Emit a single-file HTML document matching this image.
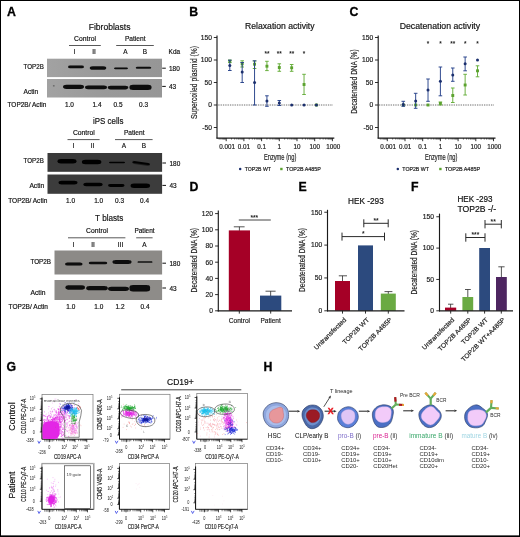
<!DOCTYPE html>
<html><head><meta charset="utf-8"><title>Figure</title>
<style>
html,body{margin:0;padding:0;background:#fff;}
body{width:520px;height:537px;overflow:hidden;position:relative;}
svg{will-change:transform;display:block;position:absolute;left:0;top:0;font-family:'Liberation Sans', sans-serif;}
</style></head><body>
<svg width="520" height="537" viewBox="0 0 520 537">
<defs>
<filter id="bl" x="-20%" y="-50%" width="140%" height="200%"><feGaussianBlur stdDeviation="0.75"/></filter>
<linearGradient id="gA1" x1="0" x2="1" y1="0" y2="0"><stop offset="0" stop-color="#a2a2a2"/><stop offset="0.5" stop-color="#999"/><stop offset="1" stop-color="#969696"/></linearGradient>
<filter id="bl2" x="-20%" y="-20%" width="140%" height="140%"><feGaussianBlur stdDeviation="1.2"/></filter>
</defs>
<rect x="0" y="0" width="520" height="537" fill="#fff"/>
<text x="7" y="16.2" font-size="12.3" text-anchor="start" font-weight="bold" fill="#000" stroke="#000" stroke-width="0.3">A</text>
<text x="0" y="0" font-size="9.2" text-anchor="middle" font-weight="normal" fill="#111" stroke="#111" stroke-width="0.18" transform="translate(109.6,30.4) scale(0.929,1)">Fibroblasts</text>
<text x="0" y="0" font-size="6.9" text-anchor="middle" font-weight="normal" fill="#111" stroke="#111" stroke-width="0.18" transform="translate(85,41.2) scale(0.98,1)">Control</text>
<line x1="69" y1="45.5" x2="100.8" y2="45.5" stroke="#111" stroke-width="0.7"/>
<text x="0" y="0" font-size="6.9" text-anchor="middle" font-weight="normal" fill="#111" stroke="#111" stroke-width="0.18" transform="translate(135.2,41.2) scale(0.959,1)">Patient</text>
<line x1="116.2" y1="45.5" x2="153.8" y2="45.5" stroke="#111" stroke-width="0.7"/>
<text x="0" y="0" font-size="6.8" text-anchor="middle" font-weight="normal" fill="#111" stroke="#111" stroke-width="0.18" transform="translate(74.5,53.9) scale(0.95,1)">I</text>
<text x="0" y="0" font-size="6.8" text-anchor="middle" font-weight="normal" fill="#111" stroke="#111" stroke-width="0.18" transform="translate(94,53.9) scale(0.95,1)">II</text>
<text x="0" y="0" font-size="6.8" text-anchor="middle" font-weight="normal" fill="#111" stroke="#111" stroke-width="0.18" transform="translate(125.5,53.9) scale(0.95,1)">A</text>
<text x="0" y="0" font-size="6.8" text-anchor="middle" font-weight="normal" fill="#111" stroke="#111" stroke-width="0.18" transform="translate(145,53.9) scale(0.95,1)">B</text>
<text x="0" y="0" font-size="6.8" text-anchor="start" font-weight="normal" fill="#111" stroke="#111" stroke-width="0.18" transform="translate(168.6,53.9) scale(0.95,1)">Kda</text>
<rect x="47" y="58.7" width="115" height="18.4" fill="url(#gA1)"/>
<rect x="47" y="79" width="115" height="18.5" fill="url(#gA1)"/>
<rect x="68.00" y="65.62" width="16" height="2.75" rx="2.20" ry="1.38" fill="#0a0a0a" opacity="1" filter="url(#bl)"/>
<rect x="89.75" y="66.19" width="16.5" height="3.61" rx="2.89" ry="1.80" fill="#0a0a0a" opacity="1" filter="url(#bl)"/>
<rect x="114.00" y="67.44" width="14" height="1.72" rx="1.38" ry="0.86" fill="#0a0a0a" opacity="1" filter="url(#bl)"/>
<rect x="135.75" y="66.77" width="15.5" height="2.06" rx="1.65" ry="1.03" fill="#0a0a0a" opacity="1" filter="url(#bl)"/>
<rect x="63.00" y="84.65" width="21" height="4.3" rx="3.44" ry="2.15" fill="#0a0a0a" opacity="1" filter="url(#bl)"/>
<rect x="85.00" y="85.41" width="22" height="3.78" rx="3.02" ry="1.89" fill="#0a0a0a" opacity="1" filter="url(#bl)"/>
<rect x="107.75" y="85.79" width="20.5" height="3.61" rx="2.89" ry="1.80" fill="#0a0a0a" opacity="1" filter="url(#bl)"/>
<rect x="129.50" y="84.82" width="22" height="5.16" rx="3.52" ry="2.20" fill="#0a0a0a" opacity="1" filter="url(#bl)"/>
<rect x="52.80" y="85.20" width="2" height="1.2" rx="0.96" ry="0.60" fill="#555" opacity="1" filter="url(#bl)"/>
<line x1="162.2" y1="68.2" x2="165.8" y2="68.2" stroke="#111" stroke-width="1.0"/>
<text x="0" y="0" font-size="6.8" text-anchor="start" font-weight="normal" fill="#111" stroke="#111" stroke-width="0.18" transform="translate(169,70.6) scale(0.95,1)">180</text>
<line x1="162.2" y1="86.4" x2="165.8" y2="86.4" stroke="#111" stroke-width="1.0"/>
<text x="0" y="0" font-size="6.8" text-anchor="start" font-weight="normal" fill="#111" stroke="#111" stroke-width="0.18" transform="translate(169,88.7) scale(0.95,1)">43</text>
<text x="0" y="0" font-size="6.8" text-anchor="start" font-weight="normal" fill="#111" stroke="#111" stroke-width="0.18" transform="translate(23.6,68.8) scale(0.911,1)">TOP2B</text>
<text x="0" y="0" font-size="6.8" text-anchor="start" font-weight="normal" fill="#111" stroke="#111" stroke-width="0.18" transform="translate(23.6,94.2) scale(0.972,1)">Actin</text>
<text x="0" y="0" font-size="6.8" text-anchor="start" font-weight="normal" fill="#111" stroke="#111" stroke-width="0.18" transform="translate(7.5,106.6) scale(0.958,1)">TOP2B/ Actin</text>
<text x="0" y="0" font-size="6.8" text-anchor="middle" font-weight="normal" fill="#111" stroke="#111" stroke-width="0.18" transform="translate(69.4,106.89999999999999) scale(0.95,1)">1.0</text>
<text x="0" y="0" font-size="6.8" text-anchor="middle" font-weight="normal" fill="#111" stroke="#111" stroke-width="0.18" transform="translate(97,106.89999999999999) scale(0.95,1)">1.4</text>
<text x="0" y="0" font-size="6.8" text-anchor="middle" font-weight="normal" fill="#111" stroke="#111" stroke-width="0.18" transform="translate(118,106.89999999999999) scale(0.95,1)">0.5</text>
<text x="0" y="0" font-size="6.8" text-anchor="middle" font-weight="normal" fill="#111" stroke="#111" stroke-width="0.18" transform="translate(143.6,106.89999999999999) scale(0.95,1)">0.3</text>
<text x="0" y="0" font-size="9.2" text-anchor="middle" font-weight="normal" fill="#111" stroke="#111" stroke-width="0.18" transform="translate(108.2,124.3) scale(0.862,1)">iPS cells</text>
<text x="0" y="0" font-size="6.9" text-anchor="middle" font-weight="normal" fill="#111" stroke="#111" stroke-width="0.18" transform="translate(83.8,135.4) scale(0.98,1)">Control</text>
<line x1="67.5" y1="139.6" x2="99.6" y2="139.6" stroke="#111" stroke-width="0.7"/>
<text x="0" y="0" font-size="6.9" text-anchor="middle" font-weight="normal" fill="#111" stroke="#111" stroke-width="0.18" transform="translate(134.2,135.4) scale(0.959,1)">Patient</text>
<line x1="115" y1="139.6" x2="152.6" y2="139.6" stroke="#111" stroke-width="0.7"/>
<text x="0" y="0" font-size="6.8" text-anchor="middle" font-weight="normal" fill="#111" stroke="#111" stroke-width="0.18" transform="translate(73.3,148.3) scale(0.95,1)">I</text>
<text x="0" y="0" font-size="6.8" text-anchor="middle" font-weight="normal" fill="#111" stroke="#111" stroke-width="0.18" transform="translate(92.6,148.3) scale(0.95,1)">II</text>
<text x="0" y="0" font-size="6.8" text-anchor="middle" font-weight="normal" fill="#111" stroke="#111" stroke-width="0.18" transform="translate(123.8,148.3) scale(0.95,1)">A</text>
<text x="0" y="0" font-size="6.8" text-anchor="middle" font-weight="normal" fill="#111" stroke="#111" stroke-width="0.18" transform="translate(143.8,148.3) scale(0.95,1)">B</text>
<rect x="47.5" y="153" width="114.6" height="18.8" fill="#3a3a3a"/>
<rect x="47.5" y="174.5" width="114.6" height="19.3" fill="#3c3c3c"/>
<rect x="57.50" y="159.10" width="19" height="4.4" rx="3.52" ry="2.20" fill="#000" opacity="1" filter="url(#bl)"/>
<rect x="81.85" y="159.80" width="19.5" height="4.4" rx="3.52" ry="2.20" fill="#000" opacity="1" filter="url(#bl)"/>
<rect x="109.00" y="161.84" width="16" height="1.32" rx="1.06" ry="0.66" fill="#000" opacity="1" filter="url(#bl)"/>
<rect x="132.45" y="162.00" width="17.5" height="2.4" rx="1.92" ry="1.20" fill="#000" opacity="1" filter="url(#bl)" transform="rotate(8 141.2 163.2)"/>
<rect x="58.50" y="180.66" width="19" height="3.87" rx="3.10" ry="1.94" fill="#000" opacity="1" filter="url(#bl)"/>
<rect x="83.25" y="182.64" width="19.5" height="3.52" rx="2.82" ry="1.76" fill="#000" opacity="1" filter="url(#bl)"/>
<rect x="108.05" y="184.00" width="16.5" height="2.99" rx="2.39" ry="1.50" fill="#000" opacity="1" filter="url(#bl)"/>
<rect x="130.55" y="183.50" width="19.5" height="4.4" rx="3.52" ry="2.20" fill="#000" opacity="1" filter="url(#bl)"/>
<line x1="162.4" y1="163" x2="166" y2="163" stroke="#111" stroke-width="1.0"/>
<text x="0" y="0" font-size="6.8" text-anchor="start" font-weight="normal" fill="#111" stroke="#111" stroke-width="0.18" transform="translate(169.5,165.5) scale(0.95,1)">180</text>
<line x1="162.4" y1="185.4" x2="166" y2="185.4" stroke="#111" stroke-width="1.0"/>
<text x="0" y="0" font-size="6.8" text-anchor="start" font-weight="normal" fill="#111" stroke="#111" stroke-width="0.18" transform="translate(169.5,187.9) scale(0.95,1)">43</text>
<text x="0" y="0" font-size="6.8" text-anchor="start" font-weight="normal" fill="#111" stroke="#111" stroke-width="0.18" transform="translate(23.6,163) scale(0.911,1)">TOP2B</text>
<text x="0" y="0" font-size="6.8" text-anchor="start" font-weight="normal" fill="#111" stroke="#111" stroke-width="0.18" transform="translate(29.4,188.2) scale(0.986,1)">Actin</text>
<text x="0" y="0" font-size="6.8" text-anchor="start" font-weight="normal" fill="#111" stroke="#111" stroke-width="0.18" transform="translate(8.2,203) scale(0.963,1)">TOP2B/ Actin</text>
<text x="0" y="0" font-size="6.8" text-anchor="middle" font-weight="normal" fill="#111" stroke="#111" stroke-width="0.18" transform="translate(70.5,203.3) scale(0.95,1)">1.0</text>
<text x="0" y="0" font-size="6.8" text-anchor="middle" font-weight="normal" fill="#111" stroke="#111" stroke-width="0.18" transform="translate(98.7,203.3) scale(0.95,1)">1.0</text>
<text x="0" y="0" font-size="6.8" text-anchor="middle" font-weight="normal" fill="#111" stroke="#111" stroke-width="0.18" transform="translate(119.5,203.3) scale(0.95,1)">0.3</text>
<text x="0" y="0" font-size="6.8" text-anchor="middle" font-weight="normal" fill="#111" stroke="#111" stroke-width="0.18" transform="translate(144.5,203.3) scale(0.95,1)">0.4</text>
<text x="0" y="0" font-size="9.2" text-anchor="middle" font-weight="normal" fill="#111" stroke="#111" stroke-width="0.18" transform="translate(109.2,221.3) scale(0.883,1)">T blasts</text>
<text x="0" y="0" font-size="6.9" text-anchor="middle" font-weight="normal" fill="#111" stroke="#111" stroke-width="0.18" transform="translate(97,233) scale(0.98,1)">Control</text>
<line x1="68" y1="237.8" x2="125.4" y2="237.8" stroke="#111" stroke-width="0.7"/>
<text x="0" y="0" font-size="6.9" text-anchor="middle" font-weight="normal" fill="#111" stroke="#111" stroke-width="0.18" transform="translate(144.5,233) scale(0.94,1)">Patient</text>
<line x1="136.2" y1="237.8" x2="152.6" y2="237.8" stroke="#111" stroke-width="0.7"/>
<text x="0" y="0" font-size="6.8" text-anchor="middle" font-weight="normal" fill="#111" stroke="#111" stroke-width="0.18" transform="translate(73.3,246.60000000000002) scale(0.95,1)">I</text>
<text x="0" y="0" font-size="6.8" text-anchor="middle" font-weight="normal" fill="#111" stroke="#111" stroke-width="0.18" transform="translate(93,246.60000000000002) scale(0.95,1)">II</text>
<text x="0" y="0" font-size="6.8" text-anchor="middle" font-weight="normal" fill="#111" stroke="#111" stroke-width="0.18" transform="translate(120.5,246.60000000000002) scale(0.95,1)">III</text>
<text x="0" y="0" font-size="6.8" text-anchor="middle" font-weight="normal" fill="#111" stroke="#111" stroke-width="0.18" transform="translate(144.3,246.60000000000002) scale(0.95,1)">A</text>
<rect x="54.5" y="250.5" width="107.6" height="24" fill="#8c8a87"/>
<rect x="54.5" y="280" width="107.6" height="20" fill="#8e8c89"/>
<rect x="65.05" y="262.45" width="17.5" height="3.1" rx="2.48" ry="1.55" fill="#0a0a0a" opacity="1" filter="url(#bl)"/>
<rect x="88.75" y="261.71" width="18.5" height="2.58" rx="2.06" ry="1.29" fill="#0a0a0a" opacity="1" filter="url(#bl)"/>
<rect x="112.50" y="260.02" width="19" height="3.96" rx="3.17" ry="1.98" fill="#0a0a0a" opacity="1" filter="url(#bl)"/>
<rect x="137.50" y="261.14" width="15" height="1.72" rx="1.38" ry="0.86" fill="#0a0a0a" opacity="1" filter="url(#bl)"/>
<rect x="65.45" y="285.35" width="19.5" height="4.3" rx="3.44" ry="2.15" fill="#0a0a0a" opacity="1" filter="url(#bl)"/>
<rect x="86.25" y="286.05" width="21.5" height="4.3" rx="3.44" ry="2.15" fill="#0a0a0a" opacity="1" filter="url(#bl)"/>
<rect x="108.00" y="286.65" width="21" height="4.3" rx="3.44" ry="2.15" fill="#0a0a0a" opacity="1" filter="url(#bl)"/>
<rect x="129.55" y="284.93" width="20.5" height="6.54" rx="3.52" ry="2.20" fill="#0a0a0a" opacity="1" filter="url(#bl)"/>
<line x1="162.4" y1="263.2" x2="166" y2="263.2" stroke="#111" stroke-width="1.0"/>
<text x="0" y="0" font-size="6.8" text-anchor="start" font-weight="normal" fill="#111" stroke="#111" stroke-width="0.18" transform="translate(169.5,265.7) scale(0.95,1)">180</text>
<line x1="162.4" y1="288" x2="166" y2="288" stroke="#111" stroke-width="1.0"/>
<text x="0" y="0" font-size="6.8" text-anchor="start" font-weight="normal" fill="#111" stroke="#111" stroke-width="0.18" transform="translate(169.5,290.5) scale(0.95,1)">43</text>
<text x="0" y="0" font-size="6.8" text-anchor="start" font-weight="normal" fill="#111" stroke="#111" stroke-width="0.18" transform="translate(30.4,264) scale(0.929,1)">TOP2B</text>
<text x="0" y="0" font-size="6.8" text-anchor="start" font-weight="normal" fill="#111" stroke="#111" stroke-width="0.18" transform="translate(30.4,294.5) scale(0.992,1)">Actin</text>
<text x="0" y="0" font-size="6.8" text-anchor="start" font-weight="normal" fill="#111" stroke="#111" stroke-width="0.18" transform="translate(8.6,308.8) scale(0.966,1)">TOP2B/ Actin</text>
<text x="0" y="0" font-size="6.8" text-anchor="middle" font-weight="normal" fill="#111" stroke="#111" stroke-width="0.18" transform="translate(70.8,309.1) scale(0.95,1)">1.0</text>
<text x="0" y="0" font-size="6.8" text-anchor="middle" font-weight="normal" fill="#111" stroke="#111" stroke-width="0.18" transform="translate(98.8,309.1) scale(0.95,1)">1.0</text>
<text x="0" y="0" font-size="6.8" text-anchor="middle" font-weight="normal" fill="#111" stroke="#111" stroke-width="0.18" transform="translate(120,309.1) scale(0.95,1)">1.2</text>
<text x="0" y="0" font-size="6.8" text-anchor="middle" font-weight="normal" fill="#111" stroke="#111" stroke-width="0.18" transform="translate(145,309.1) scale(0.95,1)">0.4</text>
<text x="189.3" y="16.2" font-size="12.3" text-anchor="start" font-weight="bold" fill="#000" stroke="#000" stroke-width="0.3">B</text>
<text x="0" y="0" font-size="8.6" text-anchor="middle" font-weight="normal" fill="#111" stroke="#111" stroke-width="0.18" transform="translate(279.8,29) scale(1.004,1)">Relaxation activity</text>
<line x1="217" y1="35.6" x2="217" y2="138.6" stroke="#1a1a1a" stroke-width="1.15"/>
<line x1="216.5" y1="138.0" x2="334.3" y2="138.0" stroke="#1a1a1a" stroke-width="1.25"/>
<line x1="213.8" y1="37.5" x2="217" y2="37.5" stroke="#1a1a1a" stroke-width="0.9"/>
<text x="0" y="0" font-size="6.5" text-anchor="end" font-weight="normal" fill="#222" stroke="#222" stroke-width="0.18" transform="translate(212,39.8) scale(1.03,1)">150</text>
<line x1="213.8" y1="60.0" x2="217" y2="60.0" stroke="#1a1a1a" stroke-width="0.9"/>
<text x="0" y="0" font-size="6.5" text-anchor="end" font-weight="normal" fill="#222" stroke="#222" stroke-width="0.18" transform="translate(212,62.3) scale(1.03,1)">100</text>
<line x1="213.8" y1="82.5" x2="217" y2="82.5" stroke="#1a1a1a" stroke-width="0.9"/>
<text x="0" y="0" font-size="6.5" text-anchor="end" font-weight="normal" fill="#222" stroke="#222" stroke-width="0.18" transform="translate(212,84.8) scale(1.03,1)">50</text>
<line x1="213.8" y1="105.0" x2="217" y2="105.0" stroke="#1a1a1a" stroke-width="0.9"/>
<text x="0" y="0" font-size="6.5" text-anchor="end" font-weight="normal" fill="#222" stroke="#222" stroke-width="0.18" transform="translate(212,107.3) scale(1.03,1)">0</text>
<line x1="213.8" y1="127.5" x2="217" y2="127.5" stroke="#1a1a1a" stroke-width="0.9"/>
<text x="0" y="0" font-size="6.5" text-anchor="end" font-weight="normal" fill="#222" stroke="#222" stroke-width="0.18" transform="translate(212,129.8) scale(1.03,1)">-50</text>
<text x="0" y="0" font-size="8.8" text-anchor="middle" font-weight="normal" fill="#222" stroke="#222" stroke-width="0.18" transform="translate(196.6,82.5) rotate(-90) scale(0.765,1)">Supercoiled plasmid (%)</text>
<line x1="217.8" y1="105.0" x2="333" y2="105.0" stroke="#333" stroke-width="0.9" stroke-dasharray="0.8 0.95"/>
<path d="M226.20 138.0v3.2M243.90 138.0v3.2M261.60 138.0v3.2M279.30 138.0v3.2M297.00 138.0v3.2M314.70 138.0v3.2M332.40 138.0v3.2" stroke="#1a1a1a" stroke-width="0.9" fill="none"/>
<path d="M219.16 138.0v1.7M220.87 138.0v1.7M222.27 138.0v1.7M223.46 138.0v1.7M224.48 138.0v1.7M225.39 138.0v1.7M231.53 138.0v1.7M234.65 138.0v1.7M236.86 138.0v1.7M238.57 138.0v1.7M239.97 138.0v1.7M241.16 138.0v1.7M242.18 138.0v1.7M243.09 138.0v1.7M249.23 138.0v1.7M252.35 138.0v1.7M254.56 138.0v1.7M256.27 138.0v1.7M257.67 138.0v1.7M258.86 138.0v1.7M259.88 138.0v1.7M260.79 138.0v1.7M266.93 138.0v1.7M270.05 138.0v1.7M272.26 138.0v1.7M273.97 138.0v1.7M275.37 138.0v1.7M276.56 138.0v1.7M277.58 138.0v1.7M278.49 138.0v1.7M284.63 138.0v1.7M287.75 138.0v1.7M289.96 138.0v1.7M291.67 138.0v1.7M293.07 138.0v1.7M294.26 138.0v1.7M295.28 138.0v1.7M296.19 138.0v1.7M302.33 138.0v1.7M305.45 138.0v1.7M307.66 138.0v1.7M309.37 138.0v1.7M310.77 138.0v1.7M311.96 138.0v1.7M312.98 138.0v1.7M313.89 138.0v1.7M320.03 138.0v1.7M323.15 138.0v1.7M325.36 138.0v1.7M327.07 138.0v1.7M328.47 138.0v1.7M329.66 138.0v1.7M330.68 138.0v1.7M331.59 138.0v1.7" stroke="#1a1a1a" stroke-width="0.55" fill="none"/>
<text x="0" y="0" font-size="6.3" text-anchor="middle" font-weight="normal" fill="#222" stroke="#222" stroke-width="0.18" transform="translate(227.00000000000003,149) scale(1.0,1)">0.001</text>
<text x="0" y="0" font-size="6.3" text-anchor="middle" font-weight="normal" fill="#222" stroke="#222" stroke-width="0.18" transform="translate(243.9,149) scale(1.0,1)">0.01</text>
<text x="0" y="0" font-size="6.3" text-anchor="middle" font-weight="normal" fill="#222" stroke="#222" stroke-width="0.18" transform="translate(261.6,149) scale(1.0,1)">0.1</text>
<text x="0" y="0" font-size="6.3" text-anchor="middle" font-weight="normal" fill="#222" stroke="#222" stroke-width="0.18" transform="translate(279.3,149) scale(1.0,1)">1</text>
<text x="0" y="0" font-size="6.3" text-anchor="middle" font-weight="normal" fill="#222" stroke="#222" stroke-width="0.18" transform="translate(297.0,149) scale(1.0,1)">10</text>
<text x="0" y="0" font-size="6.3" text-anchor="middle" font-weight="normal" fill="#222" stroke="#222" stroke-width="0.18" transform="translate(314.7,149) scale(1.0,1)">100</text>
<text x="0" y="0" font-size="6.3" text-anchor="middle" font-weight="normal" fill="#222" stroke="#222" stroke-width="0.18" transform="translate(333.2,149) scale(1.0,1)">1000</text>
<text x="0" y="0" font-size="8.8" text-anchor="middle" font-weight="normal" fill="#222" stroke="#222" stroke-width="0.18" transform="translate(280.1,160.4) scale(0.652,1)">Enzyme (ng)</text>
<line x1="229.81" y1="60.2" x2="229.81" y2="62.6" stroke="#64ad38" stroke-width="0.95"/>
<line x1="228.01" y1="60.2" x2="231.61" y2="60.2" stroke="#64ad38" stroke-width="0.95"/>
<line x1="228.01" y1="62.6" x2="231.61" y2="62.6" stroke="#64ad38" stroke-width="0.95"/>
<rect x="228.36" y="59.75" width="2.9" height="2.9" fill="#5ba22e"/>
<line x1="242.18" y1="60.8" x2="242.18" y2="67" stroke="#64ad38" stroke-width="0.95"/>
<line x1="240.38" y1="60.8" x2="243.98000000000002" y2="60.8" stroke="#64ad38" stroke-width="0.95"/>
<line x1="240.38" y1="67" x2="243.98000000000002" y2="67" stroke="#64ad38" stroke-width="0.95"/>
<rect x="240.73" y="62.35" width="2.9" height="2.9" fill="#5ba22e"/>
<line x1="254.56" y1="61" x2="254.56" y2="68.5" stroke="#64ad38" stroke-width="0.95"/>
<line x1="252.76" y1="61" x2="256.36" y2="61" stroke="#64ad38" stroke-width="0.95"/>
<line x1="252.76" y1="68.5" x2="256.36" y2="68.5" stroke="#64ad38" stroke-width="0.95"/>
<rect x="253.11" y="62.75" width="2.9" height="2.9" fill="#5ba22e"/>
<line x1="266.93" y1="61.3" x2="266.93" y2="70.6" stroke="#64ad38" stroke-width="0.95"/>
<line x1="265.13" y1="61.3" x2="268.73" y2="61.3" stroke="#64ad38" stroke-width="0.95"/>
<line x1="265.13" y1="70.6" x2="268.73" y2="70.6" stroke="#64ad38" stroke-width="0.95"/>
<rect x="265.48" y="64.75" width="2.9" height="2.9" fill="#5ba22e"/>
<line x1="279.3" y1="63.8" x2="279.3" y2="71.3" stroke="#64ad38" stroke-width="0.95"/>
<line x1="277.5" y1="63.8" x2="281.1" y2="63.8" stroke="#64ad38" stroke-width="0.95"/>
<line x1="277.5" y1="71.3" x2="281.1" y2="71.3" stroke="#64ad38" stroke-width="0.95"/>
<rect x="277.85" y="66.05" width="2.9" height="2.9" fill="#5ba22e"/>
<line x1="291.67" y1="64.5" x2="291.67" y2="71.3" stroke="#64ad38" stroke-width="0.95"/>
<line x1="289.87" y1="64.5" x2="293.47" y2="64.5" stroke="#64ad38" stroke-width="0.95"/>
<line x1="289.87" y1="71.3" x2="293.47" y2="71.3" stroke="#64ad38" stroke-width="0.95"/>
<rect x="290.22" y="66.35" width="2.9" height="2.9" fill="#5ba22e"/>
<line x1="304.04" y1="74.3" x2="304.04" y2="94.5" stroke="#64ad38" stroke-width="0.95"/>
<line x1="302.24" y1="74.3" x2="305.84000000000003" y2="74.3" stroke="#64ad38" stroke-width="0.95"/>
<line x1="302.24" y1="94.5" x2="305.84000000000003" y2="94.5" stroke="#64ad38" stroke-width="0.95"/>
<rect x="302.59" y="83.05" width="2.9" height="2.9" fill="#5ba22e"/>
<rect x="314.97" y="103.55" width="2.9" height="2.9" fill="#5ba22e"/>
<line x1="229.81" y1="60.2" x2="229.81" y2="70.5" stroke="#26418a" stroke-width="0.95"/>
<line x1="228.01" y1="60.2" x2="231.61" y2="60.2" stroke="#26418a" stroke-width="0.95"/>
<line x1="228.01" y1="70.5" x2="231.61" y2="70.5" stroke="#26418a" stroke-width="0.95"/>
<circle cx="229.81" cy="65.5" r="1.5" fill="#1b2f6d"/>
<line x1="242.18" y1="62.5" x2="242.18" y2="82.5" stroke="#26418a" stroke-width="0.95"/>
<line x1="240.38" y1="62.5" x2="243.98000000000002" y2="62.5" stroke="#26418a" stroke-width="0.95"/>
<line x1="240.38" y1="82.5" x2="243.98000000000002" y2="82.5" stroke="#26418a" stroke-width="0.95"/>
<circle cx="242.18" cy="72" r="1.5" fill="#1b2f6d"/>
<line x1="254.56" y1="60.8" x2="254.56" y2="105" stroke="#26418a" stroke-width="0.95"/>
<line x1="252.76" y1="60.8" x2="256.36" y2="60.8" stroke="#26418a" stroke-width="0.95"/>
<line x1="252.76" y1="105" x2="256.36" y2="105" stroke="#26418a" stroke-width="0.95"/>
<circle cx="254.56" cy="82.5" r="1.5" fill="#1b2f6d"/>
<line x1="266.93" y1="95.8" x2="266.93" y2="106.3" stroke="#26418a" stroke-width="0.95"/>
<line x1="265.13" y1="95.8" x2="268.73" y2="95.8" stroke="#26418a" stroke-width="0.95"/>
<line x1="265.13" y1="106.3" x2="268.73" y2="106.3" stroke="#26418a" stroke-width="0.95"/>
<circle cx="266.93" cy="101" r="1.5" fill="#1b2f6d"/>
<line x1="279.3" y1="100.5" x2="279.3" y2="105.5" stroke="#26418a" stroke-width="0.95"/>
<line x1="277.5" y1="100.5" x2="281.1" y2="100.5" stroke="#26418a" stroke-width="0.95"/>
<line x1="277.5" y1="105.5" x2="281.1" y2="105.5" stroke="#26418a" stroke-width="0.95"/>
<circle cx="279.3" cy="103" r="1.5" fill="#1b2f6d"/>
<circle cx="291.67" cy="105" r="1.5" fill="#1b2f6d"/>
<circle cx="304.04" cy="105" r="1.5" fill="#1b2f6d"/>
<circle cx="316.42" cy="105" r="1.5" fill="#1b2f6d"/>
<text x="266.93" y="56.2" font-size="6.4" text-anchor="middle" font-weight="bold" fill="#222" stroke="none">**</text>
<text x="279.3" y="56.2" font-size="6.4" text-anchor="middle" font-weight="bold" fill="#222" stroke="none">**</text>
<text x="291.67" y="56.2" font-size="6.4" text-anchor="middle" font-weight="bold" fill="#222" stroke="none">**</text>
<text x="304.04" y="56.2" font-size="6.4" text-anchor="middle" font-weight="bold" fill="#222" stroke="none">*</text>
<circle cx="240.2" cy="169" r="1.25" fill="#1b2f6d"/>
<text x="0" y="0" font-size="4.9" text-anchor="start" font-weight="normal" fill="#222" stroke="#222" stroke-width="0.18" transform="translate(244.8,170.7) scale(1.05,1)">TOP2B WT</text>
<rect x="280.20" y="167.80" width="2.4" height="2.4" fill="#5ba22e"/>
<text x="0" y="0" font-size="4.9" text-anchor="start" font-weight="normal" fill="#222" stroke="#222" stroke-width="0.18" transform="translate(286,170.7) scale(1.095,1)">TOP2B A485P</text>
<text x="349.6" y="16.2" font-size="12.3" text-anchor="start" font-weight="bold" fill="#000" stroke="#000" stroke-width="0.3">C</text>
<text x="0" y="0" font-size="8.6" text-anchor="middle" font-weight="normal" fill="#111" stroke="#111" stroke-width="0.18" transform="translate(439.9,29) scale(1.016,1)">Decatenation activity</text>
<line x1="378.2" y1="35.6" x2="378.2" y2="138.6" stroke="#1a1a1a" stroke-width="1.15"/>
<line x1="377.7" y1="138.0" x2="495.5" y2="138.0" stroke="#1a1a1a" stroke-width="1.25"/>
<line x1="375.0" y1="37.5" x2="378.2" y2="37.5" stroke="#1a1a1a" stroke-width="0.9"/>
<text x="0" y="0" font-size="6.5" text-anchor="end" font-weight="normal" fill="#222" stroke="#222" stroke-width="0.18" transform="translate(373.2,39.8) scale(1.03,1)">150</text>
<line x1="375.0" y1="60.0" x2="378.2" y2="60.0" stroke="#1a1a1a" stroke-width="0.9"/>
<text x="0" y="0" font-size="6.5" text-anchor="end" font-weight="normal" fill="#222" stroke="#222" stroke-width="0.18" transform="translate(373.2,62.3) scale(1.03,1)">100</text>
<line x1="375.0" y1="82.5" x2="378.2" y2="82.5" stroke="#1a1a1a" stroke-width="0.9"/>
<text x="0" y="0" font-size="6.5" text-anchor="end" font-weight="normal" fill="#222" stroke="#222" stroke-width="0.18" transform="translate(373.2,84.8) scale(1.03,1)">50</text>
<line x1="375.0" y1="105.0" x2="378.2" y2="105.0" stroke="#1a1a1a" stroke-width="0.9"/>
<text x="0" y="0" font-size="6.5" text-anchor="end" font-weight="normal" fill="#222" stroke="#222" stroke-width="0.18" transform="translate(373.2,107.3) scale(1.03,1)">0</text>
<line x1="375.0" y1="127.5" x2="378.2" y2="127.5" stroke="#1a1a1a" stroke-width="0.9"/>
<text x="0" y="0" font-size="6.5" text-anchor="end" font-weight="normal" fill="#222" stroke="#222" stroke-width="0.18" transform="translate(373.2,129.8) scale(1.03,1)">-50</text>
<text x="0" y="0" font-size="8.8" text-anchor="middle" font-weight="normal" fill="#222" stroke="#222" stroke-width="0.18" transform="translate(357.2,81.6) rotate(-90) scale(0.745,1)">Decatenated DNA (%)</text>
<line x1="379.0" y1="105.0" x2="494.2" y2="105.0" stroke="#333" stroke-width="0.9" stroke-dasharray="0.8 0.95"/>
<path d="M387.30 138.0v3.2M405.00 138.0v3.2M422.70 138.0v3.2M440.40 138.0v3.2M458.10 138.0v3.2M475.80 138.0v3.2M493.50 138.0v3.2" stroke="#1a1a1a" stroke-width="0.9" fill="none"/>
<path d="M380.26 138.0v1.7M381.97 138.0v1.7M383.37 138.0v1.7M384.56 138.0v1.7M385.58 138.0v1.7M386.49 138.0v1.7M392.63 138.0v1.7M395.75 138.0v1.7M397.96 138.0v1.7M399.67 138.0v1.7M401.07 138.0v1.7M402.26 138.0v1.7M403.28 138.0v1.7M404.19 138.0v1.7M410.33 138.0v1.7M413.45 138.0v1.7M415.66 138.0v1.7M417.37 138.0v1.7M418.77 138.0v1.7M419.96 138.0v1.7M420.98 138.0v1.7M421.89 138.0v1.7M428.03 138.0v1.7M431.15 138.0v1.7M433.36 138.0v1.7M435.07 138.0v1.7M436.47 138.0v1.7M437.66 138.0v1.7M438.68 138.0v1.7M439.59 138.0v1.7M445.73 138.0v1.7M448.85 138.0v1.7M451.06 138.0v1.7M452.77 138.0v1.7M454.17 138.0v1.7M455.36 138.0v1.7M456.38 138.0v1.7M457.29 138.0v1.7M463.43 138.0v1.7M466.55 138.0v1.7M468.76 138.0v1.7M470.47 138.0v1.7M471.87 138.0v1.7M473.06 138.0v1.7M474.08 138.0v1.7M474.99 138.0v1.7M481.13 138.0v1.7M484.25 138.0v1.7M486.46 138.0v1.7M488.17 138.0v1.7M489.57 138.0v1.7M490.76 138.0v1.7M491.78 138.0v1.7M492.69 138.0v1.7" stroke="#1a1a1a" stroke-width="0.55" fill="none"/>
<text x="0" y="0" font-size="6.3" text-anchor="middle" font-weight="normal" fill="#222" stroke="#222" stroke-width="0.18" transform="translate(388.09999999999997,149) scale(1.0,1)">0.001</text>
<text x="0" y="0" font-size="6.3" text-anchor="middle" font-weight="normal" fill="#222" stroke="#222" stroke-width="0.18" transform="translate(405.0,149) scale(1.0,1)">0.01</text>
<text x="0" y="0" font-size="6.3" text-anchor="middle" font-weight="normal" fill="#222" stroke="#222" stroke-width="0.18" transform="translate(422.7,149) scale(1.0,1)">0.1</text>
<text x="0" y="0" font-size="6.3" text-anchor="middle" font-weight="normal" fill="#222" stroke="#222" stroke-width="0.18" transform="translate(440.4,149) scale(1.0,1)">1</text>
<text x="0" y="0" font-size="6.3" text-anchor="middle" font-weight="normal" fill="#222" stroke="#222" stroke-width="0.18" transform="translate(458.09999999999997,149) scale(1.0,1)">10</text>
<text x="0" y="0" font-size="6.3" text-anchor="middle" font-weight="normal" fill="#222" stroke="#222" stroke-width="0.18" transform="translate(475.79999999999995,149) scale(1.0,1)">100</text>
<text x="0" y="0" font-size="6.3" text-anchor="middle" font-weight="normal" fill="#222" stroke="#222" stroke-width="0.18" transform="translate(494.3,149) scale(1.0,1)">1000</text>
<text x="0" y="0" font-size="8.8" text-anchor="middle" font-weight="normal" fill="#222" stroke="#222" stroke-width="0.18" transform="translate(441.2,160.4) scale(0.652,1)">Enzyme (ng)</text>
<rect x="401.83" y="103.55" width="2.9" height="2.9" fill="#5ba22e"/>
<rect x="414.21" y="103.55" width="2.9" height="2.9" fill="#5ba22e"/>
<rect x="426.58" y="103.55" width="2.9" height="2.9" fill="#5ba22e"/>
<line x1="440.4" y1="102" x2="440.4" y2="105" stroke="#64ad38" stroke-width="0.95"/>
<line x1="438.59999999999997" y1="102" x2="442.2" y2="102" stroke="#64ad38" stroke-width="0.95"/>
<line x1="438.59999999999997" y1="105" x2="442.2" y2="105" stroke="#64ad38" stroke-width="0.95"/>
<rect x="438.95" y="101.95" width="2.9" height="2.9" fill="#5ba22e"/>
<line x1="452.77" y1="88" x2="452.77" y2="102.5" stroke="#64ad38" stroke-width="0.95"/>
<line x1="450.96999999999997" y1="88" x2="454.57" y2="88" stroke="#64ad38" stroke-width="0.95"/>
<line x1="450.96999999999997" y1="102.5" x2="454.57" y2="102.5" stroke="#64ad38" stroke-width="0.95"/>
<rect x="451.32" y="94.05" width="2.9" height="2.9" fill="#5ba22e"/>
<line x1="465.14" y1="74.3" x2="465.14" y2="95" stroke="#64ad38" stroke-width="0.95"/>
<line x1="463.34" y1="74.3" x2="466.94" y2="74.3" stroke="#64ad38" stroke-width="0.95"/>
<line x1="463.34" y1="95" x2="466.94" y2="95" stroke="#64ad38" stroke-width="0.95"/>
<rect x="463.69" y="83.55" width="2.9" height="2.9" fill="#5ba22e"/>
<line x1="477.52" y1="65.8" x2="477.52" y2="76.8" stroke="#64ad38" stroke-width="0.95"/>
<line x1="475.71999999999997" y1="65.8" x2="479.32" y2="65.8" stroke="#64ad38" stroke-width="0.95"/>
<line x1="475.71999999999997" y1="76.8" x2="479.32" y2="76.8" stroke="#64ad38" stroke-width="0.95"/>
<rect x="476.07" y="69.35" width="2.9" height="2.9" fill="#5ba22e"/>
<line x1="403.28" y1="101.3" x2="403.28" y2="106.3" stroke="#26418a" stroke-width="0.95"/>
<line x1="401.47999999999996" y1="101.3" x2="405.08" y2="101.3" stroke="#26418a" stroke-width="0.95"/>
<line x1="401.47999999999996" y1="106.3" x2="405.08" y2="106.3" stroke="#26418a" stroke-width="0.95"/>
<circle cx="403.28" cy="104.5" r="1.5" fill="#1b2f6d"/>
<line x1="415.66" y1="93.3" x2="415.66" y2="108.3" stroke="#26418a" stroke-width="0.95"/>
<line x1="413.86" y1="93.3" x2="417.46000000000004" y2="93.3" stroke="#26418a" stroke-width="0.95"/>
<line x1="413.86" y1="108.3" x2="417.46000000000004" y2="108.3" stroke="#26418a" stroke-width="0.95"/>
<circle cx="415.66" cy="101" r="1.5" fill="#1b2f6d"/>
<line x1="428.03" y1="79" x2="428.03" y2="101.3" stroke="#26418a" stroke-width="0.95"/>
<line x1="426.22999999999996" y1="79" x2="429.83" y2="79" stroke="#26418a" stroke-width="0.95"/>
<line x1="426.22999999999996" y1="101.3" x2="429.83" y2="101.3" stroke="#26418a" stroke-width="0.95"/>
<circle cx="428.03" cy="90" r="1.5" fill="#1b2f6d"/>
<line x1="440.4" y1="67" x2="440.4" y2="95.8" stroke="#26418a" stroke-width="0.95"/>
<line x1="438.59999999999997" y1="67" x2="442.2" y2="67" stroke="#26418a" stroke-width="0.95"/>
<line x1="438.59999999999997" y1="95.8" x2="442.2" y2="95.8" stroke="#26418a" stroke-width="0.95"/>
<circle cx="440.4" cy="81.3" r="1.5" fill="#1b2f6d"/>
<line x1="452.77" y1="68" x2="452.77" y2="81.3" stroke="#26418a" stroke-width="0.95"/>
<line x1="450.96999999999997" y1="68" x2="454.57" y2="68" stroke="#26418a" stroke-width="0.95"/>
<line x1="450.96999999999997" y1="81.3" x2="454.57" y2="81.3" stroke="#26418a" stroke-width="0.95"/>
<circle cx="452.77" cy="75" r="1.5" fill="#1b2f6d"/>
<line x1="465.14" y1="57" x2="465.14" y2="70.8" stroke="#26418a" stroke-width="0.95"/>
<line x1="463.34" y1="57" x2="466.94" y2="57" stroke="#26418a" stroke-width="0.95"/>
<line x1="463.34" y1="70.8" x2="466.94" y2="70.8" stroke="#26418a" stroke-width="0.95"/>
<circle cx="465.14" cy="63.8" r="1.5" fill="#1b2f6d"/>
<circle cx="477.52" cy="60" r="1.5" fill="#1b2f6d"/>
<text x="428.03" y="46.2" font-size="6.4" text-anchor="middle" font-weight="bold" fill="#222" stroke="none">*</text>
<text x="440.4" y="46.2" font-size="6.4" text-anchor="middle" font-weight="bold" fill="#222" stroke="none">*</text>
<text x="452.77" y="46.2" font-size="6.4" text-anchor="middle" font-weight="bold" fill="#222" stroke="none">**</text>
<text x="465.14" y="46.2" font-size="6.4" text-anchor="middle" font-weight="bold" fill="#222" stroke="none">*</text>
<text x="477.52" y="46.2" font-size="6.4" text-anchor="middle" font-weight="bold" fill="#222" stroke="none">*</text>
<circle cx="397.8" cy="169" r="1.25" fill="#1b2f6d"/>
<text x="0" y="0" font-size="4.9" text-anchor="start" font-weight="normal" fill="#222" stroke="#222" stroke-width="0.18" transform="translate(402.3,170.7) scale(1.066,1)">TOP2B WT</text>
<rect x="439.20" y="167.80" width="2.4" height="2.4" fill="#5ba22e"/>
<text x="0" y="0" font-size="4.9" text-anchor="start" font-weight="normal" fill="#222" stroke="#222" stroke-width="0.18" transform="translate(444.9,170.7) scale(1.108,1)">TOP2B A485P</text>
<text x="189.6" y="190.8" font-size="12.3" text-anchor="start" font-weight="bold" fill="#000" stroke="#000" stroke-width="0.3">D</text>
<line x1="218.3" y1="210.6" x2="218.3" y2="311.40000000000003" stroke="#1a1a1a" stroke-width="1.15"/>
<line x1="215.10000000000002" y1="310.8" x2="218.3" y2="310.8" stroke="#1a1a1a" stroke-width="0.9"/>
<text x="0" y="0" font-size="6.5" text-anchor="end" font-weight="normal" fill="#222" stroke="#222" stroke-width="0.18" transform="translate(213,313.1) scale(1.03,1)">0</text>
<line x1="215.10000000000002" y1="294.6" x2="218.3" y2="294.6" stroke="#1a1a1a" stroke-width="0.9"/>
<text x="0" y="0" font-size="6.5" text-anchor="end" font-weight="normal" fill="#222" stroke="#222" stroke-width="0.18" transform="translate(213,296.90000000000003) scale(1.03,1)">20</text>
<line x1="215.10000000000002" y1="278.4" x2="218.3" y2="278.4" stroke="#1a1a1a" stroke-width="0.9"/>
<text x="0" y="0" font-size="6.5" text-anchor="end" font-weight="normal" fill="#222" stroke="#222" stroke-width="0.18" transform="translate(213,280.7) scale(1.03,1)">40</text>
<line x1="215.10000000000002" y1="262.2" x2="218.3" y2="262.2" stroke="#1a1a1a" stroke-width="0.9"/>
<text x="0" y="0" font-size="6.5" text-anchor="end" font-weight="normal" fill="#222" stroke="#222" stroke-width="0.18" transform="translate(213,264.5) scale(1.03,1)">60</text>
<line x1="215.10000000000002" y1="246.0" x2="218.3" y2="246.0" stroke="#1a1a1a" stroke-width="0.9"/>
<text x="0" y="0" font-size="6.5" text-anchor="end" font-weight="normal" fill="#222" stroke="#222" stroke-width="0.18" transform="translate(213,248.3) scale(1.03,1)">80</text>
<line x1="215.10000000000002" y1="229.8" x2="218.3" y2="229.8" stroke="#1a1a1a" stroke-width="0.9"/>
<text x="0" y="0" font-size="6.5" text-anchor="end" font-weight="normal" fill="#222" stroke="#222" stroke-width="0.18" transform="translate(213,232.10000000000002) scale(1.03,1)">100</text>
<line x1="215.10000000000002" y1="213.60000000000002" x2="218.3" y2="213.60000000000002" stroke="#1a1a1a" stroke-width="0.9"/>
<text x="0" y="0" font-size="6.5" text-anchor="end" font-weight="normal" fill="#222" stroke="#222" stroke-width="0.18" transform="translate(213,215.90000000000003) scale(1.03,1)">120</text>
<text x="0" y="0" font-size="8.8" text-anchor="middle" font-weight="normal" fill="#222" stroke="#222" stroke-width="0.18" transform="translate(196.6,260.2) rotate(-90) scale(0.745,1)">Decatenated DNA (%)</text>
<line x1="239.4" y1="226.8" x2="239.4" y2="230.9" stroke="#2a2a2a" stroke-width="0.8"/>
<line x1="233.8" y1="226.8" x2="244.6" y2="226.8" stroke="#2a2a2a" stroke-width="0.8"/>
<rect x="228.8" y="230.4" width="21.2" height="80.4" fill="#a50026"/>
<line x1="270.65" y1="291.2" x2="270.65" y2="296.1" stroke="#2a2a2a" stroke-width="0.8"/>
<line x1="265.5" y1="291.2" x2="275.6" y2="291.2" stroke="#2a2a2a" stroke-width="0.8"/>
<rect x="260" y="295.6" width="21.3" height="15.2" fill="#2c4a7e"/>
<line x1="217.8" y1="310.8" x2="292" y2="310.8" stroke="#1a1a1a" stroke-width="1.25"/>
<line x1="239.3" y1="310.8" x2="239.3" y2="313.6" stroke="#1a1a1a" stroke-width="0.9"/>
<line x1="270.7" y1="310.8" x2="270.7" y2="313.6" stroke="#1a1a1a" stroke-width="0.9"/>
<line x1="238.8" y1="220" x2="270.8" y2="220" stroke="#444" stroke-width="1.0"/>
<text x="254.3" y="219.6" font-size="6.6" text-anchor="middle" font-weight="bold" fill="#222" stroke="none">***</text>
<text x="0" y="0" font-size="7.1" text-anchor="middle" font-weight="normal" fill="#222" stroke="#222" stroke-width="0.18" transform="translate(239.4,322.7) scale(0.935,1)">Control</text>
<text x="0" y="0" font-size="7.1" text-anchor="middle" font-weight="normal" fill="#222" stroke="#222" stroke-width="0.18" transform="translate(270.6,322.7) scale(0.923,1)">Patient</text>
<text x="298.4" y="190.8" font-size="12.3" text-anchor="start" font-weight="bold" fill="#000" stroke="#000" stroke-width="0.3">E</text>
<text x="0" y="0" font-size="8.3" text-anchor="middle" font-weight="normal" fill="#111" stroke="#111" stroke-width="0.18" transform="translate(365.9,203.8) scale(0.995,1)">HEK -293</text>
<line x1="327.5" y1="209.8" x2="327.5" y2="311.40000000000003" stroke="#1a1a1a" stroke-width="1.15"/>
<line x1="324.3" y1="310.8" x2="327.5" y2="310.8" stroke="#1a1a1a" stroke-width="0.9"/>
<text x="0" y="0" font-size="6.5" text-anchor="end" font-weight="normal" fill="#222" stroke="#222" stroke-width="0.18" transform="translate(322.2,313.1) scale(1.03,1)">0</text>
<line x1="324.3" y1="277.95" x2="327.5" y2="277.95" stroke="#1a1a1a" stroke-width="0.9"/>
<text x="0" y="0" font-size="6.5" text-anchor="end" font-weight="normal" fill="#222" stroke="#222" stroke-width="0.18" transform="translate(322.2,280.25) scale(1.03,1)">50</text>
<line x1="324.3" y1="245.10000000000002" x2="327.5" y2="245.10000000000002" stroke="#1a1a1a" stroke-width="0.9"/>
<text x="0" y="0" font-size="6.5" text-anchor="end" font-weight="normal" fill="#222" stroke="#222" stroke-width="0.18" transform="translate(322.2,247.40000000000003) scale(1.03,1)">100</text>
<line x1="324.3" y1="212.25" x2="327.5" y2="212.25" stroke="#1a1a1a" stroke-width="0.9"/>
<text x="0" y="0" font-size="6.5" text-anchor="end" font-weight="normal" fill="#222" stroke="#222" stroke-width="0.18" transform="translate(322.2,214.55) scale(1.03,1)">150</text>
<text x="0" y="0" font-size="8.8" text-anchor="middle" font-weight="normal" fill="#222" stroke="#222" stroke-width="0.18" transform="translate(305.2,260) rotate(-90) scale(0.739,1)">Decatenated DNA (%)</text>
<line x1="342.5" y1="275.8" x2="342.5" y2="281.5" stroke="#2a2a2a" stroke-width="0.8"/>
<line x1="338.8" y1="275.8" x2="347" y2="275.8" stroke="#2a2a2a" stroke-width="0.8"/>
<rect x="335" y="281" width="15" height="29.8" fill="#a50026"/>
<rect x="358" y="245.4" width="15" height="65.4" fill="#2c4a7e"/>
<line x1="388.3" y1="291.6" x2="388.3" y2="294.1" stroke="#2a2a2a" stroke-width="0.8"/>
<line x1="384.5" y1="291.6" x2="392.4" y2="291.6" stroke="#2a2a2a" stroke-width="0.8"/>
<rect x="380.8" y="293.6" width="15.0" height="17.2" fill="#6aaa43"/>
<line x1="327" y1="310.8" x2="404.5" y2="310.8" stroke="#1a1a1a" stroke-width="1.25"/>
<line x1="342.5" y1="310.8" x2="342.5" y2="313.6" stroke="#1a1a1a" stroke-width="0.9"/>
<line x1="365.5" y1="310.8" x2="365.5" y2="313.6" stroke="#1a1a1a" stroke-width="0.9"/>
<line x1="388.3" y1="310.8" x2="388.3" y2="313.6" stroke="#1a1a1a" stroke-width="0.9"/>
<line x1="363.8" y1="223.3" x2="388.2" y2="223.3" stroke="#2a2a2a" stroke-width="1.0"/>
<line x1="363.8" y1="219.3" x2="363.8" y2="227.3" stroke="#2a2a2a" stroke-width="1.0"/>
<line x1="388.2" y1="219.3" x2="388.2" y2="227.3" stroke="#2a2a2a" stroke-width="1.0"/>
<text x="376.0" y="223.10000000000002" font-size="6.6" text-anchor="middle" font-weight="bold" fill="#222" stroke="none">**</text>
<line x1="342" y1="236.6" x2="384.5" y2="236.6" stroke="#2a2a2a" stroke-width="1.0"/>
<line x1="342" y1="232.6" x2="342" y2="240.6" stroke="#2a2a2a" stroke-width="1.0"/>
<line x1="384.5" y1="232.6" x2="384.5" y2="240.6" stroke="#2a2a2a" stroke-width="1.0"/>
<text x="363.25" y="236.4" font-size="6.6" text-anchor="middle" font-weight="bold" fill="#222" stroke="none">*</text>
<text x="0" y="0" font-size="6.4" text-anchor="end" font-weight="normal" fill="#222" stroke="#222" stroke-width="0.18" transform="translate(346.6,320.2) rotate(-45) scale(1.07,1)">Untransfected</text>
<text x="0" y="0" font-size="6.4" text-anchor="end" font-weight="normal" fill="#222" stroke="#222" stroke-width="0.18" transform="translate(369.6,320.2) rotate(-45) scale(1.07,1)">TOP2B WT</text>
<text x="0" y="0" font-size="6.4" text-anchor="end" font-weight="normal" fill="#222" stroke="#222" stroke-width="0.18" transform="translate(392.4,320.2) rotate(-45) scale(1.07,1)">TOP2B A485P</text>
<text x="411" y="190.6" font-size="12.3" text-anchor="start" font-weight="bold" fill="#000" stroke="#000" stroke-width="0.3">F</text>
<text x="0" y="0" font-size="8.3" text-anchor="start" font-weight="normal" fill="#111" stroke="#111" stroke-width="0.18" transform="translate(457.4,201.5) scale(0.978,1)">HEK -293</text>
<text x="0" y="0" font-size="8.3" text-anchor="start" font-weight="normal" fill="#111" stroke="#111" stroke-width="0.18" transform="translate(457.4,211.5) scale(1.043,1)">TOP2B -/-</text>
<line x1="439.5" y1="213.6" x2="439.5" y2="311.40000000000003" stroke="#1a1a1a" stroke-width="1.15"/>
<line x1="436.3" y1="310.8" x2="439.5" y2="310.8" stroke="#1a1a1a" stroke-width="0.9"/>
<text x="0" y="0" font-size="6.5" text-anchor="end" font-weight="normal" fill="#222" stroke="#222" stroke-width="0.18" transform="translate(434,313.1) scale(1.03,1)">0</text>
<line x1="436.3" y1="279.45" x2="439.5" y2="279.45" stroke="#1a1a1a" stroke-width="0.9"/>
<text x="0" y="0" font-size="6.5" text-anchor="end" font-weight="normal" fill="#222" stroke="#222" stroke-width="0.18" transform="translate(434,281.75) scale(1.03,1)">50</text>
<line x1="436.3" y1="248.10000000000002" x2="439.5" y2="248.10000000000002" stroke="#1a1a1a" stroke-width="0.9"/>
<text x="0" y="0" font-size="6.5" text-anchor="end" font-weight="normal" fill="#222" stroke="#222" stroke-width="0.18" transform="translate(434,250.40000000000003) scale(1.03,1)">100</text>
<line x1="436.3" y1="216.75" x2="439.5" y2="216.75" stroke="#1a1a1a" stroke-width="0.9"/>
<text x="0" y="0" font-size="6.5" text-anchor="end" font-weight="normal" fill="#222" stroke="#222" stroke-width="0.18" transform="translate(434,219.05) scale(1.03,1)">150</text>
<text x="0" y="0" font-size="8.8" text-anchor="middle" font-weight="normal" fill="#222" stroke="#222" stroke-width="0.18" transform="translate(416.7,262.2) rotate(-90) scale(0.745,1)">Decatenated DNA (%)</text>
<line x1="450.6" y1="304.2" x2="450.6" y2="308.1" stroke="#2a2a2a" stroke-width="0.8"/>
<line x1="448" y1="304.2" x2="453.4" y2="304.2" stroke="#2a2a2a" stroke-width="0.8"/>
<rect x="445" y="307.6" width="11.2" height="3.2" fill="#a50026"/>
<line x1="467.79999999999995" y1="289.5" x2="467.79999999999995" y2="297.5" stroke="#2a2a2a" stroke-width="0.8"/>
<line x1="465" y1="289.5" x2="470.8" y2="289.5" stroke="#2a2a2a" stroke-width="0.8"/>
<rect x="462.4" y="297" width="10.8" height="13.8" fill="#6aaa43"/>
<rect x="479.2" y="248" width="10.8" height="62.8" fill="#2c4a7e"/>
<line x1="501.4" y1="266.8" x2="501.4" y2="277.5" stroke="#2a2a2a" stroke-width="0.8"/>
<line x1="498.3" y1="266.8" x2="504.6" y2="266.8" stroke="#2a2a2a" stroke-width="0.8"/>
<rect x="496" y="277" width="10.8" height="33.8" fill="#4d2560"/>
<line x1="439" y1="310.8" x2="513" y2="310.8" stroke="#1a1a1a" stroke-width="1.25"/>
<line x1="450.7" y1="310.8" x2="450.7" y2="313.6" stroke="#1a1a1a" stroke-width="0.9"/>
<line x1="467.8" y1="310.8" x2="467.8" y2="313.6" stroke="#1a1a1a" stroke-width="0.9"/>
<line x1="484.6" y1="310.8" x2="484.6" y2="313.6" stroke="#1a1a1a" stroke-width="0.9"/>
<line x1="501.3" y1="310.8" x2="501.3" y2="313.6" stroke="#1a1a1a" stroke-width="0.9"/>
<line x1="465.8" y1="237.5" x2="485" y2="237.5" stroke="#2a2a2a" stroke-width="1.0"/>
<line x1="465.8" y1="233.3" x2="465.8" y2="241.7" stroke="#2a2a2a" stroke-width="1.0"/>
<line x1="485" y1="233.3" x2="485" y2="241.7" stroke="#2a2a2a" stroke-width="1.0"/>
<text x="475.4" y="237.4" font-size="6.6" text-anchor="middle" font-weight="bold" fill="#222" stroke="none">***</text>
<line x1="485" y1="224.2" x2="501.3" y2="224.2" stroke="#2a2a2a" stroke-width="1.0"/>
<line x1="485" y1="220.0" x2="485" y2="228.39999999999998" stroke="#2a2a2a" stroke-width="1.0"/>
<line x1="501.3" y1="220.0" x2="501.3" y2="228.39999999999998" stroke="#2a2a2a" stroke-width="1.0"/>
<text x="493.15" y="224.10000000000002" font-size="6.6" text-anchor="middle" font-weight="bold" fill="#222" stroke="none">**</text>
<text x="0" y="0" font-size="6.4" text-anchor="end" font-weight="normal" fill="#222" stroke="#222" stroke-width="0.18" transform="translate(454.6,320.2) rotate(-45) scale(1.07,1)">Untransfected</text>
<text x="0" y="0" font-size="6.4" text-anchor="end" font-weight="normal" fill="#222" stroke="#222" stroke-width="0.18" transform="translate(471.8,320.2) rotate(-45) scale(1.07,1)">TOP2B A485P</text>
<text x="0" y="0" font-size="6.4" text-anchor="end" font-weight="normal" fill="#222" stroke="#222" stroke-width="0.18" transform="translate(488.4,320.2) rotate(-45) scale(1.07,1)">TOP2B WT</text>
<text x="0" y="0" font-size="6.4" text-anchor="end" font-weight="normal" fill="#222" stroke="#222" stroke-width="0.18" transform="translate(505.6,320.2) rotate(-45) scale(1.07,1)">TOP2B WT+A485P</text>
<text x="6.4" y="371.4" font-size="12.3" text-anchor="start" font-weight="bold" fill="#000" stroke="#000" stroke-width="0.3">G</text>
<text x="0" y="0" font-size="9.6" text-anchor="middle" font-weight="normal" fill="#111" stroke="#111" stroke-width="0.18" transform="translate(15.1,416.5) rotate(-90) scale(0.918,1)">Control</text>
<text x="0" y="0" font-size="9.6" text-anchor="middle" font-weight="normal" fill="#111" stroke="#111" stroke-width="0.18" transform="translate(15.1,485) rotate(-90) scale(0.897,1)">Patient</text>
<text x="0" y="0" font-size="8.6" text-anchor="middle" font-weight="normal" fill="#111" stroke="#111" stroke-width="0.18" transform="translate(180.4,384.6) scale(0.992,1)">CD19+</text>
<line x1="121.2" y1="389.8" x2="241.3" y2="389.8" stroke="#111" stroke-width="0.8"/>
<rect x="42" y="394.5" width="51" height="44.69999999999999" fill="#fff" stroke="#777" stroke-width="0.7"/>
<line x1="42" y1="397.5" x2="42" y2="439.2" stroke="#111" stroke-width="1.0"/>
<line x1="42" y1="439.2" x2="93" y2="439.2" stroke="#111" stroke-width="0.8"/>
<path d="M39.8 398.8H42.0M39.8 409.5H42.0M39.8 420.5H42.0M39.8 432.0H42.0M49.3 439.2V442.2M64.3 439.2V442.2M75.0 439.2V442.2M86.8 439.2V442.2" stroke="#111" stroke-width="0.7" fill="none"/>
<path d="M40.7 402.0H42.0M40.7 403.9H42.0M40.7 405.2H42.0M40.7 406.3H42.0M40.7 407.1H42.0M40.7 407.8H42.0M40.7 408.5H42.0M40.7 409.0H42.0M40.7 412.8H42.0M40.7 414.7H42.0M40.7 416.1H42.0M40.7 417.2H42.0M40.7 418.1H42.0M40.7 418.8H42.0M40.7 419.4H42.0M40.7 420.0H42.0M40.7 424.0H42.0M40.7 426.0H42.0M40.7 427.4H42.0M40.7 428.5H42.0M40.7 429.4H42.0M40.7 430.2H42.0M40.7 430.9H42.0M40.7 431.5H42.0M53.8 439.2V441.2M56.5 439.2V441.2M58.3 439.2V441.2M59.8 439.2V441.2M61.0 439.2V441.2M62.0 439.2V441.2M62.8 439.2V441.2M63.6 439.2V441.2M67.5 439.2V441.2M69.4 439.2V441.2M70.7 439.2V441.2M71.8 439.2V441.2M72.6 439.2V441.2M73.3 439.2V441.2M74.0 439.2V441.2M74.5 439.2V441.2M78.6 439.2V441.2M80.6 439.2V441.2M82.1 439.2V441.2M83.2 439.2V441.2M84.2 439.2V441.2M85.0 439.2V441.2M85.7 439.2V441.2M86.3 439.2V441.2M44.8 439.2V441.6M46.3 439.2V441.6M47.8 439.2V441.6M49.3 439.2V441.6M50.8 439.2V441.6M52.3 439.2V441.6" stroke="#111" stroke-width="0.55" fill="none"/>
<text transform="translate(32.5,400.40000000000003) scale(0.82,1)" font-size="4.7" text-anchor="middle" fill="#222">10<tspan font-size="3" dy="-2">5</tspan></text>
<text transform="translate(32.5,411.1) scale(0.82,1)" font-size="4.7" text-anchor="middle" fill="#222">10<tspan font-size="3" dy="-2">4</tspan></text>
<text transform="translate(32.5,422.1) scale(0.82,1)" font-size="4.7" text-anchor="middle" fill="#222">10<tspan font-size="3" dy="-2">3</tspan></text>
<text x="0" y="0" font-size="4.5" text-anchor="middle" font-weight="normal" fill="#222" transform="translate(33.7,433.6) scale(0.85,1)" stroke="none">0</text>
<text x="0" y="0" font-size="4.5" text-anchor="middle" font-weight="normal" fill="#222" transform="translate(49.3,449.4) scale(0.85,1)" stroke="none">0</text>
<text transform="translate(64.3,449.4) scale(0.82,1)" font-size="4.7" text-anchor="middle" fill="#222">10<tspan font-size="3" dy="-2">3</tspan></text>
<text transform="translate(75,449.4) scale(0.82,1)" font-size="4.7" text-anchor="middle" fill="#222">10<tspan font-size="3" dy="-2">4</tspan></text>
<text transform="translate(86.8,449.4) scale(0.82,1)" font-size="4.7" text-anchor="middle" fill="#222">10<tspan font-size="3" dy="-2">5</tspan></text>
<text x="0" y="0" font-size="4.5" text-anchor="middle" font-weight="normal" fill="#222" transform="translate(29.7,442.2) scale(0.85,1)" stroke="none">-338</text>
<text x="0" y="0" font-size="4.5" text-anchor="middle" font-weight="normal" fill="#222" transform="translate(42,454.0) scale(0.85,1)" stroke="none">-236</text>
<path d="M37.8 440.8l1.2 2.6l1.5 -2.6" fill="none" stroke="#4a55e8" stroke-width="0.9"/>
<text x="0" y="0" font-size="7" text-anchor="middle" font-weight="normal" fill="#222" stroke="#222" stroke-width="0.18" transform="translate(25.6,416.2) rotate(-90) scale(0.687,1)">CD10 PE-Cy7-A</text>
<text x="0" y="0" font-size="7" text-anchor="middle" font-weight="normal" fill="#222" stroke="#222" stroke-width="0.18" transform="translate(67.5,458.8) scale(0.661,1)">CD19 APC-A</text>
<path d="M49.3 432.3h0.7M49.5 427.0h0.7M45.0 427.6h0.7M58.2 431.8h0.7M57.7 430.6h0.7M53.6 430.2h0.7M54.3 432.2h0.7M45.2 426.0h0.7M53.0 428.7h0.7M54.4 424.8h0.7M53.0 431.6h0.7M54.6 436.8h0.7M47.0 424.2h0.7M48.8 428.3h0.7M55.1 430.6h0.7M48.1 422.8h0.7M47.6 436.9h0.7M45.7 430.6h0.7M53.8 419.3h0.7M51.3 437.5h0.7M50.3 423.7h0.7M54.2 428.6h0.7M55.4 435.1h0.7M60.4 431.4h0.7M51.8 420.6h0.7M55.0 425.0h0.7M48.1 420.8h0.7M44.7 425.5h0.7M59.4 415.8h0.7M60.4 432.8h0.7M53.3 424.2h0.7M43.7 435.4h0.7M58.2 430.0h0.7M52.6 431.8h0.7M61.4 433.0h0.7M54.4 432.6h0.7M57.2 432.4h0.7M56.5 417.2h0.7M49.8 435.6h0.7M54.6 428.0h0.7M53.1 433.2h0.7M51.8 436.4h0.7M46.7 426.3h0.7M57.8 429.2h0.7M45.3 435.2h0.7M60.5 426.1h0.7M50.0 427.1h0.7M60.1 422.3h0.7M59.2 420.8h0.7M45.9 433.1h0.7M58.3 434.6h0.7M53.2 429.9h0.7M52.0 432.7h0.7M49.9 430.8h0.7M54.7 429.0h0.7M56.0 432.7h0.7M64.1 431.1h0.7M48.2 426.6h0.7M50.9 435.0h0.7M48.8 431.5h0.7M62.9 412.3h0.7M43.7 430.6h0.7M53.6 430.6h0.7M48.2 433.3h0.7M52.8 425.6h0.7M66.8 431.3h0.7M47.4 428.4h0.7M49.5 428.6h0.7M57.6 421.4h0.7M50.6 435.2h0.7M56.6 438.7h0.7M48.8 433.1h0.7M58.1 411.6h0.7M58.1 419.6h0.7M55.4 419.3h0.7M52.1 436.8h0.7M50.0 430.2h0.7M56.2 429.9h0.7M57.8 427.1h0.7M68.8 421.5h0.7M56.9 427.3h0.7M51.9 433.6h0.7M52.4 433.2h0.7M55.0 422.7h0.7M44.3 419.4h0.7M59.2 433.9h0.7M60.6 422.9h0.7M51.0 421.6h0.7M57.4 427.8h0.7M50.4 425.1h0.7M53.6 431.7h0.7M60.7 422.4h0.7M58.4 438.7h0.7M60.4 427.8h0.7M46.2 435.6h0.7M51.7 429.8h0.7M60.3 427.3h0.7M53.1 425.0h0.7M50.9 434.4h0.7M51.5 437.6h0.7M50.6 435.8h0.7M46.6 434.7h0.7M43.0 428.9h0.7M49.8 428.8h0.7M47.2 430.5h0.7M62.6 429.3h0.7M54.5 435.5h0.7M49.7 420.8h0.7M47.4 436.0h0.7M57.5 434.2h0.7M51.0 434.2h0.7M52.1 421.3h0.7M57.0 425.3h0.7M45.1 424.0h0.7M43.3 431.4h0.7M46.8 416.4h0.7M55.7 427.2h0.7M52.9 426.0h0.7M56.1 433.9h0.7M55.3 431.1h0.7M59.7 433.3h0.7M53.9 415.5h0.7M56.8 437.5h0.7M49.1 425.9h0.7M63.6 417.6h0.7M45.0 433.5h0.7M63.3 428.2h0.7M54.6 434.9h0.7M45.1 428.4h0.7M52.9 434.4h0.7M50.8 427.7h0.7M44.4 426.7h0.7M56.8 429.7h0.7M45.5 423.5h0.7M68.3 436.4h0.7M55.1 412.1h0.7M55.0 432.1h0.7M61.9 431.8h0.7M50.6 432.4h0.7M53.1 424.4h0.7M52.9 430.2h0.7M48.4 422.7h0.7M64.8 435.7h0.7M43.2 420.3h0.7M62.1 435.4h0.7M62.8 434.3h0.7M45.3 430.7h0.7M50.6 432.4h0.7M46.3 428.2h0.7M54.0 431.4h0.7M55.1 430.4h0.7M48.9 434.1h0.7M51.3 423.6h0.7M46.9 429.0h0.7M50.3 430.0h0.7M51.0 430.1h0.7M50.1 420.8h0.7M53.7 435.8h0.7M53.8 427.8h0.7M53.9 422.7h0.7M45.0 433.8h0.7M44.0 411.9h0.7M48.5 420.1h0.7M46.0 432.4h0.7M54.2 430.1h0.7M60.6 433.6h0.7M50.9 432.9h0.7M61.8 435.3h0.7M57.7 422.0h0.7M50.0 433.7h0.7M49.1 435.9h0.7M54.9 434.9h0.7M59.1 427.6h0.7M48.8 434.7h0.7M57.4 429.0h0.7M43.4 430.2h0.7M53.3 436.3h0.7M56.1 429.2h0.7M56.5 432.5h0.7M52.3 429.4h0.7M49.4 433.5h0.7M44.1 424.9h0.7M51.0 419.5h0.7M48.2 415.9h0.7M46.6 432.7h0.7M54.7 428.6h0.7M49.5 419.8h0.7M62.9 432.4h0.7M58.1 423.3h0.7M49.8 417.2h0.7M56.1 435.1h0.7M55.1 417.5h0.7M46.9 419.9h0.7M51.2 430.6h0.7M55.1 433.6h0.7M60.8 436.6h0.7M44.1 422.0h0.7M50.5 429.0h0.7M54.2 418.7h0.7M43.0 428.8h0.7M49.7 427.0h0.7M50.6 424.1h0.7M55.6 431.3h0.7M50.4 424.6h0.7M49.9 411.3h0.7M44.6 429.2h0.7M52.0 420.0h0.7M49.4 427.0h0.7M54.0 433.0h0.7M50.8 423.5h0.7M50.1 428.6h0.7M55.8 430.9h0.7M46.3 420.2h0.7M48.6 424.2h0.7M43.8 428.2h0.7M47.8 429.7h0.7M54.4 426.3h0.7M66.1 426.9h0.7M58.2 429.8h0.7M58.3 413.6h0.7M46.1 430.6h0.7M53.1 437.3h0.7M56.0 435.2h0.7M54.3 428.0h0.7M54.3 422.0h0.7M58.7 422.4h0.7M49.5 429.1h0.7M58.6 429.2h0.7M45.8 430.7h0.7M54.8 433.6h0.7M61.8 429.1h0.7M52.7 426.2h0.7M60.2 424.4h0.7M55.4 425.9h0.7M46.5 433.7h0.7M59.7 428.9h0.7M46.6 434.3h0.7M50.7 431.0h0.7M60.9 436.4h0.7M51.0 434.1h0.7M46.8 428.7h0.7M59.9 421.1h0.7M58.6 426.0h0.7M50.6 427.0h0.7M50.2 421.9h0.7M51.2 419.7h0.7M50.5 431.0h0.7M54.0 427.5h0.7M45.1 430.0h0.7M56.0 428.3h0.7M47.9 424.4h0.7M44.9 426.7h0.7M52.9 432.4h0.7M46.4 429.1h0.7M69.2 416.9h0.7M47.6 430.1h0.7M52.0 431.7h0.7M49.4 431.4h0.7M51.3 434.0h0.7M51.0 422.3h0.7M44.2 433.1h0.7M46.8 433.1h0.7M55.8 431.0h0.7M54.3 428.3h0.7M54.0 425.6h0.7M50.4 433.9h0.7M45.3 433.2h0.7M63.1 425.4h0.7M52.0 428.0h0.7M61.0 431.1h0.7M56.8 424.5h0.7M50.9 428.9h0.7M56.8 417.6h0.7M55.8 428.1h0.7M53.9 431.4h0.7M60.7 425.3h0.7M44.4 420.2h0.7M43.1 431.2h0.7M62.0 431.8h0.7M47.6 424.6h0.7M54.4 432.6h0.7M44.4 421.4h0.7M52.9 430.6h0.7M42.5 427.7h0.7M47.5 432.0h0.7M50.2 428.4h0.7M48.7 435.8h0.7M60.0 426.6h0.7M56.5 424.1h0.7M51.5 433.9h0.7M60.8 426.5h0.7M50.5 430.3h0.7M46.6 431.4h0.7M43.7 416.2h0.7M51.2 430.7h0.7M47.4 434.8h0.7M49.2 425.1h0.7M54.1 418.8h0.7M46.6 428.9h0.7M56.5 427.9h0.7M53.0 424.7h0.7M46.8 429.1h0.7M52.1 435.7h0.7M43.0 415.3h0.7M54.9 434.2h0.7M52.3 430.7h0.7M57.0 431.4h0.7M61.8 421.0h0.7M48.6 406.6h0.7M56.3 426.6h0.7M51.0 427.3h0.7M47.8 423.6h0.7M46.9 433.2h0.7M51.2 429.4h0.7M49.9 434.9h0.7M54.2 428.1h0.7M55.3 428.0h0.7M43.5 438.5h0.7M54.0 422.8h0.7M58.0 431.2h0.7M53.2 434.8h0.7M52.3 428.0h0.7M51.2 427.1h0.7M53.3 429.5h0.7M55.4 426.6h0.7M50.8 415.1h0.7M48.2 433.4h0.7M59.7 426.6h0.7M48.9 433.8h0.7M61.9 429.3h0.7M59.0 424.4h0.7M52.3 428.5h0.7M51.7 436.3h0.7M66.5 424.7h0.7M47.3 432.2h0.7M44.1 432.2h0.7M54.7 427.2h0.7M54.5 418.9h0.7M55.9 419.0h0.7M46.5 425.4h0.7M48.4 434.6h0.7M51.5 426.4h0.7M51.0 431.4h0.7M59.1 430.7h0.7M65.4 416.1h0.7M50.7 431.7h0.7M57.3 433.3h0.7M49.2 422.2h0.7M51.7 435.7h0.7M43.9 422.3h0.7M50.8 416.4h0.7M49.3 426.2h0.7M53.9 424.4h0.7M45.3 426.4h0.7M50.7 424.7h0.7M51.1 433.9h0.7M45.9 426.3h0.7M46.3 428.8h0.7M54.4 420.2h0.7M54.0 428.8h0.7M58.8 416.9h0.7M56.2 430.4h0.7M54.1 431.9h0.7M59.5 427.5h0.7M56.7 426.3h0.7M55.7 423.7h0.7M53.9 428.0h0.7M43.6 423.9h0.7M52.3 435.1h0.7M53.8 432.4h0.7M50.7 437.8h0.7M48.5 425.4h0.7M56.8 429.4h0.7M49.2 425.3h0.7M49.3 433.1h0.7M53.3 421.1h0.7M53.8 430.2h0.7M44.5 434.0h0.7M49.2 426.8h0.7M56.2 437.6h0.7M46.5 431.8h0.7M47.8 436.8h0.7M46.8 434.3h0.7M65.4 412.5h0.7M48.2 432.3h0.7M50.4 424.7h0.7M65.0 429.5h0.7M47.2 429.9h0.7M59.2 429.8h0.7M58.7 433.8h0.7M45.7 434.6h0.7M54.2 433.2h0.7M56.9 433.8h0.7M56.7 413.0h0.7M52.1 432.2h0.7M67.6 422.8h0.7M48.9 429.2h0.7M56.8 426.1h0.7M58.5 423.9h0.7M52.7 425.6h0.7M52.0 424.5h0.7M53.0 425.4h0.7M52.3 435.4h0.7M44.6 428.3h0.7M54.5 432.4h0.7M48.8 415.3h0.7M59.1 431.1h0.7M51.1 427.2h0.7M52.7 426.2h0.7M44.3 424.2h0.7M47.1 425.0h0.7M43.5 433.1h0.7M44.4 431.3h0.7M59.9 430.3h0.7M46.2 429.3h0.7M52.0 417.7h0.7M47.1 430.1h0.7M48.0 429.5h0.7M55.8 434.0h0.7M56.9 432.8h0.7M49.1 428.9h0.7M49.2 427.0h0.7M49.8 417.8h0.7M48.8 428.8h0.7M44.7 428.8h0.7M54.4 427.9h0.7M64.5 412.1h0.7M49.7 417.1h0.7M54.4 427.0h0.7M54.6 414.4h0.7M56.5 431.4h0.7M51.1 425.2h0.7M55.1 425.8h0.7M52.5 425.7h0.7M52.3 433.9h0.7M45.3 428.8h0.7M55.0 429.9h0.7M45.1 416.5h0.7M57.0 434.3h0.7M47.0 424.4h0.7M56.8 423.1h0.7M46.5 424.3h0.7M52.5 424.1h0.7M59.5 428.5h0.7M43.9 437.5h0.7M47.2 430.4h0.7M50.9 427.0h0.7M53.1 424.5h0.7M42.8 424.1h0.7M50.9 429.4h0.7M54.6 429.8h0.7M45.8 424.4h0.7M54.2 432.4h0.7M50.2 427.9h0.7M57.1 429.1h0.7M55.8 432.8h0.7M52.4 437.5h0.7M47.3 426.7h0.7M45.7 423.8h0.7M51.1 432.7h0.7M58.6 434.2h0.7M58.8 420.8h0.7M46.8 431.9h0.7M60.3 429.7h0.7M45.4 426.7h0.7M46.7 423.4h0.7M60.8 424.9h0.7M58.7 431.2h0.7M47.0 431.7h0.7M61.5 433.0h0.7M59.2 429.6h0.7M54.4 427.7h0.7M53.8 437.5h0.7M52.6 425.3h0.7M49.0 434.1h0.7M64.0 433.1h0.7M53.1 418.9h0.7M63.5 429.5h0.7M50.8 421.7h0.7M50.6 421.9h0.7M51.5 432.0h0.7M51.2 430.8h0.7M45.5 438.3h0.7M46.8 417.2h0.7M49.8 424.0h0.7M44.4 426.7h0.7M52.9 421.3h0.7M50.1 438.3h0.7M55.4 428.0h0.7M51.8 428.2h0.7M50.7 433.8h0.7M50.4 413.4h0.7M50.9 423.2h0.7M55.2 425.0h0.7M44.2 421.7h0.7M46.9 416.9h0.7M46.0 426.6h0.7M53.1 437.8h0.7M63.6 435.7h0.7M51.9 430.2h0.7M62.7 438.3h0.7M49.0 432.0h0.7M52.9 429.3h0.7M47.7 420.4h0.7M47.5 419.0h0.7M59.0 432.5h0.7M43.2 438.1h0.7M56.8 416.6h0.7M63.0 434.3h0.7M64.4 421.0h0.7M54.4 431.8h0.7M52.3 430.1h0.7M57.8 419.3h0.7M42.9 419.9h0.7M47.4 425.1h0.7M53.4 430.7h0.7M51.2 424.6h0.7M48.1 435.2h0.7M56.0 429.7h0.7M47.1 433.2h0.7M58.5 427.3h0.7M56.4 421.7h0.7M57.6 430.3h0.7M45.2 437.3h0.7M46.6 427.9h0.7M52.8 426.8h0.7M52.7 425.4h0.7M55.4 429.0h0.7M52.4 411.1h0.7M58.5 429.2h0.7M54.0 436.0h0.7M50.0 433.4h0.7M48.6 421.7h0.7M58.1 434.9h0.7M61.0 434.6h0.7M47.3 418.2h0.7M46.8 424.6h0.7M45.7 432.8h0.7M53.1 427.2h0.7M52.1 428.1h0.7M52.4 433.9h0.7M57.2 424.5h0.7M51.7 436.2h0.7M51.2 419.6h0.7M47.6 433.7h0.7M45.4 419.9h0.7M54.4 435.1h0.7M52.3 420.5h0.7M56.1 434.2h0.7M54.6 425.8h0.7M53.0 434.1h0.7M47.4 417.0h0.7M53.1 432.1h0.7M51.1 434.8h0.7M47.2 428.5h0.7M49.0 432.7h0.7M61.4 427.4h0.7M56.1 432.8h0.7M62.5 427.8h0.7M50.3 422.1h0.7M54.1 437.7h0.7M54.5 431.8h0.7M49.7 430.1h0.7M48.3 421.8h0.7M46.1 423.6h0.7M56.6 435.9h0.7M56.8 425.2h0.7M46.9 431.2h0.7M48.7 415.8h0.7M52.5 419.0h0.7M56.9 421.2h0.7M46.5 423.4h0.7M47.5 437.4h0.7M56.5 432.9h0.7M53.1 418.9h0.7M47.6 425.4h0.7M44.6 432.3h0.7M46.2 424.4h0.7M44.2 415.6h0.7M54.9 437.7h0.7M52.1 422.7h0.7M58.9 430.9h0.7M57.0 438.6h0.7M58.3 426.1h0.7M57.8 434.0h0.7M54.8 422.1h0.7M53.4 438.6h0.7M49.6 430.7h0.7M50.0 435.5h0.7M57.7 429.6h0.7" stroke="#e326e6" stroke-width="0.7" fill="none"/>
<path d="M56.6 423.4h0.65M63.8 422.1h0.65M64.0 411.3h0.65M64.7 422.0h0.65M55.7 423.3h0.65M68.7 415.8h0.65M57.9 412.3h0.65M50.7 426.9h0.65M66.9 424.0h0.65M55.5 427.1h0.65M58.6 409.9h0.65M53.3 424.1h0.65M54.5 421.4h0.65M58.9 414.0h0.65M59.3 414.6h0.65M55.9 423.6h0.65M55.1 423.1h0.65M68.2 410.0h0.65M58.9 421.9h0.65M58.4 424.1h0.65M51.5 428.0h0.65M52.7 419.7h0.65M67.0 406.5h0.65M70.8 410.9h0.65M64.7 408.0h0.65M69.3 416.3h0.65M56.9 419.3h0.65M74.0 405.5h0.65M53.7 419.6h0.65M61.7 417.4h0.65M63.5 422.9h0.65M57.1 422.2h0.65M64.7 407.9h0.65M69.2 418.3h0.65M46.7 423.6h0.65M46.7 419.7h0.65M56.1 411.2h0.65M64.8 420.3h0.65M47.0 427.3h0.65M47.9 432.1h0.65M52.7 422.4h0.65M59.7 420.2h0.65M55.8 421.0h0.65M54.8 422.4h0.65M50.8 425.8h0.65M44.5 428.6h0.65M70.3 408.3h0.65M50.7 426.9h0.65M47.7 419.9h0.65M55.2 425.3h0.65M60.2 416.5h0.65M49.4 421.2h0.65M67.1 412.0h0.65M46.6 418.5h0.65M55.6 433.8h0.65M50.5 425.3h0.65M58.9 417.4h0.65M52.8 416.7h0.65M55.7 429.7h0.65M55.4 425.7h0.65M46.6 427.9h0.65M62.3 420.4h0.65M52.4 427.1h0.65M58.6 414.7h0.65M58.7 413.8h0.65M52.9 423.5h0.65M48.0 420.6h0.65M57.3 423.6h0.65M58.7 424.9h0.65M47.3 421.9h0.65M68.8 411.3h0.65M61.9 411.3h0.65M63.7 415.2h0.65M62.2 415.4h0.65M64.0 410.3h0.65M48.2 420.3h0.65M63.5 410.3h0.65M49.0 422.3h0.65M52.0 417.9h0.65M54.6 418.9h0.65M52.1 419.4h0.65M57.1 417.5h0.65M59.4 419.1h0.65M54.6 410.9h0.65M52.6 419.8h0.65M58.9 410.1h0.65M52.7 422.2h0.65M58.4 423.7h0.65M57.7 424.2h0.65M44.1 422.2h0.65M66.8 413.3h0.65M61.4 416.6h0.65M58.0 412.8h0.65M62.6 412.1h0.65M64.4 413.6h0.65M64.8 412.2h0.65M56.1 421.9h0.65M53.9 419.9h0.65M59.0 418.8h0.65M67.7 410.5h0.65M74.5 413.4h0.65M71.5 412.2h0.65M59.2 418.6h0.65M55.2 417.7h0.65M56.0 417.6h0.65M69.7 411.2h0.65M50.3 416.1h0.65M56.6 418.1h0.65M48.3 422.0h0.65M45.2 433.4h0.65M64.1 426.7h0.65M57.4 418.8h0.65M67.5 411.2h0.65M58.1 417.0h0.65M58.0 426.7h0.65M68.7 418.2h0.65M55.9 421.1h0.65M54.9 426.7h0.65M50.6 428.5h0.65M68.5 416.8h0.65M54.8 427.4h0.65M51.6 420.9h0.65M52.6 429.8h0.65M66.9 407.9h0.65M52.3 422.4h0.65M76.4 407.6h0.65M50.0 417.0h0.65M56.8 426.2h0.65M69.1 407.6h0.65M52.3 421.5h0.65M48.4 432.3h0.65M53.8 428.2h0.65M44.0 425.1h0.65M57.9 415.2h0.65M63.0 414.6h0.65M52.2 427.4h0.65M58.5 408.8h0.65M70.8 410.0h0.65M58.1 409.4h0.65M52.6 422.1h0.65M61.1 408.8h0.65M47.3 418.3h0.65M57.4 421.3h0.65M45.8 426.9h0.65M65.3 420.6h0.65M61.4 414.4h0.65M48.2 423.1h0.65M54.2 423.2h0.65M61.9 424.0h0.65M57.1 414.3h0.65M70.2 412.9h0.65M56.8 416.4h0.65M43.6 426.8h0.65M61.7 411.5h0.65M50.2 427.1h0.65M61.1 419.3h0.65M65.7 419.3h0.65M55.2 426.5h0.65M53.5 426.6h0.65M59.7 418.7h0.65M64.1 413.4h0.65M67.3 415.1h0.65M57.4 416.6h0.65M51.9 421.8h0.65M56.7 420.1h0.65M78.5 403.8h0.65M60.7 412.2h0.65M52.7 422.1h0.65M56.6 415.0h0.65M66.8 408.2h0.65M58.9 406.3h0.65M58.7 419.8h0.65M60.7 419.6h0.65M60.2 417.9h0.65M44.2 427.7h0.65M44.8 434.1h0.65M59.4 416.7h0.65M51.3 422.0h0.65M74.1 413.4h0.65M60.9 423.0h0.65M43.0 422.6h0.65M52.7 419.3h0.65M54.9 422.7h0.65M75.4 399.9h0.65M59.0 419.5h0.65M60.2 421.8h0.65M66.1 405.4h0.65M58.3 417.3h0.65M56.4 412.6h0.65M61.8 416.6h0.65M52.4 411.9h0.65M53.7 419.0h0.65M46.7 424.5h0.65M63.8 416.6h0.65M59.2 420.6h0.65M54.4 422.6h0.65M59.7 420.3h0.65M57.2 419.0h0.65M55.5 417.9h0.65M73.4 407.7h0.65M66.5 423.0h0.65M62.9 406.6h0.65M64.5 417.4h0.65M73.3 412.0h0.65M59.9 411.3h0.65M53.2 424.7h0.65M58.6 413.2h0.65M54.6 420.1h0.65M59.2 419.6h0.65M53.0 417.1h0.65M69.9 416.4h0.65M59.9 422.5h0.65M62.5 418.3h0.65M59.1 414.1h0.65M64.2 418.6h0.65M57.3 429.7h0.65M75.8 412.3h0.65M72.5 409.8h0.65M54.3 419.2h0.65M53.2 424.0h0.65M59.5 421.1h0.65M51.1 437.0h0.65M72.3 406.0h0.65M63.5 416.5h0.65M59.2 416.9h0.65M55.1 417.4h0.65M59.1 417.9h0.65M57.8 414.8h0.65M58.4 418.9h0.65M59.1 412.6h0.65M63.1 419.4h0.65M60.8 414.6h0.65M54.3 421.1h0.65M66.6 419.2h0.65M55.4 418.1h0.65M60.9 417.4h0.65M50.4 422.1h0.65M59.1 421.5h0.65M47.9 422.9h0.65M58.0 412.7h0.65M59.6 419.4h0.65M54.7 416.8h0.65M56.8 418.4h0.65M58.0 414.7h0.65M60.6 408.1h0.65M56.9 420.0h0.65M62.5 411.8h0.65M60.0 414.3h0.65M67.1 419.7h0.65M56.6 422.5h0.65M54.6 427.0h0.65M65.7 412.2h0.65M51.9 426.6h0.65M68.0 415.5h0.65M58.5 409.2h0.65M57.3 426.9h0.65M53.1 429.2h0.65M71.8 410.4h0.65M64.2 411.7h0.65M50.0 425.7h0.65M56.6 420.0h0.65M62.0 414.6h0.65M60.3 419.1h0.65M62.7 424.2h0.65M61.0 416.7h0.65M55.1 418.4h0.65M66.9 411.8h0.65M49.8 423.5h0.65M56.0 418.5h0.65M61.9 409.6h0.65M61.5 416.6h0.65M50.7 425.8h0.65M58.7 421.0h0.65M55.9 422.4h0.65M44.7 425.4h0.65M65.6 417.5h0.65M56.4 417.4h0.65M59.5 406.9h0.65M54.7 425.4h0.65M59.5 412.4h0.65M49.8 433.8h0.65M56.7 415.6h0.65M60.6 421.2h0.65M44.5 436.9h0.65M57.4 408.9h0.65M58.3 409.6h0.65M66.2 413.6h0.65M70.7 404.5h0.65M60.7 421.9h0.65M52.2 420.6h0.65M55.5 420.9h0.65M52.4 426.5h0.65M61.6 416.1h0.65M67.9 408.4h0.65M64.9 410.0h0.65M57.9 409.2h0.65M58.8 417.4h0.65M53.3 420.1h0.65M54.0 418.9h0.65M42.6 429.8h0.65M53.2 420.6h0.65M51.0 424.6h0.65M62.3 413.8h0.65M58.3 425.6h0.65M66.5 416.0h0.65M64.5 411.5h0.65M60.0 422.9h0.65M54.2 421.8h0.65M61.3 417.9h0.65M58.8 423.3h0.65M58.7 422.1h0.65M66.4 414.8h0.65M59.7 411.6h0.65M48.1 424.7h0.65M64.8 420.5h0.65M51.1 426.8h0.65M50.7 421.8h0.65M58.0 422.5h0.65M62.3 421.1h0.65M54.0 427.1h0.65M64.1 413.9h0.65M59.6 414.7h0.65M50.1 424.1h0.65M61.3 430.8h0.65M59.1 426.4h0.65M60.1 418.7h0.65M60.7 412.6h0.65M64.7 414.9h0.65M50.0 429.3h0.65M62.6 417.1h0.65M67.0 408.8h0.65M63.1 418.2h0.65M55.4 427.5h0.65M45.5 423.6h0.65M58.5 413.0h0.65M53.1 415.0h0.65M55.6 415.4h0.65M56.3 412.7h0.65M60.2 415.7h0.65M58.2 418.4h0.65M55.5 414.5h0.65M50.9 423.0h0.65M55.6 411.0h0.65M51.6 421.6h0.65M52.2 425.9h0.65M55.0 417.5h0.65M53.8 426.9h0.65M55.3 424.4h0.65M56.0 411.1h0.65M51.2 425.2h0.65M62.1 419.3h0.65M65.7 417.4h0.65M55.1 420.5h0.65M61.8 413.4h0.65M60.6 408.5h0.65M61.7 414.8h0.65M48.1 433.0h0.65M60.0 417.3h0.65M50.0 423.8h0.65M65.4 408.1h0.65M50.1 425.5h0.65M53.2 418.7h0.65M55.3 426.7h0.65M53.9 432.7h0.65M51.8 419.0h0.65M64.4 416.1h0.65M53.3 427.0h0.65M44.0 426.9h0.65M64.5 411.9h0.65M51.1 427.9h0.65M63.7 413.7h0.65M45.7 428.3h0.65M62.6 418.8h0.65M69.1 407.7h0.65M54.9 421.6h0.65M63.2 409.5h0.65M59.3 403.8h0.65M61.3 412.6h0.65M62.7 418.3h0.65M50.3 425.5h0.65M61.0 419.3h0.65M49.6 421.5h0.65M52.3 437.1h0.65M56.2 419.5h0.65M50.9 430.1h0.65M58.3 426.1h0.65M63.4 414.2h0.65M59.8 411.7h0.65M54.5 419.2h0.65M50.0 426.3h0.65M60.7 423.9h0.65M51.0 422.9h0.65M61.7 417.7h0.65M57.0 417.5h0.65M62.0 417.2h0.65M45.7 428.7h0.65M46.3 423.5h0.65M59.1 418.3h0.65M56.5 415.9h0.65M54.4 417.6h0.65M62.2 418.8h0.65M72.3 412.6h0.65M51.7 422.3h0.65M52.8 425.2h0.65M72.3 409.7h0.65M51.1 427.8h0.65M58.8 419.8h0.65M67.2 406.5h0.65M57.6 429.4h0.65M58.2 414.9h0.65M42.7 433.1h0.65M60.8 421.6h0.65" stroke="#e326e6" stroke-width="0.65" fill="none" opacity="0.9"/>
<path d="M54.6 409.8h0.55M48.6 433.1h0.55M56.3 421.6h0.55M52.0 420.5h0.55M64.2 414.7h0.55M51.4 414.3h0.55M46.4 414.1h0.55M53.0 417.9h0.55M69.4 427.8h0.55M51.5 421.4h0.55M58.9 422.9h0.55M56.2 418.4h0.55M51.3 408.9h0.55M64.7 427.7h0.55M62.6 419.9h0.55M58.7 411.9h0.55M58.0 411.0h0.55M46.4 427.5h0.55M62.4 437.3h0.55M48.8 415.8h0.55M50.9 417.4h0.55M53.9 409.3h0.55M66.7 408.9h0.55M50.9 421.0h0.55M50.6 412.1h0.55M59.6 412.7h0.55M43.5 415.1h0.55M53.8 431.3h0.55M45.0 424.7h0.55M48.1 412.8h0.55M52.7 418.4h0.55M64.6 431.7h0.55M49.6 428.0h0.55M66.0 423.3h0.55M48.4 424.1h0.55M54.9 419.2h0.55M53.3 422.0h0.55M67.2 426.2h0.55M53.9 425.0h0.55M70.5 407.6h0.55M70.7 404.0h0.55M61.4 421.3h0.55M70.8 418.5h0.55M51.2 408.8h0.55M43.5 422.9h0.55M53.6 409.5h0.55M61.3 409.1h0.55M51.6 411.9h0.55M72.5 429.2h0.55M54.4 401.9h0.55M58.8 416.6h0.55M59.5 421.1h0.55M52.8 424.3h0.55M64.4 417.9h0.55M51.9 411.7h0.55M62.9 406.1h0.55M54.4 409.3h0.55M55.7 416.3h0.55M64.7 402.6h0.55M55.3 418.6h0.55M64.3 406.2h0.55M63.2 418.0h0.55M69.6 426.2h0.55M61.5 435.3h0.55M56.0 412.2h0.55M52.6 407.5h0.55M55.7 399.1h0.55M55.2 419.8h0.55M65.9 412.9h0.55M69.9 410.1h0.55M54.7 399.1h0.55M48.4 408.9h0.55M70.6 420.7h0.55M45.2 420.7h0.55M60.7 413.9h0.55M56.2 413.3h0.55M50.7 400.4h0.55M55.1 427.3h0.55M70.0 413.6h0.55M48.7 414.1h0.55M64.8 419.1h0.55M50.3 419.2h0.55M54.0 420.5h0.55M52.0 403.1h0.55M56.6 422.7h0.55M45.2 415.1h0.55" stroke="#e326e6" stroke-width="0.55" fill="none" opacity="0.7"/>
<rect x="42.8" y="421.5" width="16.6" height="17.2" rx="5" fill="#e326e6" filter="url(#bl)"/>
<rect x="42.6" y="428" width="14" height="10.8" fill="#e326e6"/>
<path d="M75.1 426.1h0.7M71.5 435.0h0.7M74.9 431.3h0.7M70.8 433.5h0.7M69.1 425.6h0.7M74.7 432.4h0.7M70.8 425.0h0.7M73.5 420.4h0.7M74.5 429.6h0.7M72.0 429.5h0.7M74.8 428.6h0.7M74.2 433.1h0.7M71.9 428.1h0.7M71.8 431.3h0.7M72.1 429.2h0.7M73.3 427.7h0.7M77.0 427.2h0.7M76.3 430.5h0.7M76.1 426.9h0.7M75.2 430.3h0.7M71.6 428.5h0.7M72.7 427.4h0.7M76.0 424.9h0.7M69.1 421.1h0.7M72.0 425.1h0.7M73.0 429.6h0.7M77.1 428.6h0.7M74.1 424.8h0.7M74.3 432.5h0.7M76.1 420.3h0.7M75.1 433.3h0.7M74.9 422.0h0.7M72.3 429.7h0.7M74.0 424.5h0.7M70.9 431.0h0.7M69.9 432.7h0.7M73.0 428.6h0.7M69.9 425.3h0.7M74.6 422.1h0.7M77.8 422.4h0.7M70.2 427.7h0.7M74.1 430.2h0.7M72.1 426.7h0.7M72.5 425.4h0.7M67.1 431.0h0.7M73.6 428.1h0.7M71.5 428.4h0.7M73.0 427.2h0.7M75.5 421.2h0.7M73.6 423.6h0.7M72.3 433.0h0.7M70.5 427.1h0.7M71.6 431.0h0.7M70.7 421.4h0.7M74.2 426.2h0.7M72.3 431.4h0.7M71.0 426.1h0.7M73.3 429.0h0.7M71.8 431.3h0.7M78.2 426.0h0.7M77.3 419.8h0.7M76.2 426.2h0.7M73.3 426.3h0.7M71.5 422.8h0.7M72.1 432.2h0.7M75.6 426.2h0.7M71.8 424.9h0.7M70.2 434.1h0.7M74.5 427.9h0.7M71.9 423.8h0.7M76.0 430.3h0.7M70.8 431.1h0.7M70.4 429.8h0.7M70.8 426.0h0.7M74.1 429.1h0.7M75.3 424.4h0.7M76.6 432.4h0.7M73.0 429.2h0.7M71.2 426.9h0.7M70.0 427.8h0.7M73.5 432.4h0.7M75.2 430.5h0.7M72.2 426.7h0.7M72.2 428.3h0.7M68.6 430.3h0.7M69.4 425.6h0.7M73.1 425.6h0.7M76.8 427.1h0.7M76.6 431.8h0.7M71.9 429.0h0.7M76.0 426.3h0.7M73.2 425.5h0.7M73.1 426.2h0.7M73.2 431.2h0.7M76.2 428.0h0.7M73.5 430.6h0.7M72.3 423.6h0.7M75.6 424.1h0.7M75.1 424.0h0.7M77.2 423.7h0.7M75.0 433.0h0.7M70.8 432.9h0.7M71.1 421.1h0.7M74.7 430.1h0.7M72.5 418.3h0.7M72.9 426.4h0.7M72.1 426.4h0.7M68.9 425.4h0.7M77.1 433.1h0.7M72.2 424.9h0.7M73.9 431.4h0.7M74.7 423.2h0.7M73.4 428.0h0.7M76.3 431.9h0.7M74.2 431.9h0.7M72.1 433.1h0.7M72.0 428.9h0.7M75.1 424.2h0.7M71.4 421.1h0.7M73.4 427.3h0.7M72.2 429.3h0.7M68.1 427.4h0.7M73.2 426.5h0.7M74.8 433.9h0.7M72.0 424.1h0.7M71.6 427.8h0.7M74.4 424.4h0.7M75.3 423.8h0.7M74.9 429.1h0.7M74.1 435.4h0.7M72.4 426.9h0.7M74.1 430.6h0.7M69.9 428.5h0.7M71.3 429.8h0.7M76.2 427.7h0.7M72.8 428.2h0.7M66.2 430.3h0.7M74.3 428.1h0.7M72.1 424.8h0.7M72.6 431.9h0.7M72.8 432.4h0.7M67.1 425.8h0.7M73.6 427.5h0.7M69.2 425.1h0.7M75.9 422.8h0.7M70.7 423.5h0.7M71.7 429.8h0.7M74.4 420.1h0.7M76.4 425.3h0.7M71.6 433.6h0.7" stroke="#f07cf0" stroke-width="0.7" fill="none"/>
<path d="M71.7 427.8h0.6M69.9 429.6h0.6M68.6 430.9h0.6M74.9 433.2h0.6M68.7 432.4h0.6M72.1 434.6h0.6M70.9 433.5h0.6M79.1 432.3h0.6M68.4 433.1h0.6M69.3 430.8h0.6M72.6 433.1h0.6M71.0 434.9h0.6M71.4 427.6h0.6M74.9 430.8h0.6M76.1 429.8h0.6M73.9 433.1h0.6M62.9 427.0h0.6M68.2 436.7h0.6M65.7 435.1h0.6M75.7 433.7h0.6M74.3 430.3h0.6M72.0 432.8h0.6M73.4 434.4h0.6M71.3 429.6h0.6M70.1 433.4h0.6M66.4 427.8h0.6M70.6 430.1h0.6M71.1 423.1h0.6M70.9 431.2h0.6M74.6 425.3h0.6M71.0 433.6h0.6M73.6 436.0h0.6M75.5 428.5h0.6M74.1 430.9h0.6M69.3 437.2h0.6M69.9 429.1h0.6M70.6 429.1h0.6M75.4 433.3h0.6M76.7 433.4h0.6M69.9 435.5h0.6M69.8 430.4h0.6M71.4 432.1h0.6M76.0 430.0h0.6M73.2 431.9h0.6M67.8 428.3h0.6M71.3 433.4h0.6M73.1 433.6h0.6M72.2 430.5h0.6M73.4 428.6h0.6" stroke="#f5a0c8" stroke-width="0.6" fill="none"/>
<path d="M64.1 407.2h0.7M63.8 406.8h0.7M65.7 406.7h0.7M67.6 406.3h0.7M66.6 404.5h0.7M68.1 406.1h0.7M68.8 402.3h0.7M65.5 408.3h0.7M61.1 407.1h0.7M68.0 408.0h0.7M63.7 408.2h0.7M68.1 405.9h0.7M69.7 407.7h0.7M67.8 406.9h0.7M69.2 408.0h0.7M70.8 408.7h0.7M66.0 407.4h0.7M70.2 407.1h0.7M68.7 408.8h0.7M67.2 403.3h0.7M68.1 408.2h0.7M68.1 406.3h0.7M71.0 407.5h0.7M66.0 406.4h0.7M68.7 405.7h0.7M65.0 411.7h0.7M71.2 409.8h0.7M71.4 409.0h0.7M63.1 410.1h0.7M71.1 408.7h0.7M62.4 410.2h0.7M71.4 406.8h0.7M68.0 409.3h0.7M67.5 409.9h0.7M67.9 409.1h0.7M67.9 404.9h0.7M65.0 413.9h0.7M68.5 410.3h0.7M70.8 411.1h0.7M69.2 406.6h0.7M67.8 404.1h0.7M67.2 409.6h0.7M61.8 408.2h0.7M69.9 410.4h0.7M65.2 406.5h0.7M62.6 405.8h0.7M69.2 411.8h0.7M64.6 410.5h0.7M68.9 406.8h0.7M73.7 402.9h0.7M67.5 408.2h0.7M73.5 411.3h0.7M73.9 408.1h0.7M70.4 410.5h0.7M69.1 408.5h0.7M67.2 407.0h0.7M64.4 411.6h0.7M66.5 403.8h0.7M68.4 407.7h0.7M68.2 411.3h0.7M67.4 407.3h0.7M65.7 407.8h0.7M66.5 408.2h0.7M76.2 408.6h0.7M65.4 411.6h0.7M70.1 409.4h0.7M69.6 409.4h0.7M69.5 410.5h0.7M70.4 410.4h0.7M66.3 407.8h0.7M65.7 409.7h0.7M70.0 406.9h0.7M69.3 412.9h0.7M71.1 405.6h0.7M67.4 409.0h0.7M67.6 408.6h0.7M70.9 408.4h0.7M64.7 409.2h0.7M67.4 408.0h0.7M66.2 405.1h0.7M64.3 407.1h0.7M64.8 402.5h0.7M70.8 405.5h0.7M65.7 408.8h0.7M61.1 410.4h0.7M65.6 409.1h0.7M66.4 408.4h0.7M68.0 407.8h0.7M62.7 404.9h0.7M67.6 410.5h0.7M66.2 408.8h0.7M68.1 408.7h0.7M70.4 404.9h0.7M68.4 407.5h0.7M66.8 406.1h0.7M65.6 405.8h0.7M64.7 412.7h0.7M72.3 407.8h0.7M69.7 405.9h0.7M60.1 404.2h0.7M68.1 410.6h0.7M67.6 405.8h0.7M67.0 405.9h0.7M63.9 407.3h0.7M66.6 406.2h0.7M65.3 406.0h0.7M68.3 410.5h0.7M67.1 412.2h0.7M63.3 408.3h0.7M64.5 407.5h0.7M68.0 408.9h0.7M70.8 406.7h0.7M64.3 407.4h0.7M68.5 406.4h0.7M70.1 411.1h0.7M63.8 408.5h0.7M70.5 404.1h0.7M68.3 407.4h0.7M63.8 410.4h0.7M68.3 406.9h0.7M68.9 409.1h0.7M69.8 408.9h0.7M68.8 405.5h0.7M66.6 408.1h0.7M60.1 412.0h0.7M66.7 405.7h0.7M62.7 408.3h0.7M67.8 406.7h0.7M66.6 406.1h0.7M65.7 407.6h0.7M65.9 409.1h0.7M67.3 408.1h0.7M68.8 410.3h0.7M69.3 408.2h0.7M67.3 406.2h0.7M66.8 409.1h0.7M68.3 407.0h0.7M64.1 404.8h0.7M68.6 409.8h0.7M68.7 405.1h0.7M67.1 408.2h0.7M65.2 408.5h0.7M67.2 406.2h0.7M64.3 409.4h0.7M68.7 406.1h0.7M64.9 409.5h0.7M69.3 407.2h0.7M72.0 407.2h0.7M64.8 409.9h0.7M67.2 408.5h0.7M67.8 405.8h0.7M64.5 407.4h0.7M71.5 405.8h0.7M71.4 408.2h0.7M64.7 408.3h0.7M69.2 406.0h0.7M61.9 408.5h0.7M64.7 408.7h0.7M62.5 407.5h0.7M65.5 404.9h0.7M67.0 408.1h0.7M66.2 405.5h0.7M68.3 404.4h0.7M69.2 408.8h0.7M72.3 409.5h0.7M68.7 408.3h0.7M67.8 405.2h0.7M71.7 408.8h0.7M66.9 405.6h0.7M71.7 408.8h0.7" stroke="#2030d8" stroke-width="0.7" fill="none"/>
<path d="M65.4 408.4h0.7M70.1 407.6h0.7M67.8 407.1h0.7M66.2 408.9h0.7M72.0 407.7h0.7M67.0 408.5h0.7M66.7 408.4h0.7M68.5 406.4h0.7M65.5 407.5h0.7M68.5 407.9h0.7M69.1 406.0h0.7M68.0 406.9h0.7M67.4 408.0h0.7M65.7 407.3h0.7M65.4 407.9h0.7M65.9 407.0h0.7M67.5 406.8h0.7M69.0 406.9h0.7M68.5 407.9h0.7M65.6 407.3h0.7M65.9 407.2h0.7M66.8 409.7h0.7M66.5 409.4h0.7M67.9 406.1h0.7M63.6 408.4h0.7M64.1 408.4h0.7M68.8 408.1h0.7M66.9 407.3h0.7M67.6 407.2h0.7M66.4 407.2h0.7M69.0 406.9h0.7M67.8 406.3h0.7M66.1 406.0h0.7M66.9 408.4h0.7M67.7 407.0h0.7M68.1 407.2h0.7M67.8 407.9h0.7M68.0 404.7h0.7M65.2 408.5h0.7M67.0 410.2h0.7M66.8 407.0h0.7M69.5 408.2h0.7M70.1 408.2h0.7M66.9 408.4h0.7M66.0 407.1h0.7M66.3 407.3h0.7M68.4 407.0h0.7M67.7 407.0h0.7M68.6 404.4h0.7M66.9 407.8h0.7M65.5 408.8h0.7M67.5 409.1h0.7M68.7 408.3h0.7M67.0 406.3h0.7M66.9 407.1h0.7M67.6 407.1h0.7M71.9 405.7h0.7M69.0 407.1h0.7M66.8 408.7h0.7M67.2 406.2h0.7M67.8 407.4h0.7M64.0 407.8h0.7M65.6 406.7h0.7M67.9 407.9h0.7M66.8 410.1h0.7M67.8 406.9h0.7M67.6 407.5h0.7M63.8 405.8h0.7M65.1 410.0h0.7M66.9 407.3h0.7" stroke="#101a9a" stroke-width="0.7" fill="none"/>
<path d="M72.6 413.7h0.7M73.9 415.1h0.7M75.5 415.0h0.7M73.6 412.5h0.7M72.9 411.5h0.7M70.1 410.7h0.7M71.8 410.5h0.7M76.4 412.3h0.7M76.4 413.5h0.7M75.8 413.7h0.7M72.5 413.3h0.7M73.1 410.8h0.7M76.3 416.0h0.7M71.7 415.1h0.7M75.6 410.2h0.7M74.4 412.5h0.7M74.6 411.1h0.7M71.1 411.9h0.7M75.6 413.3h0.7M75.2 413.9h0.7M71.7 411.7h0.7M74.5 413.7h0.7M74.1 412.8h0.7M74.1 415.8h0.7M69.2 411.8h0.7M79.0 412.3h0.7M69.9 412.1h0.7M70.8 410.5h0.7M74.3 415.1h0.7M74.8 413.1h0.7M76.0 412.2h0.7M72.0 411.6h0.7M74.5 411.3h0.7M72.4 411.1h0.7M70.6 409.8h0.7M73.6 411.1h0.7M73.9 414.5h0.7M74.4 411.7h0.7M71.3 409.7h0.7M74.6 410.1h0.7M74.7 409.7h0.7M74.1 411.7h0.7M75.9 411.0h0.7M73.0 412.3h0.7M73.9 415.1h0.7M73.3 410.8h0.7M73.1 412.7h0.7M74.3 413.1h0.7M70.9 416.6h0.7M77.7 411.7h0.7M71.2 412.1h0.7M74.7 407.5h0.7M73.8 409.0h0.7M74.8 414.5h0.7M76.0 408.9h0.7M76.7 413.5h0.7M73.0 412.8h0.7M77.0 411.2h0.7M73.8 410.7h0.7M76.2 407.7h0.7M76.8 409.9h0.7M75.8 408.7h0.7M71.8 410.6h0.7M75.6 408.7h0.7M75.1 410.6h0.7M76.4 411.2h0.7M74.8 411.5h0.7M77.6 411.1h0.7M73.7 415.6h0.7M74.0 413.1h0.7M72.2 412.2h0.7M69.0 412.0h0.7M72.4 408.9h0.7M70.8 414.0h0.7M74.7 408.9h0.7M77.6 410.5h0.7M73.0 412.3h0.7M71.4 408.7h0.7M72.2 414.1h0.7M75.8 408.8h0.7M76.3 411.9h0.7M74.9 411.9h0.7M74.7 409.9h0.7M71.9 410.4h0.7M73.0 413.0h0.7M71.2 414.9h0.7M72.5 410.7h0.7M75.3 412.6h0.7M73.1 409.7h0.7M71.7 408.7h0.7M76.2 413.9h0.7M77.8 412.8h0.7M74.5 413.3h0.7M75.8 411.3h0.7M74.5 415.9h0.7M70.2 409.1h0.7M71.8 413.3h0.7M76.3 411.1h0.7M75.2 411.7h0.7M74.4 410.8h0.7M73.7 411.8h0.7M76.2 416.1h0.7M70.0 412.8h0.7M73.8 413.7h0.7M76.0 413.3h0.7M75.5 410.0h0.7M70.2 415.0h0.7M76.4 410.0h0.7M76.5 413.1h0.7M68.6 413.5h0.7M71.7 414.0h0.7M72.4 410.4h0.7M70.5 411.4h0.7M76.0 410.5h0.7M69.9 415.9h0.7M77.7 413.1h0.7M72.7 409.5h0.7M70.3 412.9h0.7M76.6 409.8h0.7M73.8 411.3h0.7M73.3 412.8h0.7M78.2 410.6h0.7M75.6 413.9h0.7M73.2 411.5h0.7M71.0 413.9h0.7M72.7 410.5h0.7M73.9 410.1h0.7M71.6 411.2h0.7M77.0 411.4h0.7M74.9 409.0h0.7M69.7 415.3h0.7M73.0 408.8h0.7M73.6 413.0h0.7M70.1 410.1h0.7M74.4 410.0h0.7M75.5 413.7h0.7M74.7 411.0h0.7M73.7 410.6h0.7M73.5 412.4h0.7M73.2 413.7h0.7M79.3 410.7h0.7M74.5 413.4h0.7M75.2 411.3h0.7M72.8 413.7h0.7M75.1 412.8h0.7M72.1 413.0h0.7M75.5 411.4h0.7M75.2 416.0h0.7M69.8 413.0h0.7M71.3 409.2h0.7" stroke="#19c0ee" stroke-width="0.7" fill="none"/>
<path d="M73.3 420.6h0.7M73.7 416.9h0.7M71.7 418.2h0.7M73.6 417.6h0.7M71.6 423.1h0.7M72.5 419.1h0.7M72.9 418.2h0.7M73.7 418.8h0.7M74.4 416.9h0.7M71.6 423.5h0.7M73.5 421.0h0.7M75.2 420.6h0.7M73.6 416.1h0.7M71.4 421.5h0.7M74.5 420.6h0.7M71.4 414.9h0.7M72.2 416.9h0.7M73.8 417.2h0.7M75.7 418.1h0.7M72.8 421.2h0.7M74.0 417.5h0.7M74.7 423.5h0.7M71.9 418.9h0.7M72.1 415.3h0.7M74.5 420.9h0.7M74.9 420.3h0.7M70.9 419.3h0.7M72.7 416.9h0.7M72.1 421.0h0.7M73.2 423.6h0.7M74.2 415.3h0.7M74.8 422.1h0.7M73.6 416.8h0.7M76.0 416.6h0.7M73.5 415.3h0.7M71.9 415.8h0.7M75.1 421.9h0.7M73.0 416.5h0.7M73.5 420.2h0.7M71.5 416.9h0.7M73.5 420.9h0.7M73.7 420.4h0.7M71.9 414.1h0.7M74.0 417.4h0.7M73.4 418.6h0.7M74.3 417.7h0.7M75.6 419.5h0.7M74.3 420.8h0.7M75.0 420.3h0.7M71.2 418.0h0.7M76.1 420.4h0.7M74.4 420.4h0.7M72.7 417.9h0.7M72.7 421.9h0.7M74.1 423.2h0.7M74.3 423.5h0.7M74.2 416.9h0.7M76.0 420.1h0.7M75.2 419.9h0.7M73.2 419.8h0.7M72.1 416.8h0.7M72.4 418.3h0.7M71.7 419.2h0.7M74.0 423.8h0.7M76.1 419.3h0.7M74.8 418.9h0.7M74.1 419.3h0.7M72.9 419.6h0.7M71.6 420.4h0.7M73.2 417.1h0.7" stroke="#22aa33" stroke-width="0.7" fill="none"/>
<path d="M77.9 408.7h0.7M77.7 408.6h0.7M78.6 409.8h0.7M77.3 407.9h0.7M78.6 409.8h0.7M78.4 408.9h0.7M77.0 407.3h0.7M79.5 407.7h0.7M79.9 407.1h0.7M78.0 406.1h0.7" stroke="#ee3333" stroke-width="0.7" fill="none"/>
<path d="M73.1 425.6h0.5M79.9 425.0h0.5M68.8 415.7h0.5M69.6 429.6h0.5M73.7 431.3h0.5M74.3 423.7h0.5M73.0 425.0h0.5M63.4 434.1h0.5M71.8 417.8h0.5M71.9 425.7h0.5M74.9 432.6h0.5M55.0 427.3h0.5M77.6 418.4h0.5M60.8 425.7h0.5M71.7 426.1h0.5M64.5 421.2h0.5M71.0 428.4h0.5M80.8 425.7h0.5M67.0 410.0h0.5M75.3 423.2h0.5M69.5 418.1h0.5M73.6 413.3h0.5M70.5 424.7h0.5M71.5 431.8h0.5M69.5 424.6h0.5" stroke="#ee3333" stroke-width="0.5" fill="none" opacity="0.7"/>
<path d="M60.3 408.1L64.6 404.2L72.3 403.2L79.2 405.8L81.5 410.4L80.8 415.8L79.2 421.9L79.2 437.3L64.6 437.3L64.9 423.5L63.8 416.5L60.8 412.7Z" fill="none" stroke="#222" stroke-width="0.55" stroke-linejoin="round"/>
<text x="0" y="0" font-size="3.9" text-anchor="start" font-weight="normal" fill="#444" transform="translate(43.8,401.8) scale(1.17,1)" stroke="none">monuclear events</text>
<rect x="119.5" y="394.3" width="50.5" height="44.89999999999998" fill="#fff" stroke="#777" stroke-width="0.7"/>
<line x1="119.5" y1="397.3" x2="119.5" y2="439.2" stroke="#111" stroke-width="1.0"/>
<line x1="119.5" y1="439.2" x2="170" y2="439.2" stroke="#111" stroke-width="0.8"/>
<path d="M117.3 398.3H119.5M117.3 408.8H119.5M117.3 418.8H119.5M117.3 428.8H119.5M117.3 435.0H119.5M126.3 439.2V442.2M141.3 439.2V442.2M152.5 439.2V442.2M164.5 439.2V442.2" stroke="#111" stroke-width="0.7" fill="none"/>
<path d="M118.2 401.5H119.5M118.2 403.3H119.5M118.2 404.6H119.5M118.2 405.6H119.5M118.2 406.5H119.5M118.2 407.2H119.5M118.2 407.8H119.5M118.2 408.3H119.5M118.2 411.8H119.5M118.2 413.6H119.5M118.2 414.8H119.5M118.2 415.8H119.5M118.2 416.6H119.5M118.2 417.3H119.5M118.2 417.8H119.5M118.2 418.3H119.5M118.2 421.8H119.5M118.2 423.6H119.5M118.2 424.8H119.5M118.2 425.8H119.5M118.2 426.6H119.5M118.2 427.3H119.5M118.2 427.8H119.5M118.2 428.3H119.5M118.2 430.7H119.5M118.2 431.8H119.5M118.2 432.5H119.5M118.2 433.1H119.5M118.2 433.6H119.5M118.2 434.0H119.5M118.2 434.4H119.5M118.2 434.7H119.5M130.8 439.2V441.2M133.5 439.2V441.2M135.3 439.2V441.2M136.8 439.2V441.2M138.0 439.2V441.2M139.0 439.2V441.2M139.8 439.2V441.2M140.6 439.2V441.2M144.7 439.2V441.2M146.6 439.2V441.2M148.0 439.2V441.2M149.1 439.2V441.2M150.0 439.2V441.2M150.8 439.2V441.2M151.4 439.2V441.2M152.0 439.2V441.2M156.1 439.2V441.2M158.2 439.2V441.2M159.7 439.2V441.2M160.9 439.2V441.2M161.8 439.2V441.2M162.6 439.2V441.2M163.3 439.2V441.2M164.0 439.2V441.2M121.8 439.2V441.6M123.3 439.2V441.6M124.8 439.2V441.6M126.3 439.2V441.6M127.8 439.2V441.6M129.3 439.2V441.6" stroke="#111" stroke-width="0.55" fill="none"/>
<text transform="translate(109.5,399.90000000000003) scale(0.82,1)" font-size="4.7" text-anchor="middle" fill="#222">10<tspan font-size="3" dy="-2">5</tspan></text>
<text transform="translate(109.5,410.40000000000003) scale(0.82,1)" font-size="4.7" text-anchor="middle" fill="#222">10<tspan font-size="3" dy="-2">4</tspan></text>
<text transform="translate(109.5,420.40000000000003) scale(0.82,1)" font-size="4.7" text-anchor="middle" fill="#222">10<tspan font-size="3" dy="-2">3</tspan></text>
<text transform="translate(109.5,430.40000000000003) scale(0.82,1)" font-size="4.7" text-anchor="middle" fill="#222">10<tspan font-size="3" dy="-2">2</tspan></text>
<text x="0" y="0" font-size="4.5" text-anchor="middle" font-weight="normal" fill="#222" transform="translate(110.7,436.6) scale(0.85,1)" stroke="none">0</text>
<text x="0" y="0" font-size="4.5" text-anchor="middle" font-weight="normal" fill="#222" transform="translate(126.3,449.4) scale(0.85,1)" stroke="none">0</text>
<text transform="translate(141.3,449.4) scale(0.82,1)" font-size="4.7" text-anchor="middle" fill="#222">10<tspan font-size="3" dy="-2">3</tspan></text>
<text transform="translate(152.5,449.4) scale(0.82,1)" font-size="4.7" text-anchor="middle" fill="#222">10<tspan font-size="3" dy="-2">4</tspan></text>
<text transform="translate(164.5,449.4) scale(0.82,1)" font-size="4.7" text-anchor="middle" fill="#222">10<tspan font-size="3" dy="-2">5</tspan></text>
<text x="0" y="0" font-size="4.5" text-anchor="middle" font-weight="normal" fill="#222" transform="translate(105.8,442.0) scale(0.85,1)" stroke="none">-79</text>
<text x="0" y="0" font-size="4.5" text-anchor="middle" font-weight="normal" fill="#222" transform="translate(118.8,453.0) scale(0.85,1)" stroke="none">-268</text>
<path d="M115.3 440.8l1.2 2.6l1.5 -2.6" fill="none" stroke="#4a55e8" stroke-width="0.9"/>
<text x="0" y="0" font-size="7" text-anchor="middle" font-weight="normal" fill="#222" stroke="#222" stroke-width="0.18" transform="translate(101.8,414.8) rotate(-90) scale(0.718,1)">CD45 V450-A</text>
<text x="0" y="0" font-size="7" text-anchor="middle" font-weight="normal" fill="#222" stroke="#222" stroke-width="0.18" transform="translate(143.3,458.8) scale(0.653,1)">CD34 PerCP-A</text>
<path d="M131.5 406.4h0.7M127.6 408.3h0.7M131.8 407.2h0.7M131.3 408.7h0.7M123.6 406.4h0.7M123.8 408.4h0.7M129.3 409.1h0.7M131.4 407.5h0.7M132.2 409.2h0.7M130.2 408.8h0.7M124.3 408.6h0.7M125.1 406.8h0.7M127.4 408.4h0.7M128.4 407.8h0.7M125.2 408.4h0.7M126.1 406.5h0.7M128.9 409.9h0.7M127.2 406.9h0.7M133.3 410.2h0.7M127.6 407.9h0.7M129.3 411.7h0.7M129.1 409.4h0.7M130.1 406.0h0.7M124.9 406.7h0.7M130.1 408.3h0.7M134.7 407.9h0.7M129.6 408.3h0.7M129.1 411.0h0.7M129.6 410.0h0.7M133.0 407.5h0.7M130.9 407.7h0.7M129.0 408.4h0.7M128.7 407.6h0.7M133.9 407.9h0.7M131.0 410.2h0.7M130.7 409.4h0.7M133.3 409.5h0.7M134.4 406.5h0.7M135.2 408.2h0.7M122.7 407.4h0.7M123.9 408.2h0.7M123.5 407.0h0.7M129.6 408.4h0.7M125.9 407.9h0.7M128.3 408.3h0.7M128.6 407.9h0.7M131.6 406.3h0.7M126.9 408.4h0.7M127.2 407.5h0.7M127.1 408.5h0.7M132.8 408.0h0.7M127.7 408.6h0.7M127.8 405.9h0.7M129.5 407.7h0.7M126.7 409.0h0.7M128.7 407.5h0.7M121.2 406.1h0.7M128.6 408.1h0.7M130.1 408.5h0.7M127.0 406.7h0.7M124.9 408.0h0.7M124.7 409.1h0.7M124.1 406.1h0.7M127.9 406.1h0.7M134.1 407.0h0.7M128.4 407.9h0.7M125.8 406.1h0.7M122.3 409.2h0.7M132.1 410.8h0.7M123.6 408.9h0.7M128.6 409.2h0.7M126.9 409.1h0.7M131.6 408.9h0.7M133.5 408.0h0.7M133.8 407.4h0.7M134.3 404.9h0.7M128.6 407.2h0.7M128.6 409.4h0.7M131.0 408.3h0.7M134.4 406.4h0.7M125.8 410.0h0.7M129.7 405.7h0.7M129.8 406.8h0.7M133.6 409.6h0.7M126.7 409.8h0.7M125.8 409.3h0.7M130.6 408.0h0.7M123.8 407.9h0.7M120.8 407.5h0.7M122.3 409.7h0.7M125.3 405.3h0.7M130.6 408.6h0.7M126.9 410.7h0.7M131.2 408.3h0.7M126.4 404.7h0.7M130.2 409.4h0.7M126.6 406.5h0.7M128.5 406.2h0.7M128.6 409.1h0.7M133.7 408.5h0.7M129.3 409.1h0.7M133.4 407.8h0.7M124.4 407.3h0.7M124.3 407.1h0.7M128.2 408.6h0.7M129.1 408.3h0.7M127.4 408.7h0.7M131.6 409.1h0.7M133.7 407.9h0.7M127.7 410.2h0.7M129.3 408.7h0.7M127.5 409.4h0.7M127.2 407.0h0.7M128.4 407.7h0.7M131.4 407.7h0.7M129.0 407.9h0.7M129.8 407.4h0.7M132.4 406.5h0.7M127.3 407.3h0.7M130.8 408.2h0.7M130.2 407.8h0.7M126.2 406.9h0.7M127.5 407.6h0.7M129.6 408.6h0.7M131.9 408.1h0.7M126.1 406.9h0.7M128.8 408.6h0.7M135.2 408.4h0.7M134.6 410.4h0.7M125.0 409.7h0.7M132.5 409.8h0.7M128.6 409.3h0.7M127.0 408.1h0.7M128.7 410.3h0.7M127.9 409.3h0.7M128.8 407.3h0.7M129.4 409.0h0.7M126.2 409.0h0.7M126.2 407.1h0.7M129.3 407.9h0.7M125.3 406.2h0.7M128.7 408.5h0.7M127.0 408.4h0.7M123.4 408.7h0.7M130.0 408.5h0.7M126.5 408.3h0.7M129.0 409.5h0.7M129.5 408.5h0.7M126.1 409.2h0.7M132.6 407.6h0.7M130.8 408.6h0.7M128.4 406.7h0.7M134.6 406.0h0.7M129.6 407.7h0.7M132.5 407.7h0.7M128.7 408.9h0.7M130.1 407.6h0.7M130.9 408.7h0.7M132.0 407.6h0.7M128.4 407.7h0.7M125.8 408.5h0.7M130.0 409.9h0.7M127.5 408.7h0.7M132.5 408.1h0.7M128.8 408.4h0.7M126.3 407.0h0.7M132.4 408.4h0.7M128.3 406.7h0.7M129.0 409.6h0.7M124.7 407.1h0.7" stroke="#22aa33" stroke-width="0.7" fill="none"/>
<path d="M132.8 415.7h0.7M134.4 412.8h0.7M131.0 412.5h0.7M130.7 413.1h0.7M129.5 415.6h0.7M130.0 413.2h0.7M129.0 414.0h0.7M127.0 413.9h0.7M130.9 415.9h0.7M121.4 411.8h0.7M124.4 414.9h0.7M137.5 413.9h0.7M129.2 415.3h0.7M120.1 413.3h0.7M127.0 412.9h0.7M130.0 412.7h0.7M132.8 413.6h0.7M130.2 417.4h0.7M127.2 415.0h0.7M125.8 415.5h0.7M132.2 413.8h0.7M132.3 416.0h0.7M133.7 413.6h0.7M128.6 415.2h0.7M123.5 412.7h0.7M130.5 414.4h0.7M135.4 416.2h0.7M130.0 414.3h0.7M124.1 413.3h0.7M129.7 413.3h0.7M129.0 414.5h0.7M125.4 412.8h0.7M122.5 415.3h0.7M125.0 411.1h0.7M131.5 413.3h0.7M132.2 413.1h0.7M136.4 414.7h0.7M129.3 413.8h0.7M128.1 414.8h0.7M135.9 413.0h0.7M124.9 414.5h0.7M132.6 411.4h0.7M126.3 412.1h0.7M130.8 414.3h0.7M126.2 411.9h0.7M131.2 410.6h0.7M131.1 413.4h0.7M135.6 415.1h0.7M126.7 413.2h0.7M127.8 412.5h0.7M129.1 415.0h0.7M123.4 413.3h0.7M134.1 414.7h0.7M125.9 412.4h0.7M125.8 411.2h0.7M132.9 413.7h0.7M126.3 411.5h0.7M127.4 412.8h0.7M134.9 412.9h0.7M129.2 415.2h0.7M131.2 413.3h0.7M121.1 415.7h0.7M130.9 413.0h0.7M128.5 412.2h0.7M125.6 411.4h0.7M130.6 414.4h0.7M129.4 414.8h0.7M130.7 413.8h0.7M125.7 414.5h0.7M133.0 414.5h0.7M133.2 412.9h0.7M125.3 415.4h0.7M126.7 414.0h0.7M128.1 413.6h0.7M127.8 412.8h0.7M122.5 416.4h0.7M129.5 410.8h0.7M125.6 411.9h0.7M126.2 409.8h0.7M130.8 416.0h0.7M127.9 414.7h0.7M130.9 411.8h0.7M133.1 411.1h0.7M126.8 413.1h0.7M133.2 413.8h0.7M128.4 412.4h0.7M129.1 413.7h0.7M131.4 415.7h0.7M131.4 413.6h0.7M128.3 416.0h0.7M129.5 413.6h0.7M135.1 415.9h0.7M130.8 413.4h0.7M126.6 415.2h0.7M127.2 415.0h0.7M126.0 413.8h0.7M130.2 413.8h0.7M129.6 414.2h0.7M124.8 412.0h0.7M128.3 416.2h0.7M128.4 412.2h0.7M126.5 413.6h0.7M133.0 412.8h0.7M130.8 413.9h0.7M127.5 412.2h0.7M128.3 412.5h0.7M130.7 411.0h0.7M132.8 414.7h0.7M130.8 415.8h0.7M130.9 411.1h0.7M129.0 414.3h0.7M126.4 411.9h0.7M130.3 414.3h0.7M127.3 413.2h0.7M127.0 412.8h0.7M128.6 415.2h0.7M123.1 413.1h0.7M134.5 414.1h0.7M129.3 414.8h0.7M125.3 411.8h0.7M123.0 411.5h0.7M129.7 414.8h0.7M127.3 412.6h0.7M130.2 414.5h0.7M129.7 410.8h0.7M126.9 409.9h0.7M129.7 412.4h0.7M126.5 415.8h0.7M133.4 414.3h0.7M129.8 413.9h0.7M126.7 413.5h0.7M135.5 412.3h0.7M126.5 413.8h0.7M131.9 414.8h0.7M125.4 413.4h0.7M127.9 411.8h0.7M129.1 412.9h0.7M132.0 414.2h0.7M126.1 413.7h0.7M127.6 412.7h0.7M127.1 415.2h0.7M127.4 411.1h0.7M126.1 414.8h0.7M136.3 412.1h0.7M127.6 413.1h0.7M123.9 414.2h0.7M128.6 414.0h0.7M136.6 413.2h0.7M131.6 414.8h0.7M126.6 412.7h0.7M134.3 414.6h0.7M129.3 412.0h0.7M131.9 414.4h0.7M136.5 415.8h0.7M131.6 414.0h0.7M129.0 412.8h0.7M129.9 414.0h0.7M131.1 415.2h0.7M129.9 412.8h0.7M131.6 415.9h0.7M125.9 414.2h0.7M130.7 414.4h0.7M130.6 413.5h0.7M128.4 416.1h0.7M134.9 411.6h0.7M126.4 412.8h0.7M123.2 414.1h0.7M128.6 412.8h0.7M131.9 417.1h0.7M134.0 415.3h0.7M127.4 414.6h0.7M128.7 415.3h0.7M130.8 413.5h0.7M130.7 412.6h0.7M131.6 415.8h0.7M127.5 414.4h0.7M123.0 415.0h0.7M131.9 412.1h0.7M134.9 413.8h0.7M122.7 411.6h0.7M131.9 413.2h0.7M132.7 411.3h0.7M128.5 415.0h0.7M126.4 414.6h0.7M127.5 414.1h0.7M129.9 416.9h0.7M124.5 414.7h0.7M133.4 412.0h0.7M129.1 417.0h0.7M132.5 409.3h0.7M128.0 411.1h0.7M129.9 412.5h0.7M126.8 412.4h0.7M129.8 412.9h0.7M125.6 413.3h0.7M130.2 412.4h0.7M132.7 411.2h0.7M130.2 413.0h0.7M134.3 412.7h0.7M126.5 411.6h0.7M135.7 414.5h0.7M125.0 413.1h0.7M125.5 415.8h0.7M130.3 410.6h0.7M129.5 414.9h0.7M128.8 414.3h0.7M128.4 413.9h0.7M129.5 412.6h0.7M130.0 413.8h0.7M128.7 412.6h0.7M125.3 414.0h0.7M131.7 410.1h0.7M126.9 415.6h0.7M132.0 412.6h0.7M133.5 412.2h0.7M126.0 416.4h0.7M127.3 413.3h0.7M123.0 412.1h0.7" stroke="#e326e6" stroke-width="0.7" fill="none"/>
<path d="M141.8 419.4h0.7M139.8 421.5h0.7M144.4 418.5h0.7M143.5 420.9h0.7M150.3 418.9h0.7M150.5 422.4h0.7M149.7 420.1h0.7M140.9 420.8h0.7M144.2 419.9h0.7M139.6 419.1h0.7M146.2 418.0h0.7M146.4 422.5h0.7M146.2 418.4h0.7M152.9 415.8h0.7M142.6 420.3h0.7M143.7 415.6h0.7M146.3 421.1h0.7M143.0 422.2h0.7M147.1 421.7h0.7M140.7 419.6h0.7M150.5 423.1h0.7M149.6 419.6h0.7M146.1 418.5h0.7M148.9 418.4h0.7M145.9 416.0h0.7M140.8 422.7h0.7M145.7 420.0h0.7M138.7 419.5h0.7M152.0 417.0h0.7M138.1 419.3h0.7M143.8 419.2h0.7M141.6 417.2h0.7M141.6 420.7h0.7M145.4 421.0h0.7M142.1 420.6h0.7M144.1 419.8h0.7M148.4 419.7h0.7M144.4 416.7h0.7M145.7 421.0h0.7M143.5 419.5h0.7M140.0 417.3h0.7M146.8 421.9h0.7M144.5 416.7h0.7M144.3 416.8h0.7M144.6 423.0h0.7M146.4 419.3h0.7M148.7 418.9h0.7M146.5 420.0h0.7M146.9 417.0h0.7M147.7 421.2h0.7M138.3 414.8h0.7M142.7 422.2h0.7M145.6 420.8h0.7M147.2 421.2h0.7M143.5 418.6h0.7M146.7 420.7h0.7M147.3 420.2h0.7M144.0 421.6h0.7M147.0 421.5h0.7M137.5 421.4h0.7M137.8 420.0h0.7M143.4 419.8h0.7M144.0 419.1h0.7M146.1 420.2h0.7M143.0 415.1h0.7M143.0 420.6h0.7M142.8 420.4h0.7M144.3 417.9h0.7M149.2 422.5h0.7M145.2 419.5h0.7M148.5 417.2h0.7M142.7 421.6h0.7M148.3 418.7h0.7M143.0 420.2h0.7M141.1 418.7h0.7M144.8 415.2h0.7M147.4 421.0h0.7M148.9 417.0h0.7M141.4 418.1h0.7M141.4 423.3h0.7M142.4 419.0h0.7M146.2 420.4h0.7M150.1 417.7h0.7M148.3 419.9h0.7M141.8 419.9h0.7M141.1 422.5h0.7M143.2 421.4h0.7M149.6 418.5h0.7M142.7 419.8h0.7M142.2 421.2h0.7M146.1 418.2h0.7M143.3 420.9h0.7M140.9 422.6h0.7M143.0 419.2h0.7M142.6 422.5h0.7M148.1 421.9h0.7M147.6 419.8h0.7M150.9 420.8h0.7M146.9 420.6h0.7M147.8 420.1h0.7M145.0 416.7h0.7M152.1 417.3h0.7M138.6 418.3h0.7M151.7 421.8h0.7M143.6 420.1h0.7M145.4 416.0h0.7M144.4 420.1h0.7M149.2 417.4h0.7M138.3 416.8h0.7M146.6 419.7h0.7M146.0 419.9h0.7M144.3 417.1h0.7M146.9 420.3h0.7M147.3 421.8h0.7M141.5 415.4h0.7M139.8 423.4h0.7M142.6 420.3h0.7M145.5 420.9h0.7M155.8 418.7h0.7M145.0 418.5h0.7M146.3 420.5h0.7M142.4 422.0h0.7M149.2 420.4h0.7M145.1 419.2h0.7M140.2 420.8h0.7M142.4 418.7h0.7M148.7 417.9h0.7M143.8 421.1h0.7M151.4 418.4h0.7M149.0 418.4h0.7M146.7 420.5h0.7M141.9 421.4h0.7M151.3 419.7h0.7M146.4 417.5h0.7M151.2 419.7h0.7M141.4 421.0h0.7M140.8 418.4h0.7M138.7 422.1h0.7M152.6 418.5h0.7M143.4 418.6h0.7M143.7 420.6h0.7M150.2 417.8h0.7M146.9 416.4h0.7M150.4 419.4h0.7M143.3 422.4h0.7M145.2 422.1h0.7M148.9 422.6h0.7M142.9 419.7h0.7M146.7 419.3h0.7M150.4 418.3h0.7M148.7 422.1h0.7M139.2 417.9h0.7M142.6 418.6h0.7M146.7 419.3h0.7M145.8 418.8h0.7M145.2 420.5h0.7M147.9 418.2h0.7M145.1 418.2h0.7M144.9 417.0h0.7M148.6 420.8h0.7M145.1 418.4h0.7M144.0 418.4h0.7M140.6 422.5h0.7M156.0 417.4h0.7M141.8 420.6h0.7M147.4 416.8h0.7M139.4 420.6h0.7M139.1 422.2h0.7M143.9 419.8h0.7M145.5 418.6h0.7M145.0 419.1h0.7M149.5 419.4h0.7M145.4 418.6h0.7M143.5 418.3h0.7M145.5 422.9h0.7M149.1 420.0h0.7M150.8 421.4h0.7M146.2 419.3h0.7M142.0 420.0h0.7M144.5 416.7h0.7M141.4 423.1h0.7M146.2 420.5h0.7M146.1 418.8h0.7M147.0 421.6h0.7M144.5 420.5h0.7M148.8 418.7h0.7M146.0 418.3h0.7M147.4 418.9h0.7M149.2 418.2h0.7M150.9 419.0h0.7M142.8 418.0h0.7M147.6 418.1h0.7M151.3 421.9h0.7M147.2 417.0h0.7M145.4 418.3h0.7M139.7 420.4h0.7M152.5 418.6h0.7M148.1 421.9h0.7M142.4 419.0h0.7M146.4 420.4h0.7" stroke="#2030d8" stroke-width="0.7" fill="none"/>
<path d="M143.7 419.8h0.7M145.3 420.5h0.7M142.9 419.1h0.7M144.7 419.3h0.7M146.7 419.0h0.7M149.9 419.0h0.7M146.8 420.5h0.7M147.0 419.4h0.7M144.2 419.4h0.7M146.6 419.7h0.7M146.4 420.1h0.7M144.1 418.8h0.7M147.8 419.2h0.7M143.0 421.3h0.7M144.2 418.8h0.7M147.0 418.6h0.7M144.1 420.5h0.7M144.2 421.9h0.7M145.7 422.0h0.7M145.7 419.6h0.7M144.5 419.4h0.7M144.7 419.6h0.7M146.7 418.5h0.7M144.0 417.7h0.7M147.9 419.5h0.7M145.5 419.5h0.7M147.1 419.9h0.7M146.9 419.4h0.7M145.3 419.5h0.7M142.5 420.6h0.7M143.0 418.7h0.7M146.6 419.6h0.7M146.8 421.1h0.7M148.5 420.8h0.7M145.1 421.4h0.7M144.1 419.5h0.7M147.1 419.4h0.7M145.3 419.3h0.7M147.7 417.4h0.7M147.5 420.6h0.7M145.4 420.1h0.7M144.0 420.6h0.7M150.4 418.8h0.7M147.7 419.5h0.7M145.0 419.2h0.7M145.2 418.5h0.7M143.3 421.1h0.7M145.5 420.1h0.7M146.0 420.0h0.7M143.1 418.7h0.7M146.5 420.5h0.7M143.7 419.1h0.7M143.8 420.2h0.7M146.1 419.6h0.7M144.5 419.9h0.7M145.6 418.9h0.7M146.0 419.0h0.7M147.0 420.2h0.7M144.4 420.1h0.7M145.6 419.0h0.7" stroke="#101a9a" stroke-width="0.7" fill="none"/>
<path d="M125.8 412.0h0.55M123.8 424.1h0.55M144.9 418.2h0.55M135.4 424.1h0.55M141.0 424.7h0.55M145.0 426.6h0.55M127.1 424.4h0.55M134.2 425.5h0.55M131.3 427.0h0.55M145.9 417.0h0.55M129.1 423.6h0.55M138.4 422.9h0.55M141.5 414.9h0.55M141.0 429.0h0.55M144.0 424.6h0.55M131.9 424.4h0.55M133.3 412.5h0.55M128.6 421.8h0.55M129.4 416.4h0.55M131.9 419.8h0.55M134.6 421.7h0.55M135.5 428.0h0.55M135.2 424.4h0.55M123.0 404.3h0.55M130.4 426.1h0.55M130.9 418.3h0.55M122.8 427.4h0.55M129.3 423.5h0.55M144.2 425.2h0.55M154.2 421.2h0.55M142.6 426.2h0.55M128.1 422.3h0.55M128.9 415.9h0.55M136.7 417.4h0.55M149.1 417.6h0.55M129.1 422.5h0.55M129.3 422.3h0.55M128.5 413.5h0.55M147.7 424.7h0.55M135.4 419.2h0.55M132.7 423.8h0.55M121.5 417.2h0.55M126.0 429.6h0.55" stroke="#ee3333" stroke-width="0.55" fill="none" opacity="0.7"/>
<path d="M120.6 412.4C121 409.8 127 409.6 132 410.6C136.5 411.4 139 413 138.6 415.6C138 418.6 133 419 128 417.8C123.5 416.8 120.2 415 120.6 412.4Z" fill="none" stroke="#222" stroke-width="0.55"/>
<path d="M136.3 419.2C136.6 415.6 142 414 147.5 414.6C152.5 415.2 155.4 417.6 154.8 421.4C154.2 425.2 149.5 427 144 426.6C139 426.2 136 423 136.3 419.2Z" fill="none" stroke="#222" stroke-width="0.55"/>
<text x="0" y="0" font-size="3" text-anchor="middle" font-weight="normal" fill="#444" transform="translate(127,426.6) scale(0.85,1)" stroke="none">ii.</text>
<text x="0" y="0" font-size="3" text-anchor="middle" font-weight="normal" fill="#444" transform="translate(143.8,432.8) scale(0.85,1)" stroke="none">i.</text>
<rect x="196.8" y="393.4" width="50.69999999999999" height="45.80000000000001" fill="#fff" stroke="#777" stroke-width="0.7"/>
<line x1="196.8" y1="396.4" x2="196.8" y2="439.2" stroke="#111" stroke-width="1.0"/>
<line x1="196.8" y1="439.2" x2="247.5" y2="439.2" stroke="#111" stroke-width="0.8"/>
<path d="M194.6 397.5H196.8M194.6 408.0H196.8M194.6 418.3H196.8M194.6 432.0H196.8M205.0 439.2V442.2M219.5 439.2V442.2M230.8 439.2V442.2M242.0 439.2V442.2" stroke="#111" stroke-width="0.7" fill="none"/>
<path d="M195.5 400.7H196.8M195.5 402.5H196.8M195.5 403.8H196.8M195.5 404.8H196.8M195.5 405.7H196.8M195.5 406.4H196.8M195.5 407.0H196.8M195.5 407.5H196.8M195.5 411.1H196.8M195.5 412.9H196.8M195.5 414.2H196.8M195.5 415.2H196.8M195.5 416.0H196.8M195.5 416.7H196.8M195.5 417.3H196.8M195.5 417.8H196.8M195.5 422.4H196.8M195.5 424.8H196.8M195.5 426.5H196.8M195.5 427.9H196.8M195.5 429.0H196.8M195.5 429.9H196.8M195.5 430.7H196.8M195.5 431.4H196.8M209.4 439.2V441.2M211.9 439.2V441.2M213.7 439.2V441.2M215.1 439.2V441.2M216.3 439.2V441.2M217.3 439.2V441.2M218.1 439.2V441.2M218.8 439.2V441.2M222.9 439.2V441.2M224.9 439.2V441.2M226.3 439.2V441.2M227.4 439.2V441.2M228.3 439.2V441.2M229.0 439.2V441.2M229.7 439.2V441.2M230.3 439.2V441.2M234.2 439.2V441.2M236.1 439.2V441.2M237.5 439.2V441.2M238.6 439.2V441.2M239.5 439.2V441.2M240.3 439.2V441.2M240.9 439.2V441.2M241.5 439.2V441.2M200.5 439.2V441.6M202.0 439.2V441.6M203.5 439.2V441.6M205.0 439.2V441.6M206.5 439.2V441.6M208.0 439.2V441.6" stroke="#111" stroke-width="0.55" fill="none"/>
<text transform="translate(187.5,399.1) scale(0.82,1)" font-size="4.7" text-anchor="middle" fill="#222">10<tspan font-size="3" dy="-2">5</tspan></text>
<text transform="translate(187.5,409.6) scale(0.82,1)" font-size="4.7" text-anchor="middle" fill="#222">10<tspan font-size="3" dy="-2">4</tspan></text>
<text transform="translate(187.5,419.90000000000003) scale(0.82,1)" font-size="4.7" text-anchor="middle" fill="#222">10<tspan font-size="3" dy="-2">3</tspan></text>
<text x="0" y="0" font-size="4.5" text-anchor="middle" font-weight="normal" fill="#222" transform="translate(188.7,433.6) scale(0.85,1)" stroke="none">0</text>
<text x="0" y="0" font-size="4.5" text-anchor="middle" font-weight="normal" fill="#222" transform="translate(205,449.4) scale(0.85,1)" stroke="none">0</text>
<text transform="translate(219.5,449.4) scale(0.82,1)" font-size="4.7" text-anchor="middle" fill="#222">10<tspan font-size="3" dy="-2">3</tspan></text>
<text transform="translate(230.8,449.4) scale(0.82,1)" font-size="4.7" text-anchor="middle" fill="#222">10<tspan font-size="3" dy="-2">4</tspan></text>
<text transform="translate(242,449.4) scale(0.82,1)" font-size="4.7" text-anchor="middle" fill="#222">10<tspan font-size="3" dy="-2">5</tspan></text>
<text x="0" y="0" font-size="4.5" text-anchor="middle" font-weight="normal" fill="#222" transform="translate(185.79999999999998,441.2) scale(0.85,1)" stroke="none">-807</text>
<text x="0" y="0" font-size="4.5" text-anchor="middle" font-weight="normal" fill="#222" transform="translate(197.5,451.8) scale(0.85,1)" stroke="none">-338</text>
<path d="M192.60000000000002 440.8l1.2 2.6l1.5 -2.6" fill="none" stroke="#4a55e8" stroke-width="0.9"/>
<text x="0" y="0" font-size="7" text-anchor="middle" font-weight="normal" fill="#222" stroke="#222" stroke-width="0.18" transform="translate(180.6,414.2) rotate(-90) scale(0.681,1)">CD20 APC-H7-A</text>
<text x="0" y="0" font-size="7" text-anchor="middle" font-weight="normal" fill="#222" stroke="#222" stroke-width="0.18" transform="translate(222,458.8) scale(0.657,1)">CD10 PE-Cy7-A</text>
<path d="M202.4 413.2h0.7M204.5 415.8h0.7M205.9 411.3h0.7M211.1 412.7h0.7M209.6 409.4h0.7M210.3 414.1h0.7M205.8 410.4h0.7M202.3 412.9h0.7M207.3 411.2h0.7M201.8 414.0h0.7M209.4 411.2h0.7M211.5 409.6h0.7M209.4 409.5h0.7M211.3 410.7h0.7M210.6 410.5h0.7M207.6 413.1h0.7M203.0 411.4h0.7M203.2 412.6h0.7M204.0 410.6h0.7M205.5 413.2h0.7M202.5 411.2h0.7M205.0 410.3h0.7M203.4 410.9h0.7M206.9 408.6h0.7M207.0 409.2h0.7M206.3 415.1h0.7M202.7 411.1h0.7M205.3 412.9h0.7M204.5 408.2h0.7M200.4 411.5h0.7M207.1 413.0h0.7M204.3 412.3h0.7M202.4 413.4h0.7M205.9 410.0h0.7M206.8 414.2h0.7M203.1 409.1h0.7M202.5 409.2h0.7M206.0 411.8h0.7M205.6 411.5h0.7M210.5 410.7h0.7M201.7 407.3h0.7M207.1 410.0h0.7M205.3 411.9h0.7M207.9 408.5h0.7M202.8 411.3h0.7M205.7 413.1h0.7M204.4 407.7h0.7M210.4 408.4h0.7M202.7 411.9h0.7M202.4 415.4h0.7M207.1 412.1h0.7M204.6 415.0h0.7M208.1 410.0h0.7M210.7 408.3h0.7M204.1 411.7h0.7M206.7 409.6h0.7M211.9 413.7h0.7M202.8 411.8h0.7M203.9 410.5h0.7M209.8 411.4h0.7M205.8 411.4h0.7M202.0 413.3h0.7M203.5 413.4h0.7M204.6 410.4h0.7M211.5 411.5h0.7M203.9 410.3h0.7M208.4 414.4h0.7M208.4 410.5h0.7M202.2 410.1h0.7M205.8 411.6h0.7M203.8 413.4h0.7M202.8 410.0h0.7M208.0 412.0h0.7M204.8 412.8h0.7M201.1 414.0h0.7M214.1 414.5h0.7M206.6 414.5h0.7M206.4 413.5h0.7M205.5 411.5h0.7M208.1 408.2h0.7M205.5 414.1h0.7M209.5 411.8h0.7M206.9 413.6h0.7M207.4 408.0h0.7M202.8 410.7h0.7M206.7 410.4h0.7M205.8 414.0h0.7M209.6 412.2h0.7M206.3 411.3h0.7M207.5 411.6h0.7M203.6 412.5h0.7M203.2 411.1h0.7M204.9 409.2h0.7M208.4 411.1h0.7M202.0 411.1h0.7M201.2 413.6h0.7M208.1 414.6h0.7M204.2 412.4h0.7M202.7 409.8h0.7M205.9 411.9h0.7M209.5 410.7h0.7M210.2 412.8h0.7M203.1 410.9h0.7M202.9 414.1h0.7M204.2 412.7h0.7M209.5 410.8h0.7M204.5 411.8h0.7M203.4 409.1h0.7M202.7 411.8h0.7M206.9 414.2h0.7M199.6 412.1h0.7M202.1 413.2h0.7M208.7 411.4h0.7M211.5 410.6h0.7M204.3 409.4h0.7M203.8 411.4h0.7M208.6 413.4h0.7M205.2 410.0h0.7M205.0 410.5h0.7M204.5 410.5h0.7M203.1 411.1h0.7M204.4 410.9h0.7M201.2 411.4h0.7M208.2 412.3h0.7M204.2 409.3h0.7M201.5 409.2h0.7M203.9 410.7h0.7M199.9 412.3h0.7M200.7 410.0h0.7M203.6 412.6h0.7M212.8 410.6h0.7M205.2 410.5h0.7M205.5 410.9h0.7M215.0 409.4h0.7M205.8 409.9h0.7M207.5 410.3h0.7M208.3 409.4h0.7M213.7 411.6h0.7M199.9 412.4h0.7M204.5 409.3h0.7M207.8 410.3h0.7M208.8 410.3h0.7M209.4 411.5h0.7M207.5 411.5h0.7M204.9 410.6h0.7M207.8 412.4h0.7M204.7 415.0h0.7M212.2 409.3h0.7M210.1 411.1h0.7M207.0 409.9h0.7M212.1 409.8h0.7M205.9 410.0h0.7M213.1 413.3h0.7M201.5 410.4h0.7M207.5 410.5h0.7M204.9 409.4h0.7M207.1 409.4h0.7M209.2 415.2h0.7M205.0 414.0h0.7M207.5 410.1h0.7M205.0 409.6h0.7M206.6 412.4h0.7M209.5 410.7h0.7M202.0 411.1h0.7M212.1 411.7h0.7M206.0 407.7h0.7M204.7 412.1h0.7M202.8 413.5h0.7M204.2 409.7h0.7M204.1 411.0h0.7M209.7 410.3h0.7M199.9 411.1h0.7M208.1 413.8h0.7M202.2 413.7h0.7M208.6 412.0h0.7M203.5 409.7h0.7M202.8 412.8h0.7M207.0 413.0h0.7M212.6 411.2h0.7M206.0 414.4h0.7M201.6 410.5h0.7M204.9 410.6h0.7M206.7 409.8h0.7M210.3 408.9h0.7M203.3 408.4h0.7M201.2 412.2h0.7M208.4 410.9h0.7M209.2 412.2h0.7M204.2 411.1h0.7M207.5 414.6h0.7M204.6 411.8h0.7M208.1 413.2h0.7M207.7 413.0h0.7M202.4 410.8h0.7M199.3 411.1h0.7M214.5 411.6h0.7M206.5 411.7h0.7M206.7 409.0h0.7M203.7 410.9h0.7M206.8 409.8h0.7M205.8 410.0h0.7M201.5 410.1h0.7M203.4 412.6h0.7M210.9 412.2h0.7M205.5 410.3h0.7M200.6 410.3h0.7M211.7 413.1h0.7M207.0 410.8h0.7M206.2 411.9h0.7M206.2 411.9h0.7M203.5 411.3h0.7M205.0 413.0h0.7M201.8 413.4h0.7M205.9 410.4h0.7M206.3 411.4h0.7M205.4 411.9h0.7M204.2 408.4h0.7M208.7 411.2h0.7" stroke="#19c0ee" stroke-width="0.7" fill="none"/>
<path d="M229.7 410.1h0.7M216.7 411.6h0.7M221.4 410.4h0.7M231.7 411.3h0.7M219.9 409.3h0.7M218.1 410.6h0.7M225.8 407.6h0.7M225.4 411.1h0.7M226.7 408.2h0.7M221.4 407.4h0.7M219.2 410.0h0.7M223.9 411.7h0.7M224.8 408.8h0.7M218.8 412.1h0.7M224.4 409.4h0.7M220.2 407.6h0.7M226.0 407.7h0.7M225.9 410.5h0.7M222.5 406.6h0.7M225.3 411.9h0.7M220.9 407.2h0.7M227.6 409.7h0.7M221.6 411.6h0.7M222.8 410.2h0.7M222.4 408.1h0.7M224.6 407.9h0.7M217.5 408.5h0.7M228.2 411.3h0.7M231.5 411.2h0.7M229.5 409.9h0.7M222.3 410.2h0.7M220.4 410.7h0.7M222.2 409.9h0.7M220.8 409.2h0.7M227.3 409.0h0.7M221.4 409.9h0.7M226.9 409.1h0.7M219.7 406.7h0.7M219.1 411.3h0.7M223.5 410.3h0.7M227.6 409.9h0.7M225.5 408.5h0.7M218.1 410.5h0.7M223.5 410.4h0.7M220.0 409.2h0.7M230.9 408.0h0.7M224.1 411.7h0.7M223.0 409.6h0.7M216.3 410.8h0.7M222.2 411.7h0.7M223.5 408.8h0.7M225.3 409.0h0.7M222.0 412.1h0.7M227.3 409.6h0.7M226.7 410.9h0.7M225.9 409.5h0.7M224.1 410.1h0.7M225.8 410.0h0.7M221.9 409.3h0.7M225.4 407.7h0.7M223.8 410.7h0.7M224.4 408.9h0.7M223.7 408.6h0.7M227.3 408.8h0.7M217.9 407.3h0.7M224.9 409.8h0.7M222.1 407.2h0.7M223.3 408.0h0.7M221.5 409.4h0.7M221.1 410.0h0.7M221.2 408.6h0.7M223.0 412.0h0.7M229.4 411.1h0.7M221.2 409.4h0.7M227.0 410.8h0.7M218.1 409.3h0.7M221.2 410.7h0.7M226.0 408.5h0.7M231.4 408.9h0.7M232.4 409.1h0.7M223.5 412.7h0.7M221.9 408.6h0.7M229.0 409.4h0.7M225.5 407.3h0.7M230.1 411.1h0.7M225.1 410.6h0.7M222.0 408.6h0.7M218.3 410.1h0.7M228.2 410.9h0.7M227.0 410.6h0.7M220.6 407.2h0.7M226.1 409.7h0.7M227.3 409.0h0.7M220.7 410.2h0.7M221.8 406.6h0.7M221.7 407.9h0.7M219.9 408.5h0.7M227.1 413.5h0.7M229.9 408.7h0.7M227.8 409.3h0.7M225.2 408.3h0.7M223.5 406.6h0.7M230.1 408.1h0.7M225.9 408.4h0.7M224.8 407.4h0.7M222.5 411.0h0.7M225.9 406.1h0.7M226.8 407.2h0.7M224.8 410.3h0.7M221.5 408.9h0.7M222.9 410.1h0.7M227.0 411.8h0.7M225.0 412.8h0.7M220.5 412.5h0.7M222.9 410.7h0.7M223.4 409.6h0.7M220.6 410.1h0.7M230.9 409.7h0.7M223.7 409.4h0.7M226.3 409.1h0.7M223.8 409.8h0.7M228.4 411.1h0.7M220.1 408.3h0.7M223.9 410.9h0.7M227.2 409.1h0.7M231.3 409.2h0.7M228.8 411.9h0.7M229.4 409.8h0.7M225.8 406.8h0.7M217.5 408.4h0.7M226.3 411.2h0.7M223.4 411.2h0.7M225.8 412.0h0.7M218.2 408.0h0.7M220.4 407.6h0.7M229.6 407.8h0.7M220.9 408.7h0.7M226.9 408.6h0.7M226.4 410.4h0.7M221.5 405.4h0.7M220.6 407.3h0.7M229.6 408.2h0.7M220.0 410.1h0.7M224.0 407.8h0.7M227.7 411.0h0.7M224.8 408.1h0.7M220.7 405.9h0.7M225.2 410.1h0.7M220.6 409.5h0.7M235.4 407.5h0.7M217.8 410.5h0.7M222.3 408.6h0.7M226.0 409.2h0.7M227.3 410.3h0.7M227.9 409.6h0.7M216.2 411.7h0.7M217.8 411.2h0.7M224.7 407.1h0.7M224.0 410.9h0.7M220.2 409.5h0.7M221.2 407.7h0.7M221.6 411.6h0.7M226.2 409.4h0.7M223.5 409.6h0.7M224.8 409.7h0.7M217.7 411.0h0.7M220.8 405.0h0.7M226.3 407.4h0.7M223.3 409.3h0.7M221.7 410.3h0.7M222.8 408.9h0.7M220.4 408.9h0.7M220.1 409.5h0.7M228.5 411.1h0.7M225.3 407.1h0.7M227.4 411.0h0.7M231.1 405.6h0.7M223.9 408.8h0.7M227.6 407.6h0.7M222.5 413.4h0.7M227.3 406.0h0.7M223.9 411.8h0.7M221.6 410.4h0.7M224.2 406.9h0.7M221.6 411.4h0.7M228.0 408.4h0.7M227.8 408.2h0.7M224.7 409.4h0.7M219.4 410.0h0.7M222.4 404.7h0.7M220.9 408.0h0.7M220.8 407.7h0.7M221.4 405.2h0.7M227.0 409.5h0.7M224.7 409.0h0.7M224.0 409.0h0.7M219.9 406.8h0.7M224.1 411.2h0.7M224.6 412.2h0.7M219.0 409.0h0.7M221.6 411.5h0.7M229.8 408.5h0.7M226.4 409.0h0.7M220.3 409.2h0.7M220.1 412.1h0.7M225.9 411.5h0.7M225.1 405.2h0.7M226.6 409.6h0.7M215.4 409.6h0.7M227.4 412.3h0.7M220.2 410.8h0.7M225.0 409.1h0.7M222.8 410.3h0.7M225.8 410.5h0.7M222.4 407.1h0.7M228.5 411.6h0.7M221.8 409.4h0.7M226.7 406.4h0.7M225.6 413.6h0.7M224.8 408.2h0.7" stroke="#22aa33" stroke-width="0.7" fill="none"/>
<path d="M232.5 420.1h0.7M228.3 419.1h0.7M226.9 413.2h0.7M224.1 415.2h0.7M230.0 420.2h0.7M228.8 411.7h0.7M228.3 427.6h0.7M224.8 413.3h0.7M226.3 419.9h0.7M229.4 426.6h0.7M232.4 427.1h0.7M229.0 418.6h0.7M225.8 414.9h0.7M232.0 425.8h0.7M227.6 417.1h0.7M230.1 422.8h0.7M227.5 415.9h0.7M228.2 418.5h0.7M230.3 423.3h0.7M228.7 419.0h0.7M232.1 423.7h0.7M231.7 424.1h0.7M230.0 422.4h0.7M224.3 413.6h0.7M226.8 424.1h0.7M230.3 421.4h0.7M230.1 428.9h0.7M225.7 413.5h0.7M224.6 420.3h0.7M230.4 423.9h0.7M228.5 424.6h0.7M227.4 417.9h0.7M228.1 424.4h0.7M229.2 415.7h0.7M226.2 422.0h0.7M231.6 415.0h0.7M225.9 423.4h0.7M228.7 418.1h0.7M228.6 423.1h0.7M224.5 421.7h0.7M230.3 424.7h0.7M230.6 420.2h0.7M226.4 427.4h0.7M229.2 417.9h0.7M231.3 425.0h0.7M225.7 410.9h0.7M226.5 418.0h0.7M226.4 421.0h0.7M226.3 423.2h0.7M231.1 415.0h0.7M229.9 418.2h0.7M229.2 420.2h0.7M230.3 417.4h0.7M229.0 417.3h0.7M228.7 420.8h0.7M229.1 413.7h0.7M226.6 427.6h0.7M230.6 428.2h0.7M226.2 422.4h0.7M231.1 428.4h0.7M227.7 419.1h0.7M229.6 420.2h0.7M227.3 424.6h0.7M223.3 417.5h0.7M230.6 418.2h0.7M227.9 422.7h0.7M231.0 422.8h0.7M225.6 419.0h0.7M230.3 420.0h0.7M227.7 425.1h0.7M232.6 429.9h0.7M225.3 418.4h0.7M227.1 422.8h0.7M228.2 426.0h0.7M223.4 426.4h0.7M226.6 420.1h0.7M229.6 421.6h0.7M227.4 427.9h0.7M229.0 418.6h0.7M227.6 416.1h0.7M225.3 420.3h0.7M229.1 421.3h0.7M225.3 415.4h0.7M226.1 428.6h0.7M228.2 417.4h0.7M231.2 422.8h0.7M226.8 418.5h0.7M230.9 421.9h0.7M232.0 421.8h0.7M226.4 418.7h0.7M227.0 422.4h0.7M229.3 423.5h0.7M228.2 416.3h0.7M226.9 417.0h0.7M228.0 415.1h0.7M226.2 417.6h0.7M226.7 420.2h0.7M231.1 419.2h0.7M224.9 420.3h0.7M230.3 423.1h0.7M230.5 429.5h0.7M230.6 420.9h0.7M229.5 414.7h0.7M227.1 417.3h0.7M230.1 427.9h0.7M228.6 428.1h0.7M227.4 427.6h0.7M223.9 418.1h0.7M230.2 420.2h0.7M228.5 420.9h0.7M228.4 420.1h0.7M225.9 420.2h0.7M227.6 417.1h0.7M230.8 428.4h0.7M224.3 419.4h0.7M227.6 421.2h0.7M227.7 417.8h0.7M228.1 421.0h0.7M229.4 427.7h0.7M227.1 414.6h0.7M225.5 424.2h0.7M226.9 418.5h0.7M225.1 420.3h0.7M227.4 418.1h0.7M228.3 425.0h0.7M230.3 423.0h0.7M226.6 415.2h0.7M231.2 427.1h0.7M231.9 425.5h0.7M229.1 422.5h0.7M229.3 426.4h0.7M229.6 430.4h0.7M229.5 419.3h0.7M226.7 414.1h0.7M226.4 420.0h0.7M232.6 416.4h0.7M230.2 420.9h0.7M228.2 423.8h0.7M224.9 426.0h0.7M232.5 421.4h0.7M228.2 421.7h0.7M229.1 418.6h0.7M228.9 423.1h0.7M227.8 422.8h0.7M229.6 423.9h0.7M225.6 419.1h0.7M228.4 426.4h0.7M227.2 413.8h0.7M227.3 429.9h0.7M227.7 415.3h0.7M226.4 422.0h0.7M232.7 427.4h0.7M227.2 419.9h0.7M231.3 415.9h0.7M231.8 421.8h0.7M229.6 426.5h0.7M228.4 417.2h0.7M225.0 421.7h0.7M230.5 426.7h0.7M224.0 428.0h0.7M230.9 427.3h0.7M230.1 421.6h0.7M229.5 422.5h0.7M226.8 420.8h0.7M228.1 419.0h0.7M223.8 415.4h0.7M229.7 423.0h0.7M227.4 415.9h0.7M229.6 418.9h0.7M225.3 428.7h0.7M227.2 431.4h0.7M228.9 418.9h0.7M222.6 419.0h0.7M232.5 426.2h0.7M227.2 413.5h0.7M227.1 419.9h0.7M229.1 420.3h0.7M227.4 413.8h0.7M228.2 427.5h0.7M226.0 425.6h0.7M233.6 422.8h0.7M226.4 427.0h0.7M224.6 423.3h0.7M228.5 426.5h0.7M230.8 421.3h0.7M232.8 424.5h0.7M226.3 417.0h0.7M233.0 418.2h0.7M229.0 420.3h0.7M225.7 414.3h0.7M227.8 420.6h0.7M229.8 418.3h0.7M223.9 417.1h0.7M228.3 422.1h0.7M229.4 419.0h0.7M229.5 421.4h0.7M231.7 420.0h0.7M229.0 423.4h0.7M229.9 416.5h0.7M227.0 420.0h0.7M224.9 427.6h0.7M230.5 420.6h0.7M236.4 425.0h0.7M233.9 426.9h0.7M228.8 414.5h0.7M231.8 422.1h0.7M225.7 421.8h0.7M230.7 424.9h0.7M228.1 418.7h0.7M229.1 417.4h0.7M228.7 424.3h0.7M225.5 423.3h0.7M223.3 417.9h0.7M225.5 421.2h0.7M229.6 420.5h0.7M230.2 421.0h0.7M228.2 423.2h0.7M227.8 421.7h0.7M229.9 418.1h0.7M229.6 415.7h0.7M226.1 413.6h0.7M228.6 428.1h0.7M230.1 426.3h0.7M224.2 417.3h0.7M229.9 424.4h0.7M228.4 413.4h0.7M229.2 420.5h0.7M228.9 423.0h0.7M226.1 413.8h0.7M224.6 415.2h0.7M225.3 421.0h0.7M230.3 417.3h0.7M225.5 416.4h0.7M224.6 422.1h0.7M227.0 420.2h0.7M226.6 423.5h0.7M226.2 423.9h0.7M227.5 424.7h0.7M226.8 423.3h0.7M229.0 420.5h0.7M231.8 421.0h0.7M227.0 424.4h0.7M226.0 419.0h0.7M228.4 421.8h0.7M230.2 412.7h0.7M228.7 426.0h0.7M228.2 422.5h0.7M230.3 415.0h0.7M229.0 424.4h0.7M225.4 413.7h0.7M226.3 422.3h0.7M230.3 428.9h0.7M229.6 413.7h0.7M231.2 424.5h0.7M231.5 419.6h0.7M227.2 421.9h0.7M232.0 423.0h0.7M232.5 423.7h0.7M226.0 416.9h0.7M230.7 413.6h0.7M227.2 419.8h0.7M225.8 418.9h0.7M230.4 431.3h0.7M227.6 418.8h0.7M229.3 425.0h0.7M226.1 419.6h0.7M225.2 424.8h0.7M231.0 427.2h0.7M227.7 431.0h0.7M229.8 419.4h0.7M227.1 419.8h0.7M226.4 424.9h0.7M226.3 418.1h0.7M229.4 421.3h0.7M226.8 420.2h0.7M228.4 427.1h0.7M229.6 417.4h0.7M229.4 427.0h0.7M229.2 428.9h0.7M229.8 423.7h0.7M224.6 425.6h0.7M229.5 423.4h0.7M229.7 423.1h0.7M228.0 425.1h0.7M227.4 416.4h0.7M226.2 422.2h0.7M226.9 411.2h0.7M224.8 426.5h0.7M230.8 433.4h0.7M224.8 420.6h0.7M227.5 423.7h0.7M232.7 427.4h0.7M227.2 426.8h0.7M225.9 422.9h0.7M229.1 423.6h0.7M227.8 427.2h0.7M228.0 420.9h0.7M226.7 416.5h0.7M230.0 422.1h0.7M230.9 428.9h0.7" stroke="#e326e6" stroke-width="0.7" fill="none"/>
<path d="M223.8 417.6h0.6M226.5 423.1h0.6M225.9 423.5h0.6M227.9 410.5h0.6M224.4 409.2h0.6M225.6 417.0h0.6M228.3 419.8h0.6M226.3 425.1h0.6M228.4 413.0h0.6M224.3 420.6h0.6M231.8 418.0h0.6M226.0 420.3h0.6M228.9 418.6h0.6M227.4 417.0h0.6M224.8 415.1h0.6M228.6 416.3h0.6M228.2 421.0h0.6M229.5 406.0h0.6M223.5 413.1h0.6M226.0 422.9h0.6M234.4 426.5h0.6M230.7 420.9h0.6M225.3 421.6h0.6M219.7 423.5h0.6M226.5 422.0h0.6M223.3 413.7h0.6M224.5 418.8h0.6M227.6 417.3h0.6M227.6 422.3h0.6M222.9 418.5h0.6M221.6 416.3h0.6M229.3 415.5h0.6M232.3 421.5h0.6M229.3 419.5h0.6M229.2 424.3h0.6M226.8 416.4h0.6M224.8 428.4h0.6M225.9 416.8h0.6M224.3 410.8h0.6M224.9 420.6h0.6M225.0 415.3h0.6M227.8 421.2h0.6M225.1 420.5h0.6M223.5 423.2h0.6M223.4 417.4h0.6M226.9 417.0h0.6M222.9 429.2h0.6M231.2 410.5h0.6M226.9 412.8h0.6M227.5 412.7h0.6M228.3 421.6h0.6M231.8 424.9h0.6M225.1 423.6h0.6M225.1 418.5h0.6M224.9 410.4h0.6M228.4 409.1h0.6M225.8 421.6h0.6M226.9 411.3h0.6M224.5 422.3h0.6M229.9 426.8h0.6M220.8 421.2h0.6M225.0 422.7h0.6M221.2 418.3h0.6M228.7 415.9h0.6M225.4 414.2h0.6M230.0 412.5h0.6M223.6 417.4h0.6M225.5 429.3h0.6M227.4 414.9h0.6M228.3 420.7h0.6M227.4 418.7h0.6M227.9 413.3h0.6M222.7 416.9h0.6M223.0 422.4h0.6M232.6 425.0h0.6M227.9 420.6h0.6M224.4 412.7h0.6M228.2 411.8h0.6M227.4 418.3h0.6M228.8 419.2h0.6" stroke="#f07cf0" stroke-width="0.6" fill="none"/>
<path d="M231.7 429.2h0.7M227.0 429.6h0.7M233.2 431.9h0.7M234.9 428.6h0.7M229.0 431.4h0.7M230.2 434.5h0.7M232.2 427.7h0.7M230.0 432.8h0.7M226.8 430.5h0.7M227.9 432.9h0.7M230.3 428.5h0.7M227.1 429.0h0.7M224.9 429.4h0.7M236.9 430.4h0.7M230.7 428.3h0.7M232.3 429.4h0.7M229.2 432.5h0.7M232.5 428.7h0.7M235.2 430.1h0.7M232.7 430.4h0.7M234.4 431.2h0.7M230.5 431.4h0.7M230.4 430.4h0.7M235.6 428.4h0.7M228.8 429.5h0.7M230.1 432.4h0.7M227.4 434.0h0.7M235.4 429.5h0.7M231.9 429.6h0.7M233.1 431.3h0.7M233.3 431.5h0.7M236.3 429.9h0.7M233.2 429.9h0.7M231.5 430.6h0.7M231.3 430.8h0.7M229.2 429.9h0.7M229.9 428.3h0.7M229.6 429.4h0.7M231.0 427.6h0.7M230.7 428.3h0.7M229.3 430.5h0.7M234.2 430.7h0.7M230.2 429.5h0.7M234.8 427.5h0.7M234.3 427.7h0.7M229.8 430.3h0.7M230.8 433.0h0.7M232.7 430.1h0.7M233.8 430.3h0.7M229.4 432.1h0.7M235.2 432.3h0.7M228.4 433.4h0.7M230.3 431.5h0.7M234.4 434.1h0.7M227.3 428.5h0.7M234.4 431.0h0.7M230.6 425.3h0.7M232.5 429.9h0.7M224.8 434.6h0.7M225.0 429.3h0.7M231.4 430.6h0.7M233.3 429.8h0.7M229.1 429.6h0.7M226.0 428.3h0.7M236.4 429.1h0.7M231.2 433.4h0.7M234.1 430.4h0.7M233.3 429.8h0.7M229.1 431.9h0.7M231.7 432.9h0.7M230.7 429.6h0.7M232.3 429.9h0.7M230.6 428.7h0.7M232.0 430.7h0.7M236.1 430.2h0.7M226.9 431.0h0.7M237.2 429.5h0.7M229.4 429.9h0.7M224.1 429.6h0.7M230.9 427.7h0.7M232.9 428.7h0.7M226.7 429.0h0.7M233.0 433.4h0.7M234.6 430.5h0.7M230.1 429.8h0.7M233.9 429.3h0.7M232.5 431.8h0.7M229.1 429.2h0.7M232.5 430.2h0.7M231.1 429.3h0.7M231.2 433.3h0.7M234.9 427.5h0.7M231.5 430.4h0.7M231.5 427.9h0.7M231.1 430.4h0.7M229.7 430.7h0.7M225.2 427.7h0.7M231.7 430.8h0.7M231.0 429.4h0.7M231.9 432.0h0.7M233.7 430.1h0.7M230.2 432.0h0.7M232.8 431.7h0.7M230.7 428.8h0.7M231.9 429.2h0.7M234.3 431.6h0.7M225.8 431.3h0.7M234.8 431.9h0.7M230.2 428.8h0.7M233.9 431.9h0.7M231.6 428.3h0.7M227.5 430.6h0.7M229.3 429.1h0.7M232.5 431.9h0.7M226.1 429.1h0.7M234.7 430.1h0.7M230.5 431.3h0.7M228.5 428.2h0.7M231.5 432.8h0.7M234.0 430.2h0.7M234.0 429.5h0.7M228.4 427.4h0.7M232.1 431.7h0.7M232.4 430.1h0.7M230.4 432.0h0.7M231.3 427.8h0.7M234.9 429.1h0.7M232.4 430.2h0.7M234.1 430.6h0.7M234.5 430.6h0.7" stroke="#2030d8" stroke-width="0.7" fill="none"/>
<path d="M229.0 423.5h0.6M231.4 422.6h0.6M232.0 424.3h0.6M228.0 422.4h0.6M229.7 430.2h0.6M231.7 425.1h0.6M228.0 430.6h0.6M229.4 425.0h0.6M229.1 428.9h0.6M230.4 423.7h0.6M230.4 422.1h0.6M227.7 424.5h0.6M223.8 428.5h0.6M234.3 421.7h0.6M229.7 420.4h0.6M230.4 425.6h0.6M231.6 421.1h0.6M228.7 423.1h0.6M229.5 431.7h0.6M229.6 424.9h0.6M228.9 427.3h0.6M235.5 428.4h0.6M233.3 421.8h0.6M232.3 425.1h0.6M232.7 428.1h0.6M231.4 420.1h0.6M230.3 423.5h0.6M231.0 425.1h0.6M232.3 420.3h0.6M228.4 424.8h0.6M230.7 423.8h0.6M229.9 425.2h0.6M232.3 424.7h0.6M230.5 419.7h0.6M224.3 420.7h0.6M230.8 418.2h0.6M230.9 424.7h0.6M230.0 422.9h0.6M229.1 427.4h0.6M230.8 424.9h0.6" stroke="#2030d8" stroke-width="0.6" fill="none"/>
<path d="M208.7 425.2h0.55M223.5 423.9h0.55M209.8 417.1h0.55M213.9 418.6h0.55M200.3 429.1h0.55M207.5 412.0h0.55M206.6 434.9h0.55M212.1 416.2h0.55M203.2 428.2h0.55M216.6 425.3h0.55M211.3 426.9h0.55M226.6 426.9h0.55M211.5 415.8h0.55M216.9 433.2h0.55M218.7 416.6h0.55M214.6 431.7h0.55M207.4 426.9h0.55M223.7 433.6h0.55M198.9 413.7h0.55M216.3 428.1h0.55M209.9 423.9h0.55M209.4 431.1h0.55M201.7 420.0h0.55M199.4 418.6h0.55M212.8 424.2h0.55M228.8 422.7h0.55M216.1 426.1h0.55M215.3 432.7h0.55M214.2 424.9h0.55M212.0 424.0h0.55M212.5 429.9h0.55M213.2 424.4h0.55M212.6 428.5h0.55M208.8 429.5h0.55M207.9 428.1h0.55M230.0 425.4h0.55M212.2 417.0h0.55M219.6 424.1h0.55M221.1 420.1h0.55M217.6 434.7h0.55M216.6 422.1h0.55M201.4 423.9h0.55M218.8 427.5h0.55M203.1 417.9h0.55M204.3 418.0h0.55M210.6 425.6h0.55M230.1 425.2h0.55M225.9 414.2h0.55M226.7 428.7h0.55M216.9 428.9h0.55M218.5 435.3h0.55M220.2 413.7h0.55M197.5 433.5h0.55M212.3 431.8h0.55M210.0 420.1h0.55M210.0 425.9h0.55M214.7 420.3h0.55M217.8 427.7h0.55M204.8 417.4h0.55M213.1 419.9h0.55M207.6 423.2h0.55M213.3 427.4h0.55M220.4 426.6h0.55M222.9 418.3h0.55M218.4 426.2h0.55M203.7 420.0h0.55M216.9 424.4h0.55M201.8 420.7h0.55M226.6 429.0h0.55M213.7 432.0h0.55M204.9 423.0h0.55M221.5 422.0h0.55M203.1 427.5h0.55M227.2 409.0h0.55M214.4 416.6h0.55M210.3 415.6h0.55M236.1 420.0h0.55M213.4 419.8h0.55M204.2 421.3h0.55M214.8 434.4h0.55M215.6 433.3h0.55M203.5 424.4h0.55M209.1 414.7h0.55M246.2 422.6h0.55M215.2 419.5h0.55M207.9 417.9h0.55M222.1 421.6h0.55M211.7 425.1h0.55M202.1 425.4h0.55M211.5 426.6h0.55M209.6 424.2h0.55M217.6 429.7h0.55M206.9 429.8h0.55M204.2 422.9h0.55M214.2 424.9h0.55M211.4 429.5h0.55M206.7 433.0h0.55M217.8 424.1h0.55M215.3 429.5h0.55M205.8 427.5h0.55M222.5 422.6h0.55M205.4 417.7h0.55M216.8 419.2h0.55M235.1 427.4h0.55M201.4 422.3h0.55M226.6 428.0h0.55M203.9 430.1h0.55M208.8 437.1h0.55M208.1 427.5h0.55M218.0 421.4h0.55M211.6 430.9h0.55M217.4 423.6h0.55M217.0 434.4h0.55M221.3 426.8h0.55M215.9 414.7h0.55M214.2 421.1h0.55M219.5 420.4h0.55M217.0 417.8h0.55M221.0 419.7h0.55M212.7 427.4h0.55M210.1 424.0h0.55M222.4 434.5h0.55M219.0 429.6h0.55M208.8 424.6h0.55" stroke="#ee3333" stroke-width="0.55" fill="none" opacity="0.75"/>
<path d="M214.1 437.2h0.55M214.0 420.1h0.55M200.7 419.7h0.55M228.9 424.1h0.55M235.3 429.2h0.55M219.8 429.2h0.55M223.8 430.5h0.55M206.4 423.2h0.55M210.6 426.5h0.55M213.5 419.9h0.55M209.1 434.8h0.55M237.0 421.8h0.55M219.8 425.8h0.55M207.6 429.5h0.55M215.3 434.2h0.55M220.5 424.5h0.55M224.4 422.5h0.55M224.7 429.4h0.55M198.6 425.0h0.55M219.2 429.7h0.55M217.5 425.9h0.55M212.6 424.6h0.55M216.0 420.8h0.55M222.3 424.4h0.55M221.2 423.5h0.55M220.1 426.6h0.55M224.8 428.3h0.55M225.2 425.2h0.55M215.5 424.7h0.55M203.6 425.4h0.55M226.8 429.8h0.55M207.6 427.5h0.55M223.4 419.3h0.55M219.4 427.6h0.55M223.4 427.3h0.55M198.8 416.1h0.55M235.6 424.1h0.55M228.6 432.2h0.55M216.9 420.4h0.55M229.5 425.8h0.55M221.1 428.4h0.55M225.4 431.0h0.55M202.0 419.1h0.55M217.4 426.0h0.55M223.7 425.3h0.55M214.2 436.0h0.55M229.6 431.7h0.55M226.2 422.1h0.55M215.2 425.7h0.55M205.2 421.7h0.55M217.6 420.0h0.55M221.4 428.3h0.55M213.7 424.3h0.55M222.0 428.4h0.55M219.6 420.0h0.55M200.0 436.1h0.55M209.6 424.2h0.55M198.0 422.1h0.55M208.8 429.9h0.55M211.9 423.6h0.55M208.3 423.8h0.55M200.4 427.3h0.55M227.8 426.8h0.55M210.7 432.2h0.55M220.8 420.9h0.55M210.3 423.0h0.55M215.6 432.0h0.55M209.0 425.3h0.55" stroke="#f5a0c8" stroke-width="0.55" fill="none" opacity="0.9"/>
<path d="M197.2 411.4C197.6 408.4 203 406.6 208.5 407C212.5 407.3 215 409 214.8 411.8C214.5 415 209 417 203.5 416.6C199.5 416.3 196.9 414.2 197.2 411.4Z" fill="none" stroke="#222" stroke-width="0.55"/>
<path d="M214.6 409.6C214.8 406 220 404 226 404C231 404 234.6 406.4 234.4 409.6C234.2 412.8 229 414.6 223.5 414.4C218.5 414.2 214.4 412.8 214.6 409.6Z" fill="none" stroke="#222" stroke-width="0.55"/>
<text x="0" y="0" font-size="3" text-anchor="middle" font-weight="normal" fill="#444" transform="translate(203.8,405.8) scale(0.85,1)" stroke="none">iv.</text>
<text x="0" y="0" font-size="3" text-anchor="middle" font-weight="normal" fill="#444" transform="translate(230,403.3) scale(0.85,1)" stroke="none">iii.</text>
<rect x="41.8" y="463.2" width="52.8" height="46.3" fill="none" stroke="#aaa" stroke-width="0.6"/>
<rect x="42" y="463.8" width="51.599999999999994" height="45.5" fill="#fff" stroke="#777" stroke-width="0.7"/>
<line x1="42" y1="466.8" x2="42" y2="509.3" stroke="#111" stroke-width="1.0"/>
<line x1="42" y1="509.3" x2="93.6" y2="509.3" stroke="#111" stroke-width="0.8"/>
<path d="M39.8 468.3H42.0M39.8 478.8H42.0M39.8 489.3H42.0M39.8 501.3H42.0M49.3 509.3V512.3M64.3 509.3V512.3M76.3 509.3V512.3M87.5 509.3V512.3" stroke="#111" stroke-width="0.7" fill="none"/>
<path d="M40.7 471.5H42.0M40.7 473.3H42.0M40.7 474.6H42.0M40.7 475.6H42.0M40.7 476.5H42.0M40.7 477.2H42.0M40.7 477.8H42.0M40.7 478.3H42.0M40.7 482.0H42.0M40.7 483.8H42.0M40.7 485.1H42.0M40.7 486.1H42.0M40.7 487.0H42.0M40.7 487.7H42.0M40.7 488.3H42.0M40.7 488.8H42.0M40.7 492.9H42.0M40.7 495.0H42.0M40.7 496.5H42.0M40.7 497.7H42.0M40.7 498.6H42.0M40.7 499.4H42.0M40.7 500.1H42.0M40.7 500.8H42.0M53.8 509.3V511.3M56.5 509.3V511.3M58.3 509.3V511.3M59.8 509.3V511.3M61.0 509.3V511.3M62.0 509.3V511.3M62.8 509.3V511.3M63.6 509.3V511.3M67.9 509.3V511.3M70.0 509.3V511.3M71.5 509.3V511.3M72.7 509.3V511.3M73.6 509.3V511.3M74.4 509.3V511.3M75.1 509.3V511.3M75.8 509.3V511.3M79.7 509.3V511.3M81.6 509.3V511.3M83.0 509.3V511.3M84.1 509.3V511.3M85.0 509.3V511.3M85.8 509.3V511.3M86.4 509.3V511.3M87.0 509.3V511.3M44.8 509.3V511.7M46.3 509.3V511.7M47.8 509.3V511.7M49.3 509.3V511.7M50.8 509.3V511.7M52.3 509.3V511.7" stroke="#111" stroke-width="0.55" fill="none"/>
<text transform="translate(32.5,469.90000000000003) scale(0.82,1)" font-size="4.7" text-anchor="middle" fill="#222">10<tspan font-size="3" dy="-2">5</tspan></text>
<text transform="translate(32.5,480.40000000000003) scale(0.82,1)" font-size="4.7" text-anchor="middle" fill="#222">10<tspan font-size="3" dy="-2">4</tspan></text>
<text transform="translate(32.5,490.90000000000003) scale(0.82,1)" font-size="4.7" text-anchor="middle" fill="#222">10<tspan font-size="3" dy="-2">3</tspan></text>
<text x="0" y="0" font-size="4.5" text-anchor="middle" font-weight="normal" fill="#222" transform="translate(33.7,502.90000000000003) scale(0.85,1)" stroke="none">0</text>
<text x="0" y="0" font-size="4.5" text-anchor="middle" font-weight="normal" fill="#222" transform="translate(49.3,519.5) scale(0.85,1)" stroke="none">0</text>
<text transform="translate(64.3,519.5) scale(0.82,1)" font-size="4.7" text-anchor="middle" fill="#222">10<tspan font-size="3" dy="-2">3</tspan></text>
<text transform="translate(76.3,519.5) scale(0.82,1)" font-size="4.7" text-anchor="middle" fill="#222">10<tspan font-size="3" dy="-2">4</tspan></text>
<text transform="translate(87.5,519.5) scale(0.82,1)" font-size="4.7" text-anchor="middle" fill="#222">10<tspan font-size="3" dy="-2">5</tspan></text>
<text x="0" y="0" font-size="4.5" text-anchor="middle" font-weight="normal" fill="#222" transform="translate(29.7,511.2) scale(0.85,1)" stroke="none">-428</text>
<text x="0" y="0" font-size="4.5" text-anchor="middle" font-weight="normal" fill="#222" transform="translate(42.5,524.2) scale(0.85,1)" stroke="none">-263</text>
<path d="M37.8 510.90000000000003l1.2 2.6l1.5 -2.6" fill="none" stroke="#4a55e8" stroke-width="0.9"/>
<text x="0" y="0" font-size="7" text-anchor="middle" font-weight="normal" fill="#222" stroke="#222" stroke-width="0.18" transform="translate(25.6,484.2) rotate(-90) scale(0.687,1)">CD10 PE-Cy7-A</text>
<text x="0" y="0" font-size="7" text-anchor="middle" font-weight="normal" fill="#222" stroke="#222" stroke-width="0.18" transform="translate(68.2,528.9) scale(0.661,1)">CD19 APC-A</text>
<path d="M51.4 496.8h0.7M50.2 501.4h0.7M53.5 495.0h0.7M52.7 499.1h0.7M53.9 501.4h0.7M55.3 500.6h0.7M50.4 497.7h0.7M48.2 501.2h0.7M52.3 501.9h0.7M51.9 496.0h0.7M50.4 499.2h0.7M51.5 501.8h0.7M54.1 500.5h0.7M46.9 497.2h0.7M46.8 497.8h0.7M48.7 500.4h0.7M50.7 502.6h0.7M53.4 498.6h0.7M53.2 499.8h0.7M52.1 503.2h0.7M48.8 499.6h0.7M54.4 497.9h0.7M51.6 500.1h0.7M50.3 496.5h0.7M49.8 497.3h0.7M53.4 500.4h0.7M52.7 496.8h0.7M52.2 500.2h0.7M53.4 498.0h0.7M52.9 503.3h0.7M54.9 497.4h0.7M48.9 496.1h0.7M53.2 501.3h0.7M51.9 497.6h0.7M53.8 503.9h0.7M51.1 499.5h0.7M53.7 501.1h0.7M54.0 498.8h0.7M51.9 498.9h0.7M50.0 499.0h0.7M50.6 501.1h0.7M50.6 500.0h0.7M49.5 496.7h0.7M54.2 497.3h0.7M55.0 502.2h0.7M46.5 498.2h0.7M50.3 499.9h0.7M50.8 498.3h0.7M53.8 499.5h0.7M53.2 498.1h0.7M49.8 503.2h0.7M50.6 497.0h0.7M50.8 502.5h0.7M50.9 498.0h0.7M52.5 502.3h0.7M50.8 499.0h0.7M50.4 506.7h0.7M50.8 504.2h0.7M50.9 500.8h0.7M47.0 500.3h0.7M51.3 499.0h0.7M50.4 496.3h0.7M48.1 500.2h0.7M49.9 499.6h0.7M50.8 498.5h0.7M49.7 504.5h0.7M48.9 498.5h0.7M50.6 496.9h0.7M49.2 502.0h0.7M53.1 500.1h0.7M57.9 501.9h0.7M53.8 497.7h0.7M53.5 504.1h0.7M50.4 504.4h0.7M49.5 496.9h0.7M51.1 497.8h0.7M52.5 497.0h0.7M51.4 494.8h0.7M51.1 502.5h0.7M50.7 500.6h0.7M53.5 497.0h0.7M48.6 500.0h0.7M51.8 499.1h0.7M49.2 502.9h0.7M48.8 499.1h0.7M51.1 501.6h0.7M50.3 497.7h0.7M55.4 497.7h0.7M52.9 499.4h0.7M50.2 499.7h0.7M50.7 500.6h0.7M45.9 499.7h0.7M51.4 497.3h0.7M50.4 505.7h0.7M55.0 501.4h0.7M51.7 499.0h0.7M54.1 498.7h0.7M49.5 501.6h0.7M49.2 497.8h0.7M54.2 495.7h0.7M51.1 500.1h0.7M51.7 496.1h0.7M50.7 499.0h0.7M55.2 502.4h0.7M49.6 502.0h0.7M52.6 499.5h0.7M50.7 499.1h0.7M48.0 498.2h0.7M53.1 503.5h0.7M55.1 498.8h0.7M52.5 493.7h0.7M50.7 496.6h0.7M52.9 495.6h0.7M49.0 497.0h0.7M52.0 501.9h0.7M49.3 504.4h0.7M51.5 497.7h0.7M51.9 499.8h0.7M52.9 500.7h0.7M55.7 502.8h0.7M49.9 501.8h0.7M52.8 497.3h0.7M49.7 497.8h0.7M46.1 501.4h0.7M50.8 502.9h0.7M50.1 500.0h0.7M52.7 502.3h0.7M51.9 497.2h0.7M55.8 502.0h0.7M54.0 503.9h0.7M54.1 500.9h0.7M52.2 501.4h0.7M48.1 501.9h0.7M49.2 500.9h0.7M49.1 501.6h0.7M50.2 506.1h0.7M51.6 501.1h0.7M49.3 499.1h0.7M51.1 499.1h0.7M50.3 497.6h0.7M52.8 498.8h0.7M49.5 500.7h0.7M49.5 499.4h0.7M50.2 497.5h0.7M50.7 497.7h0.7M48.6 500.7h0.7M50.6 496.1h0.7M50.4 500.3h0.7M52.1 500.7h0.7M51.7 501.3h0.7M50.2 497.8h0.7M52.5 498.8h0.7M51.2 501.5h0.7M53.2 502.9h0.7M49.8 498.9h0.7M52.4 496.2h0.7M48.6 501.3h0.7M49.9 497.5h0.7M52.9 501.1h0.7M53.1 499.0h0.7M50.6 498.9h0.7M51.8 494.7h0.7M49.8 501.6h0.7M49.6 499.6h0.7M51.5 501.1h0.7M50.2 496.9h0.7M56.4 498.0h0.7M54.8 495.4h0.7M51.4 499.3h0.7M55.1 505.0h0.7M53.2 497.2h0.7M49.6 497.9h0.7M50.2 500.5h0.7M49.6 499.2h0.7M54.3 503.4h0.7M47.4 497.4h0.7M50.4 503.1h0.7M50.5 504.6h0.7M52.0 503.4h0.7M49.4 499.0h0.7M53.3 501.2h0.7M47.4 499.1h0.7M51.6 501.4h0.7M49.9 504.2h0.7M51.5 503.5h0.7M52.1 500.0h0.7M50.6 496.9h0.7M53.0 501.7h0.7M53.1 498.9h0.7M49.1 498.8h0.7M50.6 499.8h0.7M53.2 497.5h0.7M50.2 501.5h0.7M53.1 505.4h0.7M52.3 497.7h0.7M49.1 497.8h0.7M51.4 500.4h0.7M51.1 498.3h0.7M50.8 499.6h0.7M52.4 500.0h0.7M49.6 496.9h0.7M54.3 499.6h0.7M50.9 499.7h0.7M53.5 499.0h0.7M51.6 499.2h0.7M52.4 497.3h0.7M51.6 502.4h0.7M53.7 501.4h0.7M51.8 503.8h0.7M52.7 503.3h0.7M48.8 497.0h0.7M52.9 499.1h0.7M50.3 497.4h0.7M54.3 496.8h0.7M51.4 496.3h0.7M50.9 505.5h0.7M56.2 498.6h0.7M49.1 503.9h0.7M49.5 495.3h0.7M51.9 497.1h0.7M48.2 502.6h0.7M49.7 497.1h0.7M51.6 499.3h0.7M53.5 500.0h0.7M54.5 502.7h0.7M54.9 502.6h0.7M51.4 501.2h0.7M51.3 495.9h0.7M48.8 501.7h0.7M46.4 497.7h0.7M48.6 499.6h0.7M49.1 500.4h0.7M50.8 498.6h0.7M49.5 494.2h0.7M51.4 496.6h0.7M50.6 500.7h0.7M53.4 501.6h0.7M54.3 496.2h0.7M52.6 503.8h0.7M52.0 497.0h0.7M52.0 498.5h0.7M49.9 502.5h0.7M50.9 497.0h0.7M49.8 504.7h0.7M49.5 501.5h0.7M51.6 502.7h0.7M50.7 497.4h0.7M49.9 497.2h0.7M56.6 500.3h0.7M50.6 503.0h0.7M52.6 499.3h0.7M52.5 500.5h0.7M53.5 504.0h0.7M50.6 499.7h0.7M50.9 502.9h0.7M52.0 501.8h0.7M53.1 498.2h0.7M51.5 503.3h0.7M53.1 501.8h0.7M50.7 498.9h0.7M49.5 499.1h0.7M51.1 496.2h0.7M53.6 497.9h0.7M51.7 501.3h0.7M50.1 495.3h0.7M53.2 500.8h0.7M50.7 502.7h0.7M53.1 497.4h0.7M51.1 495.4h0.7M50.7 503.4h0.7M49.5 501.9h0.7M48.1 499.1h0.7M53.2 504.1h0.7M52.2 501.7h0.7M54.8 493.7h0.7M47.7 504.6h0.7M56.3 501.3h0.7M51.4 500.5h0.7M51.3 498.3h0.7M51.2 499.5h0.7M52.6 501.5h0.7M53.2 501.3h0.7M49.2 503.3h0.7M45.8 500.1h0.7M51.9 498.5h0.7M55.1 497.1h0.7M48.8 498.5h0.7M52.1 501.8h0.7M51.5 501.5h0.7M49.8 498.3h0.7M51.5 496.4h0.7M51.6 498.8h0.7M52.6 497.3h0.7M50.2 498.4h0.7M50.5 497.3h0.7M50.7 496.4h0.7M52.3 501.5h0.7M51.2 499.3h0.7M49.4 497.4h0.7M50.8 497.5h0.7M48.8 500.2h0.7M51.2 498.8h0.7M49.6 499.7h0.7M49.8 498.7h0.7M51.6 501.6h0.7M52.8 498.3h0.7M53.7 496.9h0.7M50.9 503.1h0.7M56.1 500.1h0.7M50.5 498.9h0.7M48.8 499.4h0.7M50.4 497.9h0.7M53.7 497.9h0.7M54.7 501.9h0.7M52.5 498.3h0.7M50.2 494.8h0.7M51.8 499.1h0.7M52.0 498.1h0.7M52.2 496.0h0.7M46.8 501.0h0.7M53.4 491.9h0.7M53.8 498.9h0.7M50.9 495.9h0.7M49.2 501.6h0.7M49.7 499.7h0.7M50.9 504.8h0.7M53.0 496.5h0.7M50.3 496.9h0.7M48.4 498.1h0.7M53.5 499.9h0.7M52.6 499.5h0.7M50.4 500.0h0.7M51.1 504.6h0.7M54.9 500.8h0.7M52.5 494.8h0.7M51.0 505.8h0.7M49.6 501.9h0.7M53.7 498.8h0.7M50.8 498.7h0.7M52.8 499.9h0.7M54.3 502.8h0.7M51.2 506.3h0.7M50.6 498.3h0.7M50.8 497.6h0.7M50.4 499.6h0.7M53.0 495.8h0.7M48.4 497.9h0.7M50.6 500.9h0.7M49.6 503.6h0.7M50.2 499.3h0.7M51.3 502.7h0.7M51.8 499.9h0.7M50.1 500.2h0.7M52.0 498.9h0.7M51.2 495.2h0.7M50.2 502.8h0.7M54.1 499.6h0.7M46.8 504.4h0.7M50.9 506.3h0.7M50.4 502.3h0.7M50.0 503.3h0.7M53.6 497.1h0.7M53.8 507.0h0.7M50.8 496.8h0.7M51.8 498.8h0.7M48.2 497.2h0.7M51.7 496.0h0.7M53.4 500.9h0.7M50.9 503.3h0.7M49.4 501.5h0.7M48.5 499.0h0.7M52.5 498.5h0.7M51.0 501.4h0.7M54.3 503.1h0.7M52.2 499.1h0.7M48.3 504.1h0.7M55.0 494.4h0.7M53.0 499.7h0.7M52.7 500.6h0.7M50.8 499.8h0.7" stroke="#e326e6" stroke-width="0.7" fill="none"/>
<path d="M52.4 499.9h0.6M51.7 488.3h0.6M54.5 496.4h0.6M53.9 493.9h0.6M57.1 499.6h0.6M53.2 490.6h0.6M54.6 479.3h0.6M50.9 487.2h0.6M53.1 489.4h0.6M60.1 497.0h0.6M53.8 507.3h0.6M52.5 489.8h0.6M56.3 497.6h0.6M55.4 500.2h0.6M51.4 487.5h0.6M50.3 492.7h0.6M55.6 484.9h0.6M50.9 482.9h0.6M58.7 497.4h0.6M53.2 483.7h0.6M49.4 487.6h0.6M52.6 483.4h0.6M51.8 500.3h0.6M52.6 492.7h0.6M46.1 490.2h0.6M52.1 487.3h0.6M48.3 491.5h0.6M49.4 488.3h0.6M47.6 491.4h0.6M55.3 486.3h0.6M53.5 481.7h0.6M54.3 495.7h0.6M51.3 498.0h0.6M49.8 492.3h0.6M57.7 491.8h0.6M49.1 499.9h0.6M54.2 490.1h0.6M46.9 479.2h0.6M47.9 502.1h0.6M53.4 486.2h0.6M56.1 502.0h0.6M49.9 495.3h0.6M47.5 494.5h0.6M58.1 482.4h0.6M52.7 487.7h0.6M52.2 492.6h0.6M53.4 498.1h0.6M54.1 499.1h0.6M55.6 499.5h0.6M50.5 494.8h0.6M51.4 486.3h0.6M58.5 494.0h0.6M52.7 477.6h0.6M51.8 497.3h0.6M51.9 488.3h0.6M57.1 489.9h0.6M51.5 491.3h0.6M51.8 499.2h0.6M54.3 491.5h0.6M51.4 490.5h0.6M57.7 489.9h0.6M54.5 481.2h0.6M53.5 496.7h0.6M56.4 494.2h0.6M54.3 494.2h0.6M55.8 506.0h0.6M53.1 486.4h0.6M54.4 491.2h0.6M54.5 497.3h0.6M53.0 489.0h0.6" stroke="#e326e6" stroke-width="0.6" fill="none" opacity="0.7"/>
<ellipse cx="51" cy="500.2" rx="2.6" ry="3" fill="#e326e6" filter="url(#bl)"/>
<rect x="64.5" y="465.8" width="26" height="42.5" fill="none" stroke="#222" stroke-width="0.6"/>
<text x="0" y="0" font-size="3.9" text-anchor="start" font-weight="normal" fill="#444" transform="translate(66.4,476.2) scale(1.153,1)" stroke="none">19 gate</text>
<rect x="119.4" y="463.5" width="50.0" height="45.80000000000001" fill="#fff" stroke="#777" stroke-width="0.7"/>
<line x1="119.4" y1="466.5" x2="119.4" y2="509.3" stroke="#111" stroke-width="1.0"/>
<line x1="119.4" y1="509.3" x2="169.4" y2="509.3" stroke="#111" stroke-width="0.8"/>
<path d="M117.2 468.4H119.4M117.2 478.6H119.4M117.2 488.4H119.4M117.2 498.2H119.4M117.2 504.4H119.4M126.0 509.3V512.3M140.7 509.3V512.3M152.8 509.3V512.3M164.5 509.3V512.3" stroke="#111" stroke-width="0.7" fill="none"/>
<path d="M118.1 471.5H119.4M118.1 473.3H119.4M118.1 474.5H119.4M118.1 475.5H119.4M118.1 476.3H119.4M118.1 477.0H119.4M118.1 477.6H119.4M118.1 478.1H119.4M118.1 481.6H119.4M118.1 483.3H119.4M118.1 484.5H119.4M118.1 485.4H119.4M118.1 486.2H119.4M118.1 486.9H119.4M118.1 487.5H119.4M118.1 488.0H119.4M118.1 491.4H119.4M118.1 493.1H119.4M118.1 494.3H119.4M118.1 495.2H119.4M118.1 496.0H119.4M118.1 496.7H119.4M118.1 497.3H119.4M118.1 497.8H119.4M118.1 500.1H119.4M118.1 501.2H119.4M118.1 501.9H119.4M118.1 502.5H119.4M118.1 503.0H119.4M118.1 503.4H119.4M118.1 503.8H119.4M118.1 504.1H119.4M130.4 509.3V511.3M133.0 509.3V511.3M134.9 509.3V511.3M136.3 509.3V511.3M137.4 509.3V511.3M138.4 509.3V511.3M139.3 509.3V511.3M140.0 509.3V511.3M144.3 509.3V511.3M146.5 509.3V511.3M148.0 509.3V511.3M149.2 509.3V511.3M150.1 509.3V511.3M150.9 509.3V511.3M151.6 509.3V511.3M152.2 509.3V511.3M156.3 509.3V511.3M158.4 509.3V511.3M159.8 509.3V511.3M161.0 509.3V511.3M161.9 509.3V511.3M162.7 509.3V511.3M163.4 509.3V511.3M164.0 509.3V511.3M121.5 509.3V511.7M123.0 509.3V511.7M124.5 509.3V511.7M126.0 509.3V511.7M127.5 509.3V511.7M129.0 509.3V511.7" stroke="#111" stroke-width="0.55" fill="none"/>
<text transform="translate(110.3,470.0) scale(0.82,1)" font-size="4.7" text-anchor="middle" fill="#222">10<tspan font-size="3" dy="-2">5</tspan></text>
<text transform="translate(110.3,480.20000000000005) scale(0.82,1)" font-size="4.7" text-anchor="middle" fill="#222">10<tspan font-size="3" dy="-2">4</tspan></text>
<text transform="translate(110.3,490.0) scale(0.82,1)" font-size="4.7" text-anchor="middle" fill="#222">10<tspan font-size="3" dy="-2">3</tspan></text>
<text transform="translate(110.3,499.8) scale(0.82,1)" font-size="4.7" text-anchor="middle" fill="#222">10<tspan font-size="3" dy="-2">2</tspan></text>
<text x="0" y="0" font-size="4.5" text-anchor="middle" font-weight="normal" fill="#222" transform="translate(111.5,506.0) scale(0.85,1)" stroke="none">0</text>
<text x="0" y="0" font-size="4.5" text-anchor="middle" font-weight="normal" fill="#222" transform="translate(126,519.5) scale(0.85,1)" stroke="none">0</text>
<text transform="translate(140.7,519.5) scale(0.82,1)" font-size="4.7" text-anchor="middle" fill="#222">10<tspan font-size="3" dy="-2">3</tspan></text>
<text transform="translate(152.8,519.5) scale(0.82,1)" font-size="4.7" text-anchor="middle" fill="#222">10<tspan font-size="3" dy="-2">4</tspan></text>
<text transform="translate(164.5,519.5) scale(0.82,1)" font-size="4.7" text-anchor="middle" fill="#222">10<tspan font-size="3" dy="-2">5</tspan></text>
<text x="0" y="0" font-size="4.5" text-anchor="middle" font-weight="normal" fill="#222" transform="translate(106.0,512.2) scale(0.85,1)" stroke="none">-58</text>
<text x="0" y="0" font-size="4.5" text-anchor="middle" font-weight="normal" fill="#222" transform="translate(118.8,524.2) scale(0.85,1)" stroke="none">-299</text>
<path d="M115.2 510.90000000000003l1.2 2.6l1.5 -2.6" fill="none" stroke="#4a55e8" stroke-width="0.9"/>
<text x="0" y="0" font-size="7" text-anchor="middle" font-weight="normal" fill="#222" stroke="#222" stroke-width="0.18" transform="translate(101.6,484.2) rotate(-90) scale(0.718,1)">CD45 V450-A</text>
<text x="0" y="0" font-size="7" text-anchor="middle" font-weight="normal" fill="#222" stroke="#222" stroke-width="0.18" transform="translate(143.3,528.9) scale(0.653,1)">CD34 PerCP-A</text>
<path d="M138.8 483.4h0.5M138.6 484.4h0.5M139.6 487.4h0.5M135.8 483.5h0.5M137.3 485.0h0.5M136.2 489.0h0.5" stroke="#f5a0c8" stroke-width="0.5" fill="none" opacity="0.6"/>
<rect x="195.6" y="463.5" width="52.0" height="45.80000000000001" fill="#fff" stroke="#777" stroke-width="0.7"/>
<line x1="195.6" y1="466.5" x2="195.6" y2="509.3" stroke="#111" stroke-width="1.0"/>
<line x1="195.6" y1="509.3" x2="247.6" y2="509.3" stroke="#111" stroke-width="0.8"/>
<path d="M193.4 469.4H195.6M193.4 479.2H195.6M193.4 489.7H195.6M193.4 502.8H195.6M204.4 509.3V512.3M218.5 509.3V512.3M230.6 509.3V512.3M242.0 509.3V512.3" stroke="#111" stroke-width="0.7" fill="none"/>
<path d="M194.3 472.4H195.6M194.3 474.1H195.6M194.3 475.3H195.6M194.3 476.2H195.6M194.3 477.0H195.6M194.3 477.7H195.6M194.3 478.3H195.6M194.3 478.8H195.6M194.3 482.4H195.6M194.3 484.2H195.6M194.3 485.5H195.6M194.3 486.5H195.6M194.3 487.4H195.6M194.3 488.1H195.6M194.3 488.7H195.6M194.3 489.2H195.6M194.3 493.6H195.6M194.3 496.0H195.6M194.3 497.6H195.6M194.3 498.9H195.6M194.3 499.9H195.6M194.3 500.8H195.6M194.3 501.5H195.6M194.3 502.2H195.6M208.6 509.3V511.3M211.1 509.3V511.3M212.9 509.3V511.3M214.3 509.3V511.3M215.4 509.3V511.3M216.3 509.3V511.3M217.1 509.3V511.3M217.9 509.3V511.3M222.1 509.3V511.3M224.3 509.3V511.3M225.8 509.3V511.3M227.0 509.3V511.3M227.9 509.3V511.3M228.7 509.3V511.3M229.4 509.3V511.3M230.0 509.3V511.3M234.0 509.3V511.3M236.0 509.3V511.3M237.5 509.3V511.3M238.6 509.3V511.3M239.5 509.3V511.3M240.2 509.3V511.3M240.9 509.3V511.3M241.5 509.3V511.3M199.9 509.3V511.7M201.4 509.3V511.7M202.9 509.3V511.7M204.4 509.3V511.7M205.9 509.3V511.7M207.4 509.3V511.7" stroke="#111" stroke-width="0.55" fill="none"/>
<text transform="translate(187,471.0) scale(0.82,1)" font-size="4.7" text-anchor="middle" fill="#222">10<tspan font-size="3" dy="-2">5</tspan></text>
<text transform="translate(187,480.8) scale(0.82,1)" font-size="4.7" text-anchor="middle" fill="#222">10<tspan font-size="3" dy="-2">4</tspan></text>
<text transform="translate(187,491.3) scale(0.82,1)" font-size="4.7" text-anchor="middle" fill="#222">10<tspan font-size="3" dy="-2">3</tspan></text>
<text x="0" y="0" font-size="4.5" text-anchor="middle" font-weight="normal" fill="#222" transform="translate(188.2,504.40000000000003) scale(0.85,1)" stroke="none">0</text>
<text x="0" y="0" font-size="4.5" text-anchor="middle" font-weight="normal" fill="#222" transform="translate(204.4,519.5) scale(0.85,1)" stroke="none">0</text>
<text transform="translate(218.5,519.5) scale(0.82,1)" font-size="4.7" text-anchor="middle" fill="#222">10<tspan font-size="3" dy="-2">3</tspan></text>
<text transform="translate(230.6,519.5) scale(0.82,1)" font-size="4.7" text-anchor="middle" fill="#222">10<tspan font-size="3" dy="-2">4</tspan></text>
<text transform="translate(242,519.5) scale(0.82,1)" font-size="4.7" text-anchor="middle" fill="#222">10<tspan font-size="3" dy="-2">5</tspan></text>
<text x="0" y="0" font-size="4.5" text-anchor="middle" font-weight="normal" fill="#222" transform="translate(185.39999999999998,511.4) scale(0.85,1)" stroke="none">-191</text>
<text x="0" y="0" font-size="4.5" text-anchor="middle" font-weight="normal" fill="#222" transform="translate(195.8,524.2) scale(0.85,1)" stroke="none">-428</text>
<path d="M191.4 510.90000000000003l1.2 2.6l1.5 -2.6" fill="none" stroke="#4a55e8" stroke-width="0.9"/>
<text x="0" y="0" font-size="7" text-anchor="middle" font-weight="normal" fill="#222" stroke="#222" stroke-width="0.18" transform="translate(178.4,484.6) rotate(-90) scale(0.691,1)">CD20 APC-H7-A</text>
<text x="0" y="0" font-size="7" text-anchor="middle" font-weight="normal" fill="#222" stroke="#222" stroke-width="0.18" transform="translate(221.4,528.9) scale(0.657,1)">CD10 PE-Cy7-A</text>
<path d="M222.4 496.2h0.5M222.2 504.0h0.5M223.7 500.8h0.5M214.4 505.1h0.5M212.6 495.5h0.5" stroke="#f5a0c8" stroke-width="0.5" fill="none" opacity="0.6"/>
<text x="263.4" y="371.4" font-size="12.3" text-anchor="start" font-weight="bold" fill="#000" stroke="#000" stroke-width="0.3">H</text>
<path d="M263.20 415.00C263.00 411.88 263.64 410.32 265.40 408.00C267.16 405.68 269.08 404.36 272.00 403.40C274.92 402.44 277.12 402.40 280.00 403.20C282.88 404.00 284.68 405.16 286.40 407.40C288.12 409.64 288.52 411.48 288.60 414.40C288.68 417.32 288.32 419.48 286.80 422.00C285.28 424.52 283.76 425.88 281.00 427.00C278.24 428.12 275.92 428.28 273.00 427.60C270.08 426.92 268.36 426.12 266.40 423.60C264.44 421.08 263.40 418.12 263.20 415.00Z" fill="#8ea6dd" stroke="#27355f" stroke-width="0.6" stroke-linejoin="round"/>
<path d="M266.00 415.00C266.00 412.64 266.52 411.40 268.00 409.60C269.48 407.80 271.08 406.72 273.40 406.00C275.72 405.28 277.40 405.28 279.60 406.00C281.80 406.72 283.12 407.80 284.40 409.60C285.68 411.40 286.00 412.72 286.00 415.00C286.00 417.28 285.68 419.08 284.40 421.00C283.12 422.92 281.80 423.80 279.60 424.60C277.40 425.40 275.72 425.64 273.40 425.00C271.08 424.36 269.48 423.40 268.00 421.40C266.52 419.40 266.00 417.36 266.00 415.00Z" fill="#aabdea" stroke="none" stroke-width="0.5" stroke-linejoin="round"/>
<path d="M269.40 416.40C269.36 414.42 269.57 413.23 270.80 411.60C272.03 409.97 272.67 409.92 275.00 409.00C277.33 408.08 279.60 406.65 281.40 407.40C283.20 408.15 282.80 410.07 283.20 412.40C283.60 414.73 283.90 415.89 283.20 418.00C282.50 420.11 281.80 420.94 280.00 422.00C278.20 423.06 276.98 423.11 275.00 422.80C273.02 422.49 272.23 422.01 271.00 420.60C269.77 419.19 269.44 418.38 269.40 416.40Z" fill="#e7979b" stroke="#d0686f" stroke-width="0.5" stroke-linejoin="round"/>
<line x1="288.8" y1="411.2" x2="297.4" y2="411.2" stroke="#2a2a2a" stroke-width="1.05"/>
<path d="M300.20 411.20L297.40 412.38L297.40 410.02Z" fill="#2a2a2a"/>
<path d="M302.00 414.00C302.20 411.04 303.28 409.40 305.40 407.60C307.52 405.80 309.76 405.00 312.60 405.00C315.44 405.00 317.48 405.72 319.60 407.60C321.72 409.48 322.80 411.52 323.20 414.40C323.60 417.28 322.92 419.40 321.60 422.00C320.28 424.60 319.00 426.16 316.60 427.40C314.20 428.64 312.04 429.20 309.60 428.20C307.16 427.20 305.92 425.24 304.40 422.40C302.88 419.56 301.80 416.96 302.00 414.00Z" fill="#4a69a9" stroke="#27355f" stroke-width="0.6" stroke-linejoin="round"/>
<path d="M304.60 414.40C304.88 412.16 305.76 410.76 307.40 409.40C309.04 408.04 310.64 407.56 312.80 407.60C314.96 407.64 316.60 408.16 318.20 409.60C319.80 411.04 320.52 412.60 320.80 414.80C321.08 417.00 320.64 418.64 319.60 420.60C318.56 422.56 317.52 423.72 315.60 424.60C313.68 425.48 311.92 425.80 310.00 425.00C308.08 424.20 307.08 422.72 306.00 420.60C304.92 418.48 304.32 416.64 304.60 414.40Z" fill="#6e8ecb" stroke="none" stroke-width="0.5" stroke-linejoin="round"/>
<path d="M306.30 415.60C306.22 413.84 306.66 412.56 308.00 411.40C309.34 410.24 311.00 409.80 313.00 409.80C315.00 409.80 316.68 410.16 318.00 411.40C319.32 412.64 319.72 414.16 319.60 416.00C319.48 417.84 318.80 419.28 317.40 420.60C316.00 421.92 314.40 422.68 312.60 422.60C310.80 422.52 309.66 421.60 308.40 420.20C307.14 418.80 306.38 417.36 306.30 415.60Z" fill="#9b1b25" stroke="#7d1019" stroke-width="0.4" stroke-linejoin="round"/>
<line x1="323.8" y1="406.8" x2="329.4" y2="397.96" stroke="#2a2a2a" stroke-width="0.8"/>
<path d="M330.90 395.60L330.39 398.59L328.41 397.34Z" fill="#2a2a2a"/>
<text x="0" y="0" font-size="5.9" text-anchor="start" font-weight="normal" fill="#2a2a2a" transform="translate(330,392.6) scale(0.935,1)" stroke="none">T lineage</text>
<line x1="324.6" y1="411.2" x2="333.8" y2="411.2" stroke="#2a2a2a" stroke-width="1.05"/>
<path d="M336.60 411.20L333.80 412.38L333.80 410.02Z" fill="#2a2a2a"/>
<text x="0" y="0" font-size="8.8" text-anchor="middle" font-weight="bold" fill="#e8131b" transform="translate(330.6,414.4) scale(0.98,1)" stroke="#e8131b" stroke-width="0.35">X</text>
<path d="M337.60 417.00C337.80 414.60 338.00 412.64 340.00 410.60C342.00 408.56 344.68 407.08 347.60 406.80C350.52 406.52 352.48 407.44 354.60 409.20C356.72 410.96 357.84 412.96 358.20 415.60C358.56 418.24 357.92 420.08 356.40 422.40C354.88 424.72 353.16 426.32 350.60 427.20C348.04 428.08 345.92 427.72 343.60 426.80C341.28 425.88 340.20 424.56 339.00 422.60C337.80 420.64 337.40 419.40 337.60 417.00Z" fill="#5a7fd8" stroke="#27355f" stroke-width="0.6" stroke-linejoin="round"/>
<path d="M341.20 416.60C341.00 414.40 341.52 413.04 343.00 411.60C344.48 410.16 346.48 409.40 348.60 409.40C350.72 409.40 352.32 410.16 353.60 411.60C354.88 413.04 355.04 414.60 355.00 416.60C354.96 418.60 354.64 420.08 353.40 421.60C352.16 423.12 350.68 424.00 348.80 424.20C346.92 424.40 345.52 424.12 344.00 422.60C342.48 421.08 341.40 418.80 341.20 416.60Z" fill="#dfc6f6" stroke="#b9a0dc" stroke-width="0.4" stroke-linejoin="round"/>
<line x1="358.8" y1="411.2" x2="367.4" y2="411.2" stroke="#2a2a2a" stroke-width="1.05"/>
<path d="M370.20 411.20L367.40 412.38L367.40 410.02Z" fill="#2a2a2a"/>
<path d="M372.40 416.00C372.10 412.72 372.78 411.16 374.50 409.00C376.22 406.84 378.20 405.88 381.00 405.20C383.80 404.52 386.10 404.72 388.50 405.60C390.90 406.48 392.18 407.32 393.00 409.60C393.82 411.88 393.28 414.12 392.60 417.00C391.92 419.88 391.52 421.92 389.60 424.00C387.68 426.08 385.72 427.12 383.00 427.40C380.28 427.68 378.12 427.68 376.00 425.40C373.88 423.12 372.70 419.28 372.40 416.00Z" fill="#4b6fc4" stroke="#27355f" stroke-width="0.6" stroke-linejoin="round"/>
<path d="M375.20 414.50C375.32 412.26 375.64 410.34 377.40 408.80C379.16 407.26 381.44 406.84 384.00 406.80C386.56 406.76 388.80 406.96 390.20 408.60C391.60 410.24 391.32 412.56 391.00 415.00C390.68 417.44 390.40 419.32 388.60 420.80C386.80 422.28 384.36 422.56 382.00 422.40C379.64 422.24 378.16 421.58 376.80 420.00C375.44 418.42 375.08 416.74 375.20 414.50Z" fill="#f2cbf9" stroke="#d2b0e6" stroke-width="0.4" stroke-linejoin="round"/>
<line x1="391.6" y1="408.6" x2="395.8" y2="404.5" stroke="#62ad5a" stroke-width="2.1"/>
<line x1="395.8" y1="404.5" x2="395.2" y2="397.2" stroke="#62ad5a" stroke-width="2.0"/>
<line x1="395.56" y1="401.58" x2="395.2" y2="397.2" stroke="#b5121f" stroke-width="2.1"/>
<line x1="395.8" y1="404.5" x2="403.8" y2="405" stroke="#62ad5a" stroke-width="2.0"/>
<line x1="399.0" y1="404.7" x2="403.8" y2="405" stroke="#b5121f" stroke-width="2.1"/>
<line x1="402.2" y1="404.9" x2="403.9" y2="405" stroke="#e9b13a" stroke-width="2.1"/>
<text x="0" y="0" font-size="5.5" text-anchor="start" font-weight="normal" fill="#2a2a2a" transform="translate(400,397.2) scale(0.922,1)" stroke="none">Pre BCR</text>
<line x1="403.2" y1="410.8" x2="411.2" y2="410.8" stroke="#2a2a2a" stroke-width="1.05"/>
<path d="M414.00 410.80L411.20 411.98L411.20 409.62Z" fill="#2a2a2a"/>
<path d="M419.00 416.50C418.48 413.22 419.12 411.54 421.40 409.20C423.68 406.86 427.28 404.96 430.40 404.80C433.52 404.64 434.84 406.44 437.00 408.40C439.16 410.36 440.80 411.96 441.20 414.60C441.60 417.24 440.84 419.08 439.00 421.60C437.16 424.12 435.00 426.40 432.00 427.20C429.00 428.00 426.60 427.74 424.00 425.60C421.40 423.46 419.52 419.78 419.00 416.50Z" fill="#4b6fc4" stroke="#27355f" stroke-width="0.6" stroke-linejoin="round"/>
<path d="M421.30 416.20C421.34 413.88 422.62 411.92 424.60 410.00C426.58 408.08 428.84 406.52 431.20 406.60C433.56 406.68 434.68 408.72 436.40 410.40C438.12 412.08 439.80 412.88 439.80 415.00C439.80 417.12 438.24 419.00 436.40 421.00C434.56 423.00 433.00 424.88 430.60 425.00C428.20 425.12 426.26 423.36 424.40 421.60C422.54 419.84 421.26 418.52 421.30 416.20Z" fill="#f2cbf9" stroke="#d2b0e6" stroke-width="0.4" stroke-linejoin="round"/>
<line x1="430.7" y1="405.2" x2="430.7" y2="398.6" stroke="#62ad5a" stroke-width="2.2"/>
<line x1="430.7" y1="398.6" x2="425.3" y2="392.8" stroke="#62ad5a" stroke-width="2.1"/>
<line x1="427.73" y1="395.41" x2="425.3" y2="392.8" stroke="#e9a63a" stroke-width="2.2"/>
<line x1="430.7" y1="398.6" x2="435.7" y2="392.8" stroke="#62ad5a" stroke-width="2.1"/>
<line x1="433.45" y1="395.41" x2="435.7" y2="392.8" stroke="#e9a63a" stroke-width="2.2"/>
<text x="0" y="0" font-size="5.5" text-anchor="start" font-weight="normal" fill="#2a2a2a" transform="translate(436.2,402.3) scale(0.878,1)" stroke="none">BCR</text>
<line x1="445.6" y1="410.8" x2="454.4" y2="410.8" stroke="#2a2a2a" stroke-width="1.05"/>
<path d="M457.20 410.80L454.40 411.98L454.40 409.62Z" fill="#2a2a2a"/>
<path d="M464.60 416.50C464.72 413.62 465.40 411.92 467.60 409.60C469.80 407.28 472.60 405.18 475.60 404.90C478.60 404.62 480.24 406.46 482.60 408.20C484.96 409.94 486.80 411.04 487.40 413.60C488.00 416.16 486.76 418.40 485.60 421.00C484.44 423.60 484.12 425.28 481.60 426.60C479.08 427.92 475.92 428.12 473.00 427.60C470.08 427.08 468.68 426.22 467.00 424.00C465.32 421.78 464.48 419.38 464.60 416.50Z" fill="#4b6fc4" stroke="#27355f" stroke-width="0.6" stroke-linejoin="round"/>
<path d="M467.80 417.60C467.88 415.44 467.76 413.16 469.40 411.60C471.04 410.04 473.28 409.96 476.00 409.80C478.72 409.64 480.96 409.76 483.00 410.80C485.04 411.84 485.92 413.00 486.20 415.00C486.48 417.00 485.52 418.80 484.40 420.80C483.28 422.80 482.88 424.08 480.60 425.00C478.32 425.92 475.32 425.92 473.00 425.40C470.68 424.88 470.04 423.96 469.00 422.40C467.96 420.84 467.72 419.76 467.80 417.60Z" fill="#f2cbf9" stroke="#d2b0e6" stroke-width="0.4" stroke-linejoin="round"/>
<line x1="486" y1="412.3" x2="491" y2="407.9" stroke="#62ad5a" stroke-width="2.2"/>
<line x1="491" y1="407.9" x2="491.6" y2="400.1" stroke="#62ad5a" stroke-width="2.1"/>
<line x1="491.36" y1="403.22" x2="491.6" y2="400.1" stroke="#e9a63a" stroke-width="2.2"/>
<line x1="491" y1="407.9" x2="498.8" y2="408.5" stroke="#62ad5a" stroke-width="2.1"/>
<line x1="495.68" y1="408.26" x2="498.8" y2="408.5" stroke="#e9a63a" stroke-width="2.2"/>
<text x="0" y="0" font-size="5.5" text-anchor="start" font-weight="normal" fill="#2a2a2a" transform="translate(490.2,417.1) scale(0.896,1)" stroke="none">BCR</text>
<text x="0" y="0" font-size="6.9" text-anchor="middle" font-weight="normal" fill="#222" transform="translate(274.5,437.6) scale(0.92,1)" stroke="#222" stroke-width="0.06">HSC</text>
<text x="0" y="0" font-size="6.9" text-anchor="middle" font-weight="normal" fill="#222" transform="translate(311.7,437.6) scale(0.902,1)" stroke="#222" stroke-width="0.06">CLP/early B</text>
<text transform="translate(338,437.6) scale(0.931,1)" font-size="6.9"><tspan fill="#7d6cc9">pro-B</tspan><tspan fill="#333"> (i)</tspan></text>
<text transform="translate(373,437.6) scale(0.926,1)" font-size="6.9"><tspan fill="#d91c8e">pre-B</tspan><tspan fill="#333"> (ii)</tspan></text>
<text transform="translate(409.2,437.6) scale(0.949,1)" font-size="6.9"><tspan fill="#3ba86c">immature B</tspan><tspan fill="#333"> (iii)</tspan></text>
<text transform="translate(461.5,437.6) scale(0.919,1)" font-size="6.9"><tspan fill="#9fd5e2">mature B</tspan><tspan fill="#333"> (iv)</tspan></text>
<text x="0" y="0" font-size="5.7" text-anchor="start" font-weight="normal" fill="#2a2a2a" transform="translate(265.8,449.9) scale(1.04,1)" stroke="none">CD34+</text>
<text x="0" y="0" font-size="5.7" text-anchor="start" font-weight="normal" fill="#2a2a2a" transform="translate(265.8,455.84999999999997) scale(1.04,1)" stroke="none">CD19-</text>
<text x="0" y="0" font-size="5.7" text-anchor="start" font-weight="normal" fill="#2a2a2a" transform="translate(265.8,461.79999999999995) scale(1.04,1)" stroke="none">CD10-</text>
<text x="0" y="0" font-size="5.7" text-anchor="start" font-weight="normal" fill="#2a2a2a" transform="translate(303,449.9) scale(1.04,1)" stroke="none">CD34+</text>
<text x="0" y="0" font-size="5.7" text-anchor="start" font-weight="normal" fill="#2a2a2a" transform="translate(303,455.84999999999997) scale(1.04,1)" stroke="none">CD19-</text>
<text x="0" y="0" font-size="5.7" text-anchor="start" font-weight="normal" fill="#2a2a2a" transform="translate(303,461.79999999999995) scale(1.04,1)" stroke="none">CD10+</text>
<text x="0" y="0" font-size="5.7" text-anchor="start" font-weight="normal" fill="#2a2a2a" transform="translate(341.2,449.9) scale(1.04,1)" stroke="none">CD34+</text>
<text x="0" y="0" font-size="5.7" text-anchor="start" font-weight="normal" fill="#2a2a2a" transform="translate(341.2,455.84999999999997) scale(1.04,1)" stroke="none">CD19+</text>
<text x="0" y="0" font-size="5.7" text-anchor="start" font-weight="normal" fill="#2a2a2a" transform="translate(341.2,461.79999999999995) scale(1.04,1)" stroke="none">CD10+</text>
<text x="0" y="0" font-size="5.7" text-anchor="start" font-weight="normal" fill="#2a2a2a" transform="translate(341.2,467.75) scale(1.04,1)" stroke="none">CD20-</text>
<text x="0" y="0" font-size="5.7" text-anchor="start" font-weight="normal" fill="#2a2a2a" transform="translate(373.2,449.9) scale(1.04,1)" stroke="none">CD34-</text>
<text x="0" y="0" font-size="5.7" text-anchor="start" font-weight="normal" fill="#2a2a2a" transform="translate(373.2,455.84999999999997) scale(1.04,1)" stroke="none">CD19+</text>
<text x="0" y="0" font-size="5.7" text-anchor="start" font-weight="normal" fill="#2a2a2a" transform="translate(373.2,461.79999999999995) scale(1.04,1)" stroke="none">CD10+</text>
<text x="0" y="0" font-size="5.7" text-anchor="start" font-weight="normal" fill="#2a2a2a" transform="translate(373.2,467.75) scale(1.04,1)" stroke="none">CD20Het</text>
<text x="0" y="0" font-size="5.7" text-anchor="start" font-weight="normal" fill="#2a2a2a" transform="translate(419.4,449.9) scale(1.04,1)" stroke="none">CD34-</text>
<text x="0" y="0" font-size="5.7" text-anchor="start" font-weight="normal" fill="#2a2a2a" transform="translate(419.4,455.84999999999997) scale(1.04,1)" stroke="none">CD19+</text>
<text x="0" y="0" font-size="5.7" text-anchor="start" font-weight="normal" fill="#2a2a2a" transform="translate(419.4,461.79999999999995) scale(1.04,1)" stroke="none">CD10dim</text>
<text x="0" y="0" font-size="5.7" text-anchor="start" font-weight="normal" fill="#2a2a2a" transform="translate(419.4,467.75) scale(1.04,1)" stroke="none">CD20+</text>
<text x="0" y="0" font-size="5.7" text-anchor="start" font-weight="normal" fill="#2a2a2a" transform="translate(471.4,449.9) scale(1.04,1)" stroke="none">CD34-</text>
<text x="0" y="0" font-size="5.7" text-anchor="start" font-weight="normal" fill="#2a2a2a" transform="translate(471.4,455.84999999999997) scale(1.04,1)" stroke="none">CD19+</text>
<text x="0" y="0" font-size="5.7" text-anchor="start" font-weight="normal" fill="#2a2a2a" transform="translate(471.4,461.79999999999995) scale(1.04,1)" stroke="none">CD10-</text>
<text x="0" y="0" font-size="5.7" text-anchor="start" font-weight="normal" fill="#2a2a2a" transform="translate(471.4,467.75) scale(1.04,1)" stroke="none">CD20+</text>
<rect x="0.5" y="0.5" width="519" height="535.75" fill="none" stroke="#000" stroke-width="1"/>
<rect x="0" y="535.5" width="520" height="1.5" fill="#000"/>
</svg>
</body></html>
